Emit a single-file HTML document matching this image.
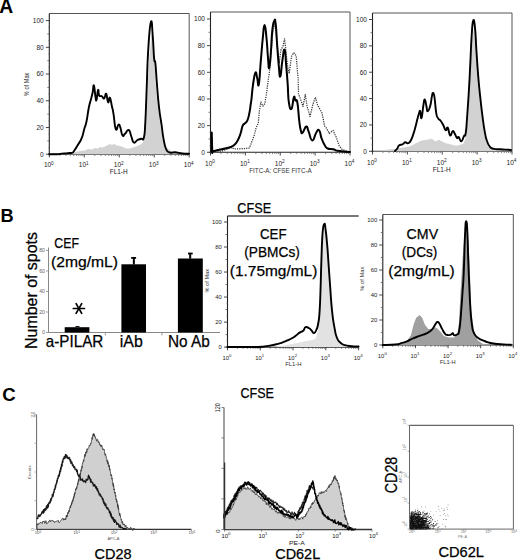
<!DOCTYPE html>
<html><head><meta charset="utf-8"><style>
html,body{margin:0;padding:0;background:#fff;overflow:hidden;width:520px;height:560px;}
svg{display:block;font-family:"Liberation Sans", sans-serif;}
</style></head><body>
<svg width="520" height="560" viewBox="0 0 520 560">
<rect width="520" height="560" fill="#fff"/>
<text x="-0.70" y="12.90" font-size="19.3" text-anchor="start" font-weight="bold" fill="#000" >A</text>
<text x="0.60" y="222.10" font-size="18.2" text-anchor="start" font-weight="bold" fill="#000" >B</text>
<text x="2.20" y="401.40" font-size="18.6" text-anchor="start" font-weight="bold" fill="#000" >C</text>
<line x1="49.30" y1="13.50" x2="189.20" y2="13.50" stroke="#555" stroke-width="1" />
<line x1="189.20" y1="13.50" x2="189.20" y2="154.20" stroke="#555" stroke-width="1" />
<line x1="49.30" y1="13.50" x2="49.30" y2="155.20" stroke="#222" stroke-width="1.1" />
<line x1="48.30" y1="154.20" x2="189.20" y2="154.20" stroke="#222" stroke-width="1.1" />
<line x1="45.80" y1="154.20" x2="49.30" y2="154.20" stroke="#333" stroke-width="0.9" />
<text x="43.70" y="156.50" font-size="6.5" text-anchor="end" font-weight="normal" fill="#1a1a1a" >0</text>
<line x1="45.80" y1="127.48" x2="49.30" y2="127.48" stroke="#333" stroke-width="0.9" />
<text x="43.70" y="129.78" font-size="6.5" text-anchor="end" font-weight="normal" fill="#1a1a1a" >20</text>
<line x1="45.80" y1="100.76" x2="49.30" y2="100.76" stroke="#333" stroke-width="0.9" />
<text x="43.70" y="103.06" font-size="6.5" text-anchor="end" font-weight="normal" fill="#1a1a1a" >40</text>
<line x1="45.80" y1="74.04" x2="49.30" y2="74.04" stroke="#333" stroke-width="0.9" />
<text x="43.70" y="76.34" font-size="6.5" text-anchor="end" font-weight="normal" fill="#1a1a1a" >60</text>
<line x1="45.80" y1="47.32" x2="49.30" y2="47.32" stroke="#333" stroke-width="0.9" />
<text x="43.70" y="49.62" font-size="6.5" text-anchor="end" font-weight="normal" fill="#1a1a1a" >80</text>
<line x1="45.80" y1="20.60" x2="49.30" y2="20.60" stroke="#333" stroke-width="0.9" />
<text x="43.70" y="22.90" font-size="6.5" text-anchor="end" font-weight="normal" fill="#1a1a1a" >100</text>
<line x1="47.30" y1="140.84" x2="49.30" y2="140.84" stroke="#555" stroke-width="0.8" />
<line x1="47.30" y1="114.12" x2="49.30" y2="114.12" stroke="#555" stroke-width="0.8" />
<line x1="47.30" y1="87.40" x2="49.30" y2="87.40" stroke="#555" stroke-width="0.8" />
<line x1="47.30" y1="60.68" x2="49.30" y2="60.68" stroke="#555" stroke-width="0.8" />
<line x1="47.30" y1="33.96" x2="49.30" y2="33.96" stroke="#555" stroke-width="0.8" />
<line x1="48.10" y1="147.52" x2="49.30" y2="147.52" stroke="#777" stroke-width="0.6" />
<line x1="48.10" y1="134.16" x2="49.30" y2="134.16" stroke="#777" stroke-width="0.6" />
<line x1="48.10" y1="120.80" x2="49.30" y2="120.80" stroke="#777" stroke-width="0.6" />
<line x1="48.10" y1="107.44" x2="49.30" y2="107.44" stroke="#777" stroke-width="0.6" />
<line x1="48.10" y1="94.08" x2="49.30" y2="94.08" stroke="#777" stroke-width="0.6" />
<line x1="48.10" y1="80.72" x2="49.30" y2="80.72" stroke="#777" stroke-width="0.6" />
<line x1="48.10" y1="67.36" x2="49.30" y2="67.36" stroke="#777" stroke-width="0.6" />
<line x1="48.10" y1="54.00" x2="49.30" y2="54.00" stroke="#777" stroke-width="0.6" />
<line x1="48.10" y1="40.64" x2="49.30" y2="40.64" stroke="#777" stroke-width="0.6" />
<line x1="48.10" y1="27.28" x2="49.30" y2="27.28" stroke="#777" stroke-width="0.6" />
<line x1="49.30" y1="154.20" x2="49.30" y2="157.40" stroke="#333" stroke-width="0.9" />
<text x="48.80" y="167.30" font-size="6.5" text-anchor="middle" fill="#1a1a1a">10<tspan dy="-2.73" font-size="4.68">0</tspan></text>
<line x1="59.83" y1="154.20" x2="59.83" y2="156.00" stroke="#555" stroke-width="0.7" />
<line x1="65.99" y1="154.20" x2="65.99" y2="156.00" stroke="#555" stroke-width="0.7" />
<line x1="70.36" y1="154.20" x2="70.36" y2="156.00" stroke="#555" stroke-width="0.7" />
<line x1="73.75" y1="154.20" x2="73.75" y2="156.00" stroke="#555" stroke-width="0.7" />
<line x1="76.52" y1="154.20" x2="76.52" y2="156.00" stroke="#555" stroke-width="0.7" />
<line x1="78.86" y1="154.20" x2="78.86" y2="156.00" stroke="#555" stroke-width="0.7" />
<line x1="80.89" y1="154.20" x2="80.89" y2="156.00" stroke="#555" stroke-width="0.7" />
<line x1="82.67" y1="154.20" x2="82.67" y2="156.00" stroke="#555" stroke-width="0.7" />
<line x1="84.27" y1="154.20" x2="84.27" y2="157.40" stroke="#333" stroke-width="0.9" />
<text x="83.77" y="167.30" font-size="6.5" text-anchor="middle" fill="#1a1a1a">10<tspan dy="-2.73" font-size="4.68">1</tspan></text>
<line x1="94.80" y1="154.20" x2="94.80" y2="156.00" stroke="#555" stroke-width="0.7" />
<line x1="100.96" y1="154.20" x2="100.96" y2="156.00" stroke="#555" stroke-width="0.7" />
<line x1="105.33" y1="154.20" x2="105.33" y2="156.00" stroke="#555" stroke-width="0.7" />
<line x1="108.72" y1="154.20" x2="108.72" y2="156.00" stroke="#555" stroke-width="0.7" />
<line x1="111.49" y1="154.20" x2="111.49" y2="156.00" stroke="#555" stroke-width="0.7" />
<line x1="113.83" y1="154.20" x2="113.83" y2="156.00" stroke="#555" stroke-width="0.7" />
<line x1="115.86" y1="154.20" x2="115.86" y2="156.00" stroke="#555" stroke-width="0.7" />
<line x1="117.65" y1="154.20" x2="117.65" y2="156.00" stroke="#555" stroke-width="0.7" />
<line x1="119.25" y1="154.20" x2="119.25" y2="157.40" stroke="#333" stroke-width="0.9" />
<text x="118.75" y="167.30" font-size="6.5" text-anchor="middle" fill="#1a1a1a">10<tspan dy="-2.73" font-size="4.68">2</tspan></text>
<line x1="129.78" y1="154.20" x2="129.78" y2="156.00" stroke="#555" stroke-width="0.7" />
<line x1="135.94" y1="154.20" x2="135.94" y2="156.00" stroke="#555" stroke-width="0.7" />
<line x1="140.31" y1="154.20" x2="140.31" y2="156.00" stroke="#555" stroke-width="0.7" />
<line x1="143.70" y1="154.20" x2="143.70" y2="156.00" stroke="#555" stroke-width="0.7" />
<line x1="146.47" y1="154.20" x2="146.47" y2="156.00" stroke="#555" stroke-width="0.7" />
<line x1="148.81" y1="154.20" x2="148.81" y2="156.00" stroke="#555" stroke-width="0.7" />
<line x1="150.84" y1="154.20" x2="150.84" y2="156.00" stroke="#555" stroke-width="0.7" />
<line x1="152.62" y1="154.20" x2="152.62" y2="156.00" stroke="#555" stroke-width="0.7" />
<line x1="154.22" y1="154.20" x2="154.22" y2="157.40" stroke="#333" stroke-width="0.9" />
<text x="153.72" y="167.30" font-size="6.5" text-anchor="middle" fill="#1a1a1a">10<tspan dy="-2.73" font-size="4.68">3</tspan></text>
<line x1="164.75" y1="154.20" x2="164.75" y2="156.00" stroke="#555" stroke-width="0.7" />
<line x1="170.91" y1="154.20" x2="170.91" y2="156.00" stroke="#555" stroke-width="0.7" />
<line x1="175.28" y1="154.20" x2="175.28" y2="156.00" stroke="#555" stroke-width="0.7" />
<line x1="178.67" y1="154.20" x2="178.67" y2="156.00" stroke="#555" stroke-width="0.7" />
<line x1="181.44" y1="154.20" x2="181.44" y2="156.00" stroke="#555" stroke-width="0.7" />
<line x1="183.78" y1="154.20" x2="183.78" y2="156.00" stroke="#555" stroke-width="0.7" />
<line x1="185.81" y1="154.20" x2="185.81" y2="156.00" stroke="#555" stroke-width="0.7" />
<line x1="187.60" y1="154.20" x2="187.60" y2="156.00" stroke="#555" stroke-width="0.7" />
<line x1="189.20" y1="154.20" x2="189.20" y2="157.40" stroke="#333" stroke-width="0.9" />
<text x="188.70" y="167.30" font-size="6.5" text-anchor="middle" fill="#1a1a1a">10<tspan dy="-2.73" font-size="4.68">4</tspan></text>
<text x="118.70" y="174.20" font-size="7" text-anchor="middle" font-weight="normal" fill="#222" textLength="18" lengthAdjust="spacingAndGlyphs" >FL1-H</text>
<text x="28.70" y="84.40" font-size="6.3" text-anchor="middle" font-weight="normal" fill="#333" transform="rotate(-90 28.70 84.40)" textLength="23.5" lengthAdjust="spacingAndGlyphs" >% of Max</text>
<polygon points="49.30,154.20 49.30,154.20 60.00,153.80 66.00,153.50 73.00,153.20 75.00,152.00 80.00,151.00 85.00,150.50 88.00,149.00 92.00,149.50 95.00,148.00 98.00,148.50 100.00,147.00 103.00,147.50 106.00,146.00 108.00,145.00 110.00,144.00 112.00,145.00 114.00,144.00 117.00,145.50 120.00,146.00 123.00,147.00 126.00,148.50 130.00,148.50 133.00,147.50 136.00,146.50 140.00,145.00 142.00,143.50 143.50,141.00 145.00,130.00 146.00,122.50 147.40,90.00 149.50,55.00 151.50,35.00 152.80,31.40 153.60,45.00 154.30,60.00 155.50,82.00 157.00,100.00 159.50,120.00 163.00,140.00 166.00,147.00 170.20,150.60 178.20,153.30 189.00,154.00 189.00,154.20" fill="#d2d2d2" stroke="none" stroke-width="1" stroke-linejoin="round"/>
<path d="M49.30,154.20C51.35,154.20 53.61,154.36 57.00,154.20C60.39,154.04 59.60,153.81 62.00,153.60C64.40,153.39 63.87,153.56 66.00,153.40C68.13,153.24 68.27,153.21 70.00,153.00C71.73,152.79 71.38,153.19 72.50,152.60C73.62,152.01 72.71,152.93 74.20,150.80C75.69,148.67 76.05,148.09 78.10,144.60C80.15,141.11 80.27,141.81 81.90,137.70C83.53,133.59 82.97,133.52 84.20,129.20C85.43,124.88 85.27,127.23 86.50,121.50C87.73,115.77 87.55,113.83 88.80,107.70C90.05,101.57 90.16,102.61 91.20,98.50C92.24,94.39 91.98,95.79 92.70,92.30C93.42,88.81 93.15,84.17 93.90,85.40C94.65,86.63 94.81,93.01 95.50,96.90C96.19,100.79 95.81,101.84 96.50,100.00C97.19,98.16 97.38,91.23 98.10,90.00C98.82,88.77 98.19,93.75 99.20,95.40C100.21,97.05 100.57,95.37 101.90,96.20C103.23,97.03 103.05,99.14 104.20,98.50C105.35,97.86 105.16,92.79 106.20,93.80C107.24,94.81 107.11,101.26 108.10,102.30C109.09,103.34 108.89,96.66 109.90,97.70C110.91,98.74 110.94,101.91 111.90,106.20C112.86,110.49 112.46,107.67 113.50,113.80C114.54,119.93 114.47,126.32 115.80,129.20C117.13,132.08 117.27,125.00 118.50,124.60C119.73,124.20 119.33,124.79 120.40,127.70C121.47,130.61 121.27,133.89 122.50,135.50C123.73,137.11 123.33,135.22 125.00,133.75C126.67,132.28 127.08,129.33 128.75,130.00C130.42,130.67 129.92,132.92 131.25,136.25C132.58,139.58 132.08,141.50 133.75,142.50C135.42,143.50 135.50,141.00 137.50,140.00C139.50,139.00 139.54,139.42 141.25,138.75C142.96,138.08 142.82,141.83 143.90,137.50C144.98,133.17 144.58,135.06 145.30,122.50C146.02,109.94 145.83,109.68 146.60,90.40C147.37,71.12 147.05,68.44 148.20,50.20C149.35,31.96 149.67,25.57 150.90,22.00C152.13,18.43 151.95,27.15 152.80,36.80C153.65,46.45 153.41,51.05 154.10,58.20C154.79,65.35 154.68,57.17 155.40,63.60C156.12,70.03 155.87,70.89 156.80,82.30C157.73,93.71 157.62,94.96 158.90,106.40C160.18,117.84 160.37,116.61 161.60,125.20C162.83,133.79 162.27,132.17 163.50,138.60C164.73,145.03 164.47,145.59 166.20,149.30C167.93,153.01 167.65,151.70 170.00,152.50C172.35,153.30 171.67,152.03 175.00,152.30C178.33,152.57 178.77,153.10 182.50,153.50C186.23,153.90 187.27,153.72 189.00,153.80" stroke="#000" stroke-width="1.9" fill="none" stroke-linejoin="round" stroke-linecap="round" />
<line x1="210.50" y1="12.00" x2="350.00" y2="12.00" stroke="#555" stroke-width="1" />
<line x1="350.00" y1="12.00" x2="350.00" y2="152.30" stroke="#555" stroke-width="1" />
<line x1="210.50" y1="12.00" x2="210.50" y2="153.30" stroke="#222" stroke-width="1.1" />
<line x1="209.50" y1="152.30" x2="350.00" y2="152.30" stroke="#222" stroke-width="1.1" />
<line x1="207.00" y1="152.30" x2="210.50" y2="152.30" stroke="#333" stroke-width="0.9" />
<text x="204.90" y="154.60" font-size="6.5" text-anchor="end" font-weight="normal" fill="#1a1a1a" >0</text>
<line x1="207.00" y1="125.64" x2="210.50" y2="125.64" stroke="#333" stroke-width="0.9" />
<text x="204.90" y="127.94" font-size="6.5" text-anchor="end" font-weight="normal" fill="#1a1a1a" >20</text>
<line x1="207.00" y1="98.98" x2="210.50" y2="98.98" stroke="#333" stroke-width="0.9" />
<text x="204.90" y="101.28" font-size="6.5" text-anchor="end" font-weight="normal" fill="#1a1a1a" >40</text>
<line x1="207.00" y1="72.32" x2="210.50" y2="72.32" stroke="#333" stroke-width="0.9" />
<text x="204.90" y="74.62" font-size="6.5" text-anchor="end" font-weight="normal" fill="#1a1a1a" >60</text>
<line x1="207.00" y1="45.66" x2="210.50" y2="45.66" stroke="#333" stroke-width="0.9" />
<text x="204.90" y="47.96" font-size="6.5" text-anchor="end" font-weight="normal" fill="#1a1a1a" >80</text>
<line x1="207.00" y1="19.00" x2="210.50" y2="19.00" stroke="#333" stroke-width="0.9" />
<text x="204.90" y="21.30" font-size="6.5" text-anchor="end" font-weight="normal" fill="#1a1a1a" >100</text>
<line x1="208.50" y1="138.97" x2="210.50" y2="138.97" stroke="#555" stroke-width="0.8" />
<line x1="208.50" y1="112.31" x2="210.50" y2="112.31" stroke="#555" stroke-width="0.8" />
<line x1="208.50" y1="85.65" x2="210.50" y2="85.65" stroke="#555" stroke-width="0.8" />
<line x1="208.50" y1="58.99" x2="210.50" y2="58.99" stroke="#555" stroke-width="0.8" />
<line x1="208.50" y1="32.33" x2="210.50" y2="32.33" stroke="#555" stroke-width="0.8" />
<line x1="209.30" y1="145.64" x2="210.50" y2="145.64" stroke="#777" stroke-width="0.6" />
<line x1="209.30" y1="132.31" x2="210.50" y2="132.31" stroke="#777" stroke-width="0.6" />
<line x1="209.30" y1="118.98" x2="210.50" y2="118.98" stroke="#777" stroke-width="0.6" />
<line x1="209.30" y1="105.65" x2="210.50" y2="105.65" stroke="#777" stroke-width="0.6" />
<line x1="209.30" y1="92.31" x2="210.50" y2="92.31" stroke="#777" stroke-width="0.6" />
<line x1="209.30" y1="78.98" x2="210.50" y2="78.98" stroke="#777" stroke-width="0.6" />
<line x1="209.30" y1="65.66" x2="210.50" y2="65.66" stroke="#777" stroke-width="0.6" />
<line x1="209.30" y1="52.33" x2="210.50" y2="52.33" stroke="#777" stroke-width="0.6" />
<line x1="209.30" y1="38.99" x2="210.50" y2="38.99" stroke="#777" stroke-width="0.6" />
<line x1="209.30" y1="25.66" x2="210.50" y2="25.66" stroke="#777" stroke-width="0.6" />
<line x1="210.50" y1="152.30" x2="210.50" y2="155.50" stroke="#333" stroke-width="0.9" />
<text x="210.00" y="165.50" font-size="6.5" text-anchor="middle" fill="#1a1a1a">10<tspan dy="-2.73" font-size="4.68">0</tspan></text>
<line x1="221.00" y1="152.30" x2="221.00" y2="154.10" stroke="#555" stroke-width="0.7" />
<line x1="227.14" y1="152.30" x2="227.14" y2="154.10" stroke="#555" stroke-width="0.7" />
<line x1="231.50" y1="152.30" x2="231.50" y2="154.10" stroke="#555" stroke-width="0.7" />
<line x1="234.88" y1="152.30" x2="234.88" y2="154.10" stroke="#555" stroke-width="0.7" />
<line x1="237.64" y1="152.30" x2="237.64" y2="154.10" stroke="#555" stroke-width="0.7" />
<line x1="239.97" y1="152.30" x2="239.97" y2="154.10" stroke="#555" stroke-width="0.7" />
<line x1="242.00" y1="152.30" x2="242.00" y2="154.10" stroke="#555" stroke-width="0.7" />
<line x1="243.78" y1="152.30" x2="243.78" y2="154.10" stroke="#555" stroke-width="0.7" />
<line x1="245.38" y1="152.30" x2="245.38" y2="155.50" stroke="#333" stroke-width="0.9" />
<text x="244.88" y="165.50" font-size="6.5" text-anchor="middle" fill="#1a1a1a">10<tspan dy="-2.73" font-size="4.68">1</tspan></text>
<line x1="255.87" y1="152.30" x2="255.87" y2="154.10" stroke="#555" stroke-width="0.7" />
<line x1="262.01" y1="152.30" x2="262.01" y2="154.10" stroke="#555" stroke-width="0.7" />
<line x1="266.37" y1="152.30" x2="266.37" y2="154.10" stroke="#555" stroke-width="0.7" />
<line x1="269.75" y1="152.30" x2="269.75" y2="154.10" stroke="#555" stroke-width="0.7" />
<line x1="272.51" y1="152.30" x2="272.51" y2="154.10" stroke="#555" stroke-width="0.7" />
<line x1="274.85" y1="152.30" x2="274.85" y2="154.10" stroke="#555" stroke-width="0.7" />
<line x1="276.87" y1="152.30" x2="276.87" y2="154.10" stroke="#555" stroke-width="0.7" />
<line x1="278.65" y1="152.30" x2="278.65" y2="154.10" stroke="#555" stroke-width="0.7" />
<line x1="280.25" y1="152.30" x2="280.25" y2="155.50" stroke="#333" stroke-width="0.9" />
<text x="279.75" y="165.50" font-size="6.5" text-anchor="middle" fill="#1a1a1a">10<tspan dy="-2.73" font-size="4.68">2</tspan></text>
<line x1="290.75" y1="152.30" x2="290.75" y2="154.10" stroke="#555" stroke-width="0.7" />
<line x1="296.89" y1="152.30" x2="296.89" y2="154.10" stroke="#555" stroke-width="0.7" />
<line x1="301.25" y1="152.30" x2="301.25" y2="154.10" stroke="#555" stroke-width="0.7" />
<line x1="304.63" y1="152.30" x2="304.63" y2="154.10" stroke="#555" stroke-width="0.7" />
<line x1="307.39" y1="152.30" x2="307.39" y2="154.10" stroke="#555" stroke-width="0.7" />
<line x1="309.72" y1="152.30" x2="309.72" y2="154.10" stroke="#555" stroke-width="0.7" />
<line x1="311.75" y1="152.30" x2="311.75" y2="154.10" stroke="#555" stroke-width="0.7" />
<line x1="313.53" y1="152.30" x2="313.53" y2="154.10" stroke="#555" stroke-width="0.7" />
<line x1="315.12" y1="152.30" x2="315.12" y2="155.50" stroke="#333" stroke-width="0.9" />
<text x="314.62" y="165.50" font-size="6.5" text-anchor="middle" fill="#1a1a1a">10<tspan dy="-2.73" font-size="4.68">3</tspan></text>
<line x1="325.62" y1="152.30" x2="325.62" y2="154.10" stroke="#555" stroke-width="0.7" />
<line x1="331.76" y1="152.30" x2="331.76" y2="154.10" stroke="#555" stroke-width="0.7" />
<line x1="336.12" y1="152.30" x2="336.12" y2="154.10" stroke="#555" stroke-width="0.7" />
<line x1="339.50" y1="152.30" x2="339.50" y2="154.10" stroke="#555" stroke-width="0.7" />
<line x1="342.26" y1="152.30" x2="342.26" y2="154.10" stroke="#555" stroke-width="0.7" />
<line x1="344.60" y1="152.30" x2="344.60" y2="154.10" stroke="#555" stroke-width="0.7" />
<line x1="346.62" y1="152.30" x2="346.62" y2="154.10" stroke="#555" stroke-width="0.7" />
<line x1="348.40" y1="152.30" x2="348.40" y2="154.10" stroke="#555" stroke-width="0.7" />
<line x1="350.00" y1="152.30" x2="350.00" y2="155.50" stroke="#333" stroke-width="0.9" />
<text x="349.50" y="165.50" font-size="6.5" text-anchor="middle" fill="#1a1a1a">10<tspan dy="-2.73" font-size="4.68">4</tspan></text>
<text x="280.50" y="172.80" font-size="6.4" text-anchor="middle" font-weight="normal" fill="#333" textLength="62.5" lengthAdjust="spacingAndGlyphs" >FITC-A: CFSE FITC-A</text>
<polyline points="210.50,151.00 221.20,151.20 231.90,147.50 233.90,149.00 245.40,148.50 249.40,147.90 252.10,141.10 254.10,135.80 256.10,127.70 258.20,123.60 259.50,110.20 260.90,102.10 262.90,106.20 264.90,103.50 266.20,95.40 267.70,84.20 269.80,69.00 271.50,48.00 273.00,30.00 274.50,24.00 276.00,32.00 277.50,48.00 279.20,63.00 280.80,50.40 283.10,45.80 284.60,38.80 286.20,53.50 287.70,67.30 289.20,73.50 291.50,56.50 293.80,52.70 296.20,55.80 297.20,68.80 298.20,79.60 298.50,94.00 300.50,99.00 303.00,106.50 305.30,94.50 307.00,106.00 310.00,116.50 313.00,104.00 315.40,97.30 317.50,105.00 319.50,108.50 322.00,113.00 324.60,126.00 326.90,128.80 329.20,133.50 333.10,130.40 336.20,137.30 339.20,145.80 342.30,149.60 346.90,151.20 350.00,151.80" stroke="#333" stroke-width="1.25" fill="none" stroke-linejoin="round" stroke-linecap="butt" stroke-dasharray="1.2 1.1"/>
<path d="M211.70,151.50C211.70,146.41 211.54,132.64 211.70,132.40C211.86,132.16 211.93,145.59 212.30,150.60C212.67,155.61 211.45,151.39 213.10,151.20C214.75,151.01 215.27,150.62 218.50,149.90C221.73,149.18 222.16,149.22 225.20,148.50C228.24,147.78 227.58,148.08 229.90,147.20C232.22,146.32 231.93,146.83 233.90,145.20C235.87,143.57 235.59,143.98 237.30,141.10C239.01,138.22 238.86,138.51 240.30,134.40C241.74,130.29 241.53,128.58 242.70,125.70C243.87,122.82 243.45,125.04 244.70,123.60C245.95,122.16 246.15,123.15 247.40,120.30C248.65,117.45 248.49,117.38 249.40,112.90C250.31,108.42 250.24,107.26 250.80,103.50C251.36,99.74 250.89,103.95 251.50,98.80C252.11,93.65 252.06,91.16 253.10,84.20C254.14,77.24 254.31,74.35 255.40,72.70C256.49,71.05 256.29,74.93 257.20,78.00C258.11,81.07 257.84,88.68 258.80,84.20C259.76,79.72 259.73,73.52 260.80,61.20C261.87,48.88 261.79,47.65 262.80,38.00C263.81,28.35 263.61,25.00 264.60,25.00C265.59,25.00 265.59,29.20 266.50,38.00C267.41,46.80 267.28,50.00 268.00,58.00C268.72,66.00 268.45,69.20 269.20,68.00C269.95,66.80 269.97,63.53 270.80,53.50C271.63,43.47 271.39,39.01 272.30,30.40C273.21,21.79 273.29,22.85 274.20,21.20C275.11,19.55 274.90,17.64 275.70,24.20C276.50,30.76 276.37,34.71 277.20,45.80C278.03,56.89 277.97,57.61 278.80,65.80C279.63,73.99 279.37,77.73 280.30,76.50C281.23,75.27 281.15,68.37 282.30,61.20C283.45,54.03 283.56,48.37 284.60,49.60C285.64,50.83 285.37,56.57 286.20,65.80C287.03,75.03 287.01,74.57 287.70,84.20C288.39,93.83 287.79,95.34 288.80,101.90C289.81,108.46 290.17,110.03 291.50,108.80C292.83,107.57 292.76,99.54 293.80,97.30C294.84,95.06 294.44,98.96 295.40,100.40C296.36,101.84 296.39,97.37 297.40,102.70C298.41,108.03 298.29,113.01 299.20,120.40C300.11,127.79 299.89,127.12 300.80,130.40C301.71,133.68 301.16,133.74 302.60,132.70C304.04,131.66 304.63,126.90 306.20,126.50C307.77,126.10 306.87,127.49 308.50,131.20C310.13,134.91 310.25,140.00 312.30,140.40C314.35,140.80 314.36,135.37 316.20,132.70C318.04,130.03 317.79,128.96 319.20,130.40C320.61,131.84 320.06,134.21 321.50,138.10C322.94,141.99 322.95,142.23 324.60,145.00C326.25,147.77 325.43,147.35 327.70,148.50C329.97,149.65 330.43,148.69 333.10,149.30C335.77,149.91 334.85,150.21 337.70,150.80C340.55,151.39 340.52,151.18 343.80,151.50C347.08,151.82 348.35,151.87 350.00,152.00" stroke="#000" stroke-width="2.0" fill="none" stroke-linejoin="round" stroke-linecap="round" />
<line x1="372.50" y1="13.00" x2="512.00" y2="13.00" stroke="#555" stroke-width="1" />
<line x1="512.00" y1="13.00" x2="512.00" y2="151.30" stroke="#555" stroke-width="1" />
<line x1="372.50" y1="13.00" x2="372.50" y2="152.30" stroke="#222" stroke-width="1.1" />
<line x1="371.50" y1="151.30" x2="512.00" y2="151.30" stroke="#222" stroke-width="1.1" />
<line x1="369.00" y1="151.30" x2="372.50" y2="151.30" stroke="#333" stroke-width="0.9" />
<text x="366.90" y="153.60" font-size="6.5" text-anchor="end" font-weight="normal" fill="#1a1a1a" >0</text>
<line x1="369.00" y1="124.94" x2="372.50" y2="124.94" stroke="#333" stroke-width="0.9" />
<text x="366.90" y="127.24" font-size="6.5" text-anchor="end" font-weight="normal" fill="#1a1a1a" >20</text>
<line x1="369.00" y1="98.58" x2="372.50" y2="98.58" stroke="#333" stroke-width="0.9" />
<text x="366.90" y="100.88" font-size="6.5" text-anchor="end" font-weight="normal" fill="#1a1a1a" >40</text>
<line x1="369.00" y1="72.22" x2="372.50" y2="72.22" stroke="#333" stroke-width="0.9" />
<text x="366.90" y="74.52" font-size="6.5" text-anchor="end" font-weight="normal" fill="#1a1a1a" >60</text>
<line x1="369.00" y1="45.86" x2="372.50" y2="45.86" stroke="#333" stroke-width="0.9" />
<text x="366.90" y="48.16" font-size="6.5" text-anchor="end" font-weight="normal" fill="#1a1a1a" >80</text>
<line x1="369.00" y1="19.50" x2="372.50" y2="19.50" stroke="#333" stroke-width="0.9" />
<text x="366.90" y="21.80" font-size="6.5" text-anchor="end" font-weight="normal" fill="#1a1a1a" >100</text>
<line x1="370.50" y1="138.12" x2="372.50" y2="138.12" stroke="#555" stroke-width="0.8" />
<line x1="370.50" y1="111.76" x2="372.50" y2="111.76" stroke="#555" stroke-width="0.8" />
<line x1="370.50" y1="85.40" x2="372.50" y2="85.40" stroke="#555" stroke-width="0.8" />
<line x1="370.50" y1="59.04" x2="372.50" y2="59.04" stroke="#555" stroke-width="0.8" />
<line x1="370.50" y1="32.68" x2="372.50" y2="32.68" stroke="#555" stroke-width="0.8" />
<line x1="371.30" y1="144.71" x2="372.50" y2="144.71" stroke="#777" stroke-width="0.6" />
<line x1="371.30" y1="131.53" x2="372.50" y2="131.53" stroke="#777" stroke-width="0.6" />
<line x1="371.30" y1="118.35" x2="372.50" y2="118.35" stroke="#777" stroke-width="0.6" />
<line x1="371.30" y1="105.17" x2="372.50" y2="105.17" stroke="#777" stroke-width="0.6" />
<line x1="371.30" y1="91.99" x2="372.50" y2="91.99" stroke="#777" stroke-width="0.6" />
<line x1="371.30" y1="78.81" x2="372.50" y2="78.81" stroke="#777" stroke-width="0.6" />
<line x1="371.30" y1="65.63" x2="372.50" y2="65.63" stroke="#777" stroke-width="0.6" />
<line x1="371.30" y1="52.45" x2="372.50" y2="52.45" stroke="#777" stroke-width="0.6" />
<line x1="371.30" y1="39.27" x2="372.50" y2="39.27" stroke="#777" stroke-width="0.6" />
<line x1="371.30" y1="26.09" x2="372.50" y2="26.09" stroke="#777" stroke-width="0.6" />
<line x1="372.50" y1="151.30" x2="372.50" y2="154.50" stroke="#333" stroke-width="0.9" />
<text x="372.00" y="164.50" font-size="6.5" text-anchor="middle" fill="#1a1a1a">10<tspan dy="-2.73" font-size="4.68">0</tspan></text>
<line x1="383.00" y1="151.30" x2="383.00" y2="153.10" stroke="#555" stroke-width="0.7" />
<line x1="389.14" y1="151.30" x2="389.14" y2="153.10" stroke="#555" stroke-width="0.7" />
<line x1="393.50" y1="151.30" x2="393.50" y2="153.10" stroke="#555" stroke-width="0.7" />
<line x1="396.88" y1="151.30" x2="396.88" y2="153.10" stroke="#555" stroke-width="0.7" />
<line x1="399.64" y1="151.30" x2="399.64" y2="153.10" stroke="#555" stroke-width="0.7" />
<line x1="401.97" y1="151.30" x2="401.97" y2="153.10" stroke="#555" stroke-width="0.7" />
<line x1="404.00" y1="151.30" x2="404.00" y2="153.10" stroke="#555" stroke-width="0.7" />
<line x1="405.78" y1="151.30" x2="405.78" y2="153.10" stroke="#555" stroke-width="0.7" />
<line x1="407.38" y1="151.30" x2="407.38" y2="154.50" stroke="#333" stroke-width="0.9" />
<text x="406.88" y="164.50" font-size="6.5" text-anchor="middle" fill="#1a1a1a">10<tspan dy="-2.73" font-size="4.68">1</tspan></text>
<line x1="417.87" y1="151.30" x2="417.87" y2="153.10" stroke="#555" stroke-width="0.7" />
<line x1="424.01" y1="151.30" x2="424.01" y2="153.10" stroke="#555" stroke-width="0.7" />
<line x1="428.37" y1="151.30" x2="428.37" y2="153.10" stroke="#555" stroke-width="0.7" />
<line x1="431.75" y1="151.30" x2="431.75" y2="153.10" stroke="#555" stroke-width="0.7" />
<line x1="434.51" y1="151.30" x2="434.51" y2="153.10" stroke="#555" stroke-width="0.7" />
<line x1="436.85" y1="151.30" x2="436.85" y2="153.10" stroke="#555" stroke-width="0.7" />
<line x1="438.87" y1="151.30" x2="438.87" y2="153.10" stroke="#555" stroke-width="0.7" />
<line x1="440.65" y1="151.30" x2="440.65" y2="153.10" stroke="#555" stroke-width="0.7" />
<line x1="442.25" y1="151.30" x2="442.25" y2="154.50" stroke="#333" stroke-width="0.9" />
<text x="441.75" y="164.50" font-size="6.5" text-anchor="middle" fill="#1a1a1a">10<tspan dy="-2.73" font-size="4.68">2</tspan></text>
<line x1="452.75" y1="151.30" x2="452.75" y2="153.10" stroke="#555" stroke-width="0.7" />
<line x1="458.89" y1="151.30" x2="458.89" y2="153.10" stroke="#555" stroke-width="0.7" />
<line x1="463.25" y1="151.30" x2="463.25" y2="153.10" stroke="#555" stroke-width="0.7" />
<line x1="466.63" y1="151.30" x2="466.63" y2="153.10" stroke="#555" stroke-width="0.7" />
<line x1="469.39" y1="151.30" x2="469.39" y2="153.10" stroke="#555" stroke-width="0.7" />
<line x1="471.72" y1="151.30" x2="471.72" y2="153.10" stroke="#555" stroke-width="0.7" />
<line x1="473.75" y1="151.30" x2="473.75" y2="153.10" stroke="#555" stroke-width="0.7" />
<line x1="475.53" y1="151.30" x2="475.53" y2="153.10" stroke="#555" stroke-width="0.7" />
<line x1="477.12" y1="151.30" x2="477.12" y2="154.50" stroke="#333" stroke-width="0.9" />
<text x="476.62" y="164.50" font-size="6.5" text-anchor="middle" fill="#1a1a1a">10<tspan dy="-2.73" font-size="4.68">3</tspan></text>
<line x1="487.62" y1="151.30" x2="487.62" y2="153.10" stroke="#555" stroke-width="0.7" />
<line x1="493.76" y1="151.30" x2="493.76" y2="153.10" stroke="#555" stroke-width="0.7" />
<line x1="498.12" y1="151.30" x2="498.12" y2="153.10" stroke="#555" stroke-width="0.7" />
<line x1="501.50" y1="151.30" x2="501.50" y2="153.10" stroke="#555" stroke-width="0.7" />
<line x1="504.26" y1="151.30" x2="504.26" y2="153.10" stroke="#555" stroke-width="0.7" />
<line x1="506.60" y1="151.30" x2="506.60" y2="153.10" stroke="#555" stroke-width="0.7" />
<line x1="508.62" y1="151.30" x2="508.62" y2="153.10" stroke="#555" stroke-width="0.7" />
<line x1="510.40" y1="151.30" x2="510.40" y2="153.10" stroke="#555" stroke-width="0.7" />
<line x1="512.00" y1="151.30" x2="512.00" y2="154.50" stroke="#333" stroke-width="0.9" />
<text x="511.50" y="164.50" font-size="6.5" text-anchor="middle" fill="#1a1a1a">10<tspan dy="-2.73" font-size="4.68">4</tspan></text>
<text x="441.75" y="172.00" font-size="7" text-anchor="middle" font-weight="normal" fill="#222" textLength="18" lengthAdjust="spacingAndGlyphs" >FL1-H</text>
<polygon points="372.50,151.30 372.50,151.30 390.40,149.20 397.30,148.40 409.40,146.60 414.60,144.00 421.50,140.60 426.70,139.70 431.90,138.80 435.40,141.40 438.80,139.70 442.30,141.40 445.80,143.20 449.20,144.00 456.20,145.80 463.10,144.00 465.70,138.00 467.50,120.00 469.00,95.00 470.50,65.00 472.00,40.00 474.30,26.00 476.00,35.00 477.80,63.60 480.40,98.40 483.10,127.90 485.80,141.30 488.50,147.20 492.50,149.30 500.00,150.50 511.00,151.00 511.00,151.30" fill="#d2d2d2" stroke="none" stroke-width="1" stroke-linejoin="round"/>
<path d="M395.00,151.00C395.61,150.33 396.23,149.99 397.30,148.50C398.37,147.01 397.61,146.49 399.00,145.40C400.39,144.31 400.87,145.23 402.50,144.40C404.13,143.57 403.71,142.62 405.10,142.30C406.49,141.98 406.31,143.44 407.70,143.20C409.09,142.96 408.91,143.48 410.30,141.40C411.69,139.32 411.51,139.32 412.90,135.40C414.29,131.48 414.35,130.86 415.50,126.70C416.65,122.54 416.29,123.27 417.20,119.80C418.11,116.33 418.10,115.99 418.90,113.70C419.70,111.41 419.51,110.03 420.20,111.20C420.89,112.37 420.67,119.49 421.50,118.10C422.33,116.71 422.45,110.99 423.30,106.00C424.15,101.01 423.87,99.40 424.70,99.40C425.53,99.40 425.63,102.85 426.40,106.00C427.17,109.15 426.59,111.20 427.60,111.20C428.61,111.20 429.05,109.95 430.20,106.00C431.35,102.05 431.13,99.87 431.90,96.40C432.67,92.93 432.41,92.76 433.10,93.00C433.79,93.24 433.67,91.99 434.50,97.30C435.33,102.61 435.27,107.35 436.20,112.90C437.13,118.45 436.83,116.02 438.00,118.10C439.17,120.18 439.21,118.86 440.60,120.70C441.99,122.54 441.81,122.47 443.20,125.00C444.59,127.53 444.57,129.51 445.80,130.20C447.03,130.89 446.65,126.21 447.80,127.60C448.95,128.99 448.79,134.47 450.10,135.40C451.41,136.33 451.45,131.55 452.70,131.10C453.95,130.65 453.65,131.86 454.80,133.70C455.95,135.54 455.96,137.09 457.00,138.00C458.04,138.91 457.55,136.19 458.70,137.10C459.85,138.01 459.91,141.64 461.30,141.40C462.69,141.16 462.73,138.39 463.90,136.20C465.07,134.01 464.85,138.27 465.70,133.20C466.55,128.13 466.25,128.61 467.10,117.20C467.95,105.79 468.05,104.69 468.90,90.40C469.75,76.11 469.58,77.89 470.30,63.60C471.02,49.31 470.83,48.24 471.60,36.80C472.37,25.36 472.27,22.83 473.20,20.70C474.13,18.57 474.25,20.93 475.10,28.80C475.95,36.67 475.55,37.35 476.40,50.20C477.25,63.05 477.23,64.15 478.30,77.00C479.37,89.85 479.25,87.68 480.40,98.40C481.55,109.12 481.37,107.92 482.60,117.20C483.83,126.48 483.80,126.77 485.00,133.20C486.20,139.63 485.82,137.73 487.10,141.30C488.38,144.87 488.01,144.60 489.80,146.60C491.59,148.60 490.95,148.08 493.80,148.80C496.65,149.52 496.55,149.03 500.50,149.30C504.45,149.57 505.80,149.61 508.60,149.80C511.40,149.99 510.36,149.95 511.00,150.00" stroke="#000" stroke-width="1.9" fill="none" stroke-linejoin="round" stroke-linecap="round" />
<line x1="48.50" y1="247.50" x2="48.50" y2="332.50" stroke="#888" stroke-width="1" />
<line x1="48.50" y1="332.50" x2="220.00" y2="332.50" stroke="#888" stroke-width="1" />
<line x1="46.00" y1="332.50" x2="48.50" y2="332.50" stroke="#888" stroke-width="0.8" />
<text x="45.00" y="334.30" font-size="5.2" text-anchor="end" font-weight="normal" fill="#666" >0</text>
<line x1="46.00" y1="312.00" x2="48.50" y2="312.00" stroke="#888" stroke-width="0.8" />
<text x="45.00" y="313.80" font-size="5.2" text-anchor="end" font-weight="normal" fill="#666" >20</text>
<line x1="46.00" y1="291.50" x2="48.50" y2="291.50" stroke="#888" stroke-width="0.8" />
<text x="45.00" y="293.30" font-size="5.2" text-anchor="end" font-weight="normal" fill="#666" >40</text>
<line x1="46.00" y1="271.00" x2="48.50" y2="271.00" stroke="#888" stroke-width="0.8" />
<text x="45.00" y="272.80" font-size="5.2" text-anchor="end" font-weight="normal" fill="#666" >60</text>
<line x1="46.00" y1="250.50" x2="48.50" y2="250.50" stroke="#888" stroke-width="0.8" />
<text x="45.00" y="252.30" font-size="5.2" text-anchor="end" font-weight="normal" fill="#666" >80</text>
<line x1="105.40" y1="332.50" x2="105.40" y2="335.50" stroke="#888" stroke-width="0.8" />
<line x1="161.90" y1="332.50" x2="161.90" y2="335.50" stroke="#888" stroke-width="0.8" />
<rect x="64.7" y="327.2" width="24.7" height="5.3" fill="#000"/>
<line x1="75.50" y1="326.60" x2="79.50" y2="326.60" stroke="#000" stroke-width="1" />
<rect x="121.4" y="264.3" width="24.6" height="68.2" fill="#000"/>
<line x1="133.85" y1="264.50" x2="133.85" y2="258.00" stroke="#000" stroke-width="2" />
<line x1="131.20" y1="257.90" x2="136.10" y2="257.90" stroke="#000" stroke-width="1.8" />
<rect x="177.9" y="258.5" width="24.9" height="74" fill="#000"/>
<line x1="190.20" y1="258.70" x2="190.20" y2="253.60" stroke="#000" stroke-width="2" />
<line x1="188.00" y1="253.50" x2="192.70" y2="253.50" stroke="#000" stroke-width="1.8" />
<text x="37.30" y="349.00" font-size="16.3" text-anchor="start" font-weight="normal" fill="#000" transform="rotate(-90 37.30 349.00)" textLength="117" lengthAdjust="spacingAndGlyphs" stroke="#000" stroke-width="0.25" >Number of spots</text>
<text x="54.30" y="247.50" font-size="14.8" text-anchor="start" font-weight="normal" fill="#000" textLength="24.6" lengthAdjust="spacingAndGlyphs" stroke="#000" stroke-width="0.25" >CEF</text>
<text x="51.00" y="266.90" font-size="14.8" text-anchor="start" font-weight="normal" fill="#000" textLength="67" lengthAdjust="spacingAndGlyphs" stroke="#000" stroke-width="0.25" >(2mg/mL)</text>
<text x="45.80" y="347.10" font-size="16.5" text-anchor="start" font-weight="normal" fill="#000" textLength="57.5" lengthAdjust="spacingAndGlyphs" stroke="#000" stroke-width="0.25" >a-PILAR</text>
<text x="119.80" y="347.10" font-size="16.5" text-anchor="start" font-weight="normal" fill="#000" textLength="23" lengthAdjust="spacingAndGlyphs" stroke="#000" stroke-width="0.25" >iAb</text>
<text x="168.00" y="347.10" font-size="16.5" text-anchor="start" font-weight="normal" fill="#000" textLength="41.8" lengthAdjust="spacingAndGlyphs" stroke="#000" stroke-width="0.25" >No Ab</text>
<line x1="73.30" y1="308.50" x2="84.50" y2="308.50" stroke="#000" stroke-width="1.7" stroke-linecap="round"/>
<line x1="76.10" y1="303.65" x2="81.70" y2="313.35" stroke="#000" stroke-width="1.7" stroke-linecap="round"/>
<line x1="81.70" y1="303.65" x2="76.10" y2="313.35" stroke="#000" stroke-width="1.7" stroke-linecap="round"/>
<line x1="227.50" y1="216.00" x2="358.60" y2="216.00" stroke="#555" stroke-width="1" />
<line x1="227.50" y1="216.00" x2="227.50" y2="348.10" stroke="#222" stroke-width="1.1" />
<line x1="226.50" y1="347.10" x2="358.60" y2="347.10" stroke="#222" stroke-width="1.1" />
<line x1="224.00" y1="347.10" x2="227.50" y2="347.10" stroke="#333" stroke-width="0.9" />
<text x="221.90" y="349.40" font-size="5.9" text-anchor="end" font-weight="normal" fill="#1a1a1a" >0</text>
<line x1="224.00" y1="322.08" x2="227.50" y2="322.08" stroke="#333" stroke-width="0.9" />
<text x="221.90" y="324.38" font-size="5.9" text-anchor="end" font-weight="normal" fill="#1a1a1a" >20</text>
<line x1="224.00" y1="297.06" x2="227.50" y2="297.06" stroke="#333" stroke-width="0.9" />
<text x="221.90" y="299.36" font-size="5.9" text-anchor="end" font-weight="normal" fill="#1a1a1a" >40</text>
<line x1="224.00" y1="272.04" x2="227.50" y2="272.04" stroke="#333" stroke-width="0.9" />
<text x="221.90" y="274.34" font-size="5.9" text-anchor="end" font-weight="normal" fill="#1a1a1a" >60</text>
<line x1="224.00" y1="247.02" x2="227.50" y2="247.02" stroke="#333" stroke-width="0.9" />
<text x="221.90" y="249.32" font-size="5.9" text-anchor="end" font-weight="normal" fill="#1a1a1a" >80</text>
<line x1="224.00" y1="222.00" x2="227.50" y2="222.00" stroke="#333" stroke-width="0.9" />
<text x="221.90" y="224.30" font-size="5.9" text-anchor="end" font-weight="normal" fill="#1a1a1a" >100</text>
<line x1="225.50" y1="334.59" x2="227.50" y2="334.59" stroke="#555" stroke-width="0.8" />
<line x1="225.50" y1="309.57" x2="227.50" y2="309.57" stroke="#555" stroke-width="0.8" />
<line x1="225.50" y1="284.55" x2="227.50" y2="284.55" stroke="#555" stroke-width="0.8" />
<line x1="225.50" y1="259.53" x2="227.50" y2="259.53" stroke="#555" stroke-width="0.8" />
<line x1="225.50" y1="234.51" x2="227.50" y2="234.51" stroke="#555" stroke-width="0.8" />
<line x1="226.30" y1="340.85" x2="227.50" y2="340.85" stroke="#777" stroke-width="0.6" />
<line x1="226.30" y1="328.34" x2="227.50" y2="328.34" stroke="#777" stroke-width="0.6" />
<line x1="226.30" y1="315.83" x2="227.50" y2="315.83" stroke="#777" stroke-width="0.6" />
<line x1="226.30" y1="303.31" x2="227.50" y2="303.31" stroke="#777" stroke-width="0.6" />
<line x1="226.30" y1="290.81" x2="227.50" y2="290.81" stroke="#777" stroke-width="0.6" />
<line x1="226.30" y1="278.30" x2="227.50" y2="278.30" stroke="#777" stroke-width="0.6" />
<line x1="226.30" y1="265.79" x2="227.50" y2="265.79" stroke="#777" stroke-width="0.6" />
<line x1="226.30" y1="253.28" x2="227.50" y2="253.28" stroke="#777" stroke-width="0.6" />
<line x1="226.30" y1="240.76" x2="227.50" y2="240.76" stroke="#777" stroke-width="0.6" />
<line x1="226.30" y1="228.25" x2="227.50" y2="228.25" stroke="#777" stroke-width="0.6" />
<line x1="227.50" y1="347.10" x2="227.50" y2="350.30" stroke="#333" stroke-width="0.9" />
<text x="227.00" y="359.60" font-size="5.9" text-anchor="middle" fill="#1a1a1a">10<tspan dy="-2.48" font-size="4.25">0</tspan></text>
<line x1="237.37" y1="347.10" x2="237.37" y2="348.90" stroke="#555" stroke-width="0.7" />
<line x1="243.14" y1="347.10" x2="243.14" y2="348.90" stroke="#555" stroke-width="0.7" />
<line x1="247.23" y1="347.10" x2="247.23" y2="348.90" stroke="#555" stroke-width="0.7" />
<line x1="250.41" y1="347.10" x2="250.41" y2="348.90" stroke="#555" stroke-width="0.7" />
<line x1="253.00" y1="347.10" x2="253.00" y2="348.90" stroke="#555" stroke-width="0.7" />
<line x1="255.20" y1="347.10" x2="255.20" y2="348.90" stroke="#555" stroke-width="0.7" />
<line x1="257.10" y1="347.10" x2="257.10" y2="348.90" stroke="#555" stroke-width="0.7" />
<line x1="258.78" y1="347.10" x2="258.78" y2="348.90" stroke="#555" stroke-width="0.7" />
<line x1="260.27" y1="347.10" x2="260.27" y2="350.30" stroke="#333" stroke-width="0.9" />
<text x="259.77" y="359.60" font-size="5.9" text-anchor="middle" fill="#1a1a1a">10<tspan dy="-2.48" font-size="4.25">1</tspan></text>
<line x1="270.14" y1="347.10" x2="270.14" y2="348.90" stroke="#555" stroke-width="0.7" />
<line x1="275.91" y1="347.10" x2="275.91" y2="348.90" stroke="#555" stroke-width="0.7" />
<line x1="280.01" y1="347.10" x2="280.01" y2="348.90" stroke="#555" stroke-width="0.7" />
<line x1="283.18" y1="347.10" x2="283.18" y2="348.90" stroke="#555" stroke-width="0.7" />
<line x1="285.78" y1="347.10" x2="285.78" y2="348.90" stroke="#555" stroke-width="0.7" />
<line x1="287.97" y1="347.10" x2="287.97" y2="348.90" stroke="#555" stroke-width="0.7" />
<line x1="289.87" y1="347.10" x2="289.87" y2="348.90" stroke="#555" stroke-width="0.7" />
<line x1="291.55" y1="347.10" x2="291.55" y2="348.90" stroke="#555" stroke-width="0.7" />
<line x1="293.05" y1="347.10" x2="293.05" y2="350.30" stroke="#333" stroke-width="0.9" />
<text x="292.55" y="359.60" font-size="5.9" text-anchor="middle" fill="#1a1a1a">10<tspan dy="-2.48" font-size="4.25">2</tspan></text>
<line x1="302.92" y1="347.10" x2="302.92" y2="348.90" stroke="#555" stroke-width="0.7" />
<line x1="308.69" y1="347.10" x2="308.69" y2="348.90" stroke="#555" stroke-width="0.7" />
<line x1="312.78" y1="347.10" x2="312.78" y2="348.90" stroke="#555" stroke-width="0.7" />
<line x1="315.96" y1="347.10" x2="315.96" y2="348.90" stroke="#555" stroke-width="0.7" />
<line x1="318.55" y1="347.10" x2="318.55" y2="348.90" stroke="#555" stroke-width="0.7" />
<line x1="320.75" y1="347.10" x2="320.75" y2="348.90" stroke="#555" stroke-width="0.7" />
<line x1="322.65" y1="347.10" x2="322.65" y2="348.90" stroke="#555" stroke-width="0.7" />
<line x1="324.33" y1="347.10" x2="324.33" y2="348.90" stroke="#555" stroke-width="0.7" />
<line x1="325.83" y1="347.10" x2="325.83" y2="350.30" stroke="#333" stroke-width="0.9" />
<text x="325.33" y="359.60" font-size="5.9" text-anchor="middle" fill="#1a1a1a">10<tspan dy="-2.48" font-size="4.25">3</tspan></text>
<line x1="335.69" y1="347.10" x2="335.69" y2="348.90" stroke="#555" stroke-width="0.7" />
<line x1="341.46" y1="347.10" x2="341.46" y2="348.90" stroke="#555" stroke-width="0.7" />
<line x1="345.56" y1="347.10" x2="345.56" y2="348.90" stroke="#555" stroke-width="0.7" />
<line x1="348.73" y1="347.10" x2="348.73" y2="348.90" stroke="#555" stroke-width="0.7" />
<line x1="351.33" y1="347.10" x2="351.33" y2="348.90" stroke="#555" stroke-width="0.7" />
<line x1="353.52" y1="347.10" x2="353.52" y2="348.90" stroke="#555" stroke-width="0.7" />
<line x1="355.42" y1="347.10" x2="355.42" y2="348.90" stroke="#555" stroke-width="0.7" />
<line x1="357.10" y1="347.10" x2="357.10" y2="348.90" stroke="#555" stroke-width="0.7" />
<line x1="358.60" y1="347.10" x2="358.60" y2="350.30" stroke="#333" stroke-width="0.9" />
<text x="358.10" y="359.60" font-size="5.9" text-anchor="middle" fill="#1a1a1a">10<tspan dy="-2.48" font-size="4.25">4</tspan></text>
<text x="293.40" y="365.80" font-size="6" text-anchor="middle" font-weight="normal" fill="#333" textLength="16.5" lengthAdjust="spacingAndGlyphs" >FL1-H</text>
<text x="209.10" y="280.70" font-size="5.2" text-anchor="middle" font-weight="normal" fill="#333" transform="rotate(-90 209.10 280.70)" textLength="23.5" lengthAdjust="spacingAndGlyphs" >% of Max</text>
<polygon points="270.00,347.10 270.00,347.00 285.00,345.50 291.20,344.00 298.40,342.80 303.20,341.60 309.20,340.40 315.30,339.20 318.20,330.70 319.80,311.00 320.80,287.00 321.50,263.00 322.70,240.00 324.40,228.00 326.00,236.00 327.60,252.00 329.80,287.00 331.60,311.00 333.80,327.00 336.50,337.00 340.00,342.00 345.00,345.00 358.00,346.50 358.00,347.10" fill="#e2e2e2" stroke="none" stroke-width="1" stroke-linejoin="round"/>
<path d="M227.50,347.00C234.83,347.00 245.11,347.16 255.00,347.00C264.89,346.84 259.45,347.01 264.60,346.40C269.75,345.79 269.79,345.66 274.30,344.70C278.81,343.74 277.98,343.95 281.50,342.80C285.02,341.65 284.59,341.68 287.50,340.40C290.41,339.12 290.13,339.31 292.40,338.00C294.67,336.69 294.08,336.94 296.00,335.50C297.92,334.06 297.68,333.88 299.60,332.60C301.52,331.32 301.60,332.17 303.20,330.70C304.80,329.23 304.00,327.74 305.60,327.10C307.20,326.46 307.57,327.34 309.20,328.30C310.83,329.26 310.39,329.42 311.70,330.70C313.01,331.98 312.82,333.42 314.10,333.10C315.38,332.78 315.41,332.06 316.50,329.50C317.59,326.94 317.37,328.33 318.20,323.50C319.03,318.67 318.96,321.05 319.60,311.40C320.24,301.75 320.15,300.15 320.60,287.30C321.05,274.45 320.79,277.33 321.30,263.20C321.81,249.07 321.73,244.70 322.50,234.30C323.27,223.90 323.37,225.48 324.20,224.20C325.03,222.92 324.77,223.61 325.60,229.50C326.43,235.39 326.53,237.31 327.30,246.30C328.07,255.29 327.73,252.27 328.50,263.20C329.27,274.13 329.24,274.45 330.20,287.30C331.16,300.15 330.93,300.47 332.10,311.40C333.27,322.33 333.29,321.21 334.60,328.30C335.91,335.39 335.40,334.13 337.00,338.00C338.60,341.87 338.49,340.88 340.60,342.80C342.71,344.72 342.02,344.29 344.90,345.20C347.78,346.11 347.75,345.85 351.40,346.20C355.05,346.55 356.68,346.42 358.60,346.50" stroke="#000" stroke-width="1.9" fill="none" stroke-linejoin="round" stroke-linecap="round" />
<text x="237.30" y="212.70" font-size="14.8" text-anchor="start" font-weight="normal" fill="#000" textLength="33.8" lengthAdjust="spacingAndGlyphs" stroke="#000" stroke-width="0.25" >CFSE</text>
<line x1="227.50" y1="216.00" x2="358.60" y2="216.00" stroke="#444" stroke-width="1.1" />
<text x="260.00" y="238.70" font-size="14.8" text-anchor="start" font-weight="normal" fill="#000" textLength="26.5" lengthAdjust="spacingAndGlyphs" stroke="#000" stroke-width="0.25" >CEF</text>
<text x="244.30" y="257.20" font-size="15.2" text-anchor="start" font-weight="normal" fill="#000" textLength="55.5" lengthAdjust="spacingAndGlyphs" stroke="#000" stroke-width="0.25" >(PBMCs)</text>
<text x="229.80" y="276.10" font-size="14.6" text-anchor="start" font-weight="normal" fill="#000" textLength="87.5" lengthAdjust="spacingAndGlyphs" stroke="#000" stroke-width="0.25" >(1.75mg/mL)</text>
<line x1="382.80" y1="214.50" x2="513.30" y2="214.50" stroke="#555" stroke-width="1" />
<line x1="513.30" y1="214.50" x2="513.30" y2="345.00" stroke="#555" stroke-width="1" />
<line x1="382.80" y1="214.50" x2="382.80" y2="346.00" stroke="#222" stroke-width="1.1" />
<line x1="381.80" y1="345.00" x2="513.30" y2="345.00" stroke="#222" stroke-width="1.1" />
<line x1="379.30" y1="345.00" x2="382.80" y2="345.00" stroke="#333" stroke-width="0.9" />
<text x="377.20" y="347.30" font-size="5.9" text-anchor="end" font-weight="normal" fill="#1a1a1a" >0</text>
<line x1="379.30" y1="320.00" x2="382.80" y2="320.00" stroke="#333" stroke-width="0.9" />
<text x="377.20" y="322.30" font-size="5.9" text-anchor="end" font-weight="normal" fill="#1a1a1a" >20</text>
<line x1="379.30" y1="295.00" x2="382.80" y2="295.00" stroke="#333" stroke-width="0.9" />
<text x="377.20" y="297.30" font-size="5.9" text-anchor="end" font-weight="normal" fill="#1a1a1a" >40</text>
<line x1="379.30" y1="270.00" x2="382.80" y2="270.00" stroke="#333" stroke-width="0.9" />
<text x="377.20" y="272.30" font-size="5.9" text-anchor="end" font-weight="normal" fill="#1a1a1a" >60</text>
<line x1="379.30" y1="245.00" x2="382.80" y2="245.00" stroke="#333" stroke-width="0.9" />
<text x="377.20" y="247.30" font-size="5.9" text-anchor="end" font-weight="normal" fill="#1a1a1a" >80</text>
<line x1="379.30" y1="220.00" x2="382.80" y2="220.00" stroke="#333" stroke-width="0.9" />
<text x="377.20" y="222.30" font-size="5.9" text-anchor="end" font-weight="normal" fill="#1a1a1a" >100</text>
<line x1="380.80" y1="332.50" x2="382.80" y2="332.50" stroke="#555" stroke-width="0.8" />
<line x1="380.80" y1="307.50" x2="382.80" y2="307.50" stroke="#555" stroke-width="0.8" />
<line x1="380.80" y1="282.50" x2="382.80" y2="282.50" stroke="#555" stroke-width="0.8" />
<line x1="380.80" y1="257.50" x2="382.80" y2="257.50" stroke="#555" stroke-width="0.8" />
<line x1="380.80" y1="232.50" x2="382.80" y2="232.50" stroke="#555" stroke-width="0.8" />
<line x1="381.60" y1="338.75" x2="382.80" y2="338.75" stroke="#777" stroke-width="0.6" />
<line x1="381.60" y1="326.25" x2="382.80" y2="326.25" stroke="#777" stroke-width="0.6" />
<line x1="381.60" y1="313.75" x2="382.80" y2="313.75" stroke="#777" stroke-width="0.6" />
<line x1="381.60" y1="301.25" x2="382.80" y2="301.25" stroke="#777" stroke-width="0.6" />
<line x1="381.60" y1="288.75" x2="382.80" y2="288.75" stroke="#777" stroke-width="0.6" />
<line x1="381.60" y1="276.25" x2="382.80" y2="276.25" stroke="#777" stroke-width="0.6" />
<line x1="381.60" y1="263.75" x2="382.80" y2="263.75" stroke="#777" stroke-width="0.6" />
<line x1="381.60" y1="251.25" x2="382.80" y2="251.25" stroke="#777" stroke-width="0.6" />
<line x1="381.60" y1="238.75" x2="382.80" y2="238.75" stroke="#777" stroke-width="0.6" />
<line x1="381.60" y1="226.25" x2="382.80" y2="226.25" stroke="#777" stroke-width="0.6" />
<line x1="382.80" y1="345.00" x2="382.80" y2="348.20" stroke="#333" stroke-width="0.9" />
<text x="382.30" y="357.70" font-size="5.9" text-anchor="middle" fill="#1a1a1a">10<tspan dy="-2.48" font-size="4.25">0</tspan></text>
<line x1="392.62" y1="345.00" x2="392.62" y2="346.80" stroke="#555" stroke-width="0.7" />
<line x1="398.37" y1="345.00" x2="398.37" y2="346.80" stroke="#555" stroke-width="0.7" />
<line x1="402.44" y1="345.00" x2="402.44" y2="346.80" stroke="#555" stroke-width="0.7" />
<line x1="405.60" y1="345.00" x2="405.60" y2="346.80" stroke="#555" stroke-width="0.7" />
<line x1="408.19" y1="345.00" x2="408.19" y2="346.80" stroke="#555" stroke-width="0.7" />
<line x1="410.37" y1="345.00" x2="410.37" y2="346.80" stroke="#555" stroke-width="0.7" />
<line x1="412.26" y1="345.00" x2="412.26" y2="346.80" stroke="#555" stroke-width="0.7" />
<line x1="413.93" y1="345.00" x2="413.93" y2="346.80" stroke="#555" stroke-width="0.7" />
<line x1="415.43" y1="345.00" x2="415.43" y2="348.20" stroke="#333" stroke-width="0.9" />
<text x="414.93" y="357.70" font-size="5.9" text-anchor="middle" fill="#1a1a1a">10<tspan dy="-2.48" font-size="4.25">1</tspan></text>
<line x1="425.25" y1="345.00" x2="425.25" y2="346.80" stroke="#555" stroke-width="0.7" />
<line x1="430.99" y1="345.00" x2="430.99" y2="346.80" stroke="#555" stroke-width="0.7" />
<line x1="435.07" y1="345.00" x2="435.07" y2="346.80" stroke="#555" stroke-width="0.7" />
<line x1="438.23" y1="345.00" x2="438.23" y2="346.80" stroke="#555" stroke-width="0.7" />
<line x1="440.81" y1="345.00" x2="440.81" y2="346.80" stroke="#555" stroke-width="0.7" />
<line x1="443.00" y1="345.00" x2="443.00" y2="346.80" stroke="#555" stroke-width="0.7" />
<line x1="444.89" y1="345.00" x2="444.89" y2="346.80" stroke="#555" stroke-width="0.7" />
<line x1="446.56" y1="345.00" x2="446.56" y2="346.80" stroke="#555" stroke-width="0.7" />
<line x1="448.05" y1="345.00" x2="448.05" y2="348.20" stroke="#333" stroke-width="0.9" />
<text x="447.55" y="357.70" font-size="5.9" text-anchor="middle" fill="#1a1a1a">10<tspan dy="-2.48" font-size="4.25">2</tspan></text>
<line x1="457.87" y1="345.00" x2="457.87" y2="346.80" stroke="#555" stroke-width="0.7" />
<line x1="463.62" y1="345.00" x2="463.62" y2="346.80" stroke="#555" stroke-width="0.7" />
<line x1="467.69" y1="345.00" x2="467.69" y2="346.80" stroke="#555" stroke-width="0.7" />
<line x1="470.85" y1="345.00" x2="470.85" y2="346.80" stroke="#555" stroke-width="0.7" />
<line x1="473.44" y1="345.00" x2="473.44" y2="346.80" stroke="#555" stroke-width="0.7" />
<line x1="475.62" y1="345.00" x2="475.62" y2="346.80" stroke="#555" stroke-width="0.7" />
<line x1="477.51" y1="345.00" x2="477.51" y2="346.80" stroke="#555" stroke-width="0.7" />
<line x1="479.18" y1="345.00" x2="479.18" y2="346.80" stroke="#555" stroke-width="0.7" />
<line x1="480.67" y1="345.00" x2="480.67" y2="348.20" stroke="#333" stroke-width="0.9" />
<text x="480.17" y="357.70" font-size="5.9" text-anchor="middle" fill="#1a1a1a">10<tspan dy="-2.48" font-size="4.25">3</tspan></text>
<line x1="490.50" y1="345.00" x2="490.50" y2="346.80" stroke="#555" stroke-width="0.7" />
<line x1="496.24" y1="345.00" x2="496.24" y2="346.80" stroke="#555" stroke-width="0.7" />
<line x1="500.32" y1="345.00" x2="500.32" y2="346.80" stroke="#555" stroke-width="0.7" />
<line x1="503.48" y1="345.00" x2="503.48" y2="346.80" stroke="#555" stroke-width="0.7" />
<line x1="506.06" y1="345.00" x2="506.06" y2="346.80" stroke="#555" stroke-width="0.7" />
<line x1="508.25" y1="345.00" x2="508.25" y2="346.80" stroke="#555" stroke-width="0.7" />
<line x1="510.14" y1="345.00" x2="510.14" y2="346.80" stroke="#555" stroke-width="0.7" />
<line x1="511.81" y1="345.00" x2="511.81" y2="346.80" stroke="#555" stroke-width="0.7" />
<line x1="513.30" y1="345.00" x2="513.30" y2="348.20" stroke="#333" stroke-width="0.9" />
<text x="512.80" y="357.70" font-size="5.9" text-anchor="middle" fill="#1a1a1a">10<tspan dy="-2.48" font-size="4.25">4</tspan></text>
<text x="447.70" y="363.80" font-size="6" text-anchor="middle" font-weight="normal" fill="#333" textLength="16" lengthAdjust="spacingAndGlyphs" >FL1-H</text>
<text x="364.30" y="278.70" font-size="5.2" text-anchor="middle" font-weight="normal" fill="#333" transform="rotate(-90 364.30 278.70)" textLength="24" lengthAdjust="spacingAndGlyphs" >% of Max</text>
<polygon points="382.80,345.00 382.80,345.00 402.30,343.70 407.50,340.20 411.00,335.00 413.60,324.60 416.20,317.70 419.60,315.10 422.20,317.70 424.80,324.60 428.30,328.90 431.70,328.90 435.20,327.20 437.80,328.90 440.40,331.50 443.80,335.90 449.00,337.60 454.20,337.60 457.50,333.00 459.00,322.00 460.50,292.50 462.50,260.00 464.50,235.00 466.00,225.00 467.80,235.00 469.50,260.00 471.25,310.00 473.75,330.00 477.50,340.00 482.50,343.70 490.00,344.50 511.00,345.00 511.00,345.00" fill="#a0a0a0" stroke="none" stroke-width="1" stroke-linejoin="round"/>
<path d="M382.80,345.00C386.16,344.87 390.20,345.09 395.40,344.50C400.60,343.91 399.07,343.71 402.30,342.80C405.53,341.89 404.73,342.25 407.50,341.10C410.27,339.95 409.47,339.89 412.70,338.50C415.93,337.11 415.92,337.29 419.60,335.90C423.28,334.51 423.27,334.93 426.50,333.30C429.73,331.67 429.38,332.12 431.70,329.80C434.02,327.48 433.71,326.68 435.20,324.60C436.69,322.52 436.15,322.24 437.30,322.00C438.45,321.76 438.22,321.86 439.50,323.70C440.78,325.54 440.71,326.34 442.10,328.90C443.49,331.46 443.31,331.67 444.70,333.30C446.09,334.93 445.67,334.63 447.30,335.00C448.93,335.37 449.33,335.15 450.80,334.70C452.27,334.25 451.89,333.14 452.80,333.30C453.71,333.46 452.89,335.09 454.20,335.30C455.51,335.51 456.49,334.85 457.70,334.10C458.91,333.35 458.14,334.93 458.75,332.50C459.36,330.07 459.33,331.00 460.00,325.00C460.67,319.00 460.58,318.67 461.25,310.00C461.92,301.33 461.83,302.50 462.50,292.50C463.17,282.50 463.08,287.83 463.75,272.50C464.42,257.17 464.33,248.67 465.00,235.00C465.67,221.33 465.58,221.25 466.25,221.25C466.92,221.25 466.97,224.67 467.50,235.00C468.03,245.33 467.78,246.67 468.25,260.00C468.72,273.33 468.65,271.67 469.25,285.00C469.85,298.33 469.77,299.33 470.50,310.00C471.23,320.67 471.13,319.00 472.00,325.00C472.87,331.00 472.28,329.17 473.75,332.50C475.22,335.83 474.50,335.17 477.50,337.50C480.50,339.83 480.33,339.58 485.00,341.25C489.67,342.92 488.07,342.80 495.00,343.75C501.93,344.70 506.73,344.52 511.00,344.80" stroke="#000" stroke-width="1.9" fill="none" stroke-linejoin="round" stroke-linecap="round" />
<text x="406.60" y="238.70" font-size="15" text-anchor="start" font-weight="normal" fill="#000" textLength="31.5" lengthAdjust="spacingAndGlyphs" stroke="#000" stroke-width="0.25" >CMV</text>
<text x="401.80" y="257.30" font-size="14.5" text-anchor="start" font-weight="normal" fill="#000" textLength="35.5" lengthAdjust="spacingAndGlyphs" stroke="#000" stroke-width="0.25" >(DCs)</text>
<text x="388.30" y="276.40" font-size="14.6" text-anchor="start" font-weight="normal" fill="#000" textLength="66.5" lengthAdjust="spacingAndGlyphs" stroke="#000" stroke-width="0.25" >(2mg/mL)</text>
<text x="240.50" y="397.70" font-size="14.6" text-anchor="start" font-weight="normal" fill="#000" textLength="33.5" lengthAdjust="spacingAndGlyphs" stroke="#000" stroke-width="0.25" >CFSE</text>
<line x1="36.60" y1="414.60" x2="36.60" y2="529.30" stroke="#666" stroke-width="1" />
<line x1="36.60" y1="529.30" x2="191.30" y2="529.30" stroke="#333" stroke-width="1.3" />
<line x1="34.50" y1="414.60" x2="36.60" y2="414.60" stroke="#888" stroke-width="0.7" />
<line x1="34.50" y1="443.30" x2="36.60" y2="443.30" stroke="#888" stroke-width="0.7" />
<line x1="34.50" y1="472.00" x2="36.60" y2="472.00" stroke="#888" stroke-width="0.7" />
<line x1="34.50" y1="500.60" x2="36.60" y2="500.60" stroke="#888" stroke-width="0.7" />
<line x1="34.50" y1="529.30" x2="36.60" y2="529.30" stroke="#888" stroke-width="0.7" />
<line x1="37.50" y1="529.30" x2="37.50" y2="531.50" stroke="#666" stroke-width="0.7" />
<text x="38.00" y="534.40" font-size="4.4" text-anchor="middle" fill="#555">10<tspan dy="-1.85" font-size="3.17">0</tspan></text>
<line x1="76.10" y1="529.30" x2="76.10" y2="531.50" stroke="#666" stroke-width="0.7" />
<text x="76.60" y="534.40" font-size="4.4" text-anchor="middle" fill="#555">10<tspan dy="-1.85" font-size="3.17">1</tspan></text>
<line x1="113.60" y1="529.30" x2="113.60" y2="531.50" stroke="#666" stroke-width="0.7" />
<text x="114.10" y="534.40" font-size="4.4" text-anchor="middle" fill="#555">10<tspan dy="-1.85" font-size="3.17">2</tspan></text>
<line x1="153.20" y1="529.30" x2="153.20" y2="531.50" stroke="#666" stroke-width="0.7" />
<text x="153.70" y="534.40" font-size="4.4" text-anchor="middle" fill="#555">10<tspan dy="-1.85" font-size="3.17">3</tspan></text>
<line x1="191.30" y1="529.30" x2="191.30" y2="531.50" stroke="#666" stroke-width="0.7" />
<text x="191.80" y="534.40" font-size="4.4" text-anchor="middle" fill="#555">10<tspan dy="-1.85" font-size="3.17">4</tspan></text>
<text x="34.60" y="414.90" font-size="4.7" text-anchor="middle" font-weight="normal" fill="#555" transform="rotate(-90 34.60 414.90)" textLength="6.4" lengthAdjust="spacingAndGlyphs" >110</text>
<text x="30.90" y="472.10" font-size="4.2" text-anchor="middle" font-weight="normal" fill="#555" transform="rotate(-90 30.90 472.10)" textLength="13.6" lengthAdjust="spacingAndGlyphs" >Events</text>
<text x="33.80" y="529.60" font-size="4.3" text-anchor="middle" font-weight="normal" fill="#555" transform="rotate(-90 33.80 529.60)" >0</text>
<text x="113.50" y="540.40" font-size="4.2" text-anchor="middle" font-weight="normal" fill="#555" textLength="12" lengthAdjust="spacingAndGlyphs" >APC-A</text>
<text x="94.60" y="558.80" font-size="14.5" text-anchor="start" font-weight="normal" fill="#000" textLength="37" lengthAdjust="spacingAndGlyphs" stroke="#000" stroke-width="0.25" >CD28</text>
<polygon points="37.00,529.30 37.00,523.74 37.59,523.95 38.18,525.04 38.77,523.33 39.36,523.33 39.95,523.45 40.54,521.93 41.13,522.89 41.72,523.14 42.31,523.55 42.90,521.02 43.51,521.69 44.11,520.92 44.72,523.32 45.33,522.89 45.94,520.63 46.54,523.78 47.15,523.68 47.76,522.58 48.36,522.41 48.97,520.81 49.58,520.28 50.19,521.98 50.79,520.35 51.40,520.75 52.01,520.84 52.63,520.05 53.24,521.44 53.86,521.28 54.47,522.57 55.09,521.39 55.70,521.73 56.31,521.17 56.93,521.65 57.54,520.87 58.16,520.18 58.77,522.55 59.39,522.46 60.00,521.86 60.60,521.17 61.20,519.61 61.80,519.08 62.40,519.05 63.00,518.07 63.60,520.21 64.20,518.73 64.80,520.01 65.40,518.21 65.67,519.62 65.93,518.70 66.20,515.28 66.47,515.45 66.73,517.29 67.00,515.25 67.27,516.44 67.53,513.92 67.80,512.27 68.07,513.62 68.33,513.59 68.60,511.32 68.81,510.13 69.03,510.40 69.24,511.98 69.45,510.71 69.67,507.97 69.88,507.84 70.09,506.78 70.31,506.07 70.52,508.01 70.73,505.34 70.95,506.07 71.16,505.12 71.37,503.68 71.59,504.96 71.80,502.35 71.98,503.49 72.16,501.11 72.33,501.55 72.51,500.25 72.69,499.85 72.87,501.63 73.04,500.47 73.22,498.18 73.40,499.56 73.58,496.67 73.76,496.70 73.93,497.67 74.11,496.35 74.29,493.92 74.47,496.35 74.64,493.11 74.82,492.67 75.00,493.83 75.18,491.72 75.36,491.01 75.53,489.65 75.71,489.11 75.89,490.18 76.07,488.43 76.24,489.04 76.42,487.66 76.60,487.34 76.78,488.46 76.96,486.24 77.13,485.95 77.31,486.35 77.49,483.42 77.67,482.72 77.84,484.69 78.02,483.78 78.20,481.25 78.35,480.44 78.50,481.69 78.66,481.77 78.81,478.63 78.96,480.58 79.11,479.74 79.27,478.19 79.42,476.96 79.57,475.27 79.72,474.44 79.88,476.97 80.03,473.90 80.18,474.87 80.33,472.74 80.49,474.06 80.64,472.68 80.79,471.04 80.94,470.03 81.10,471.27 81.25,468.44 81.40,468.38 81.55,468.92 81.69,469.33 81.84,467.93 81.98,466.21 82.13,467.79 82.27,464.78 82.42,463.55 82.56,463.82 82.71,463.84 82.85,461.94 83.00,461.75 83.15,461.82 83.29,461.92 83.44,459.84 83.58,460.04 83.73,461.25 83.87,460.97 84.02,459.28 84.16,458.81 84.31,457.86 84.45,455.76 84.60,454.82 84.82,454.19 85.04,456.66 85.26,455.38 85.48,455.71 85.70,451.94 85.92,453.46 86.14,452.37 86.36,452.65 86.58,450.68 86.80,452.43 87.02,448.72 87.24,449.76 87.46,449.84 87.68,449.83 87.90,448.71 88.22,448.05 88.54,447.82 88.86,447.69 89.18,445.24 89.50,445.83 89.82,446.02 90.14,445.38 90.46,443.30 90.78,444.03 91.10,443.74 91.25,442.13 91.40,441.70 91.55,440.26 91.70,440.32 91.85,439.80 92.00,437.39 92.15,438.67 92.30,439.26 92.45,438.26 92.60,437.13 92.75,435.36 92.90,435.93 93.05,434.79 93.20,433.70 93.52,435.59 93.84,433.56 94.16,436.37 94.48,434.46 94.80,436.94 95.12,437.08 95.44,436.76 95.76,438.89 96.08,438.75 96.40,439.69 96.80,441.27 97.20,439.54 97.60,439.25 98.00,440.77 98.40,442.59 98.80,441.51 99.20,441.94 99.60,444.98 99.98,444.62 100.36,444.36 100.74,446.37 101.12,444.93 101.50,446.56 101.83,445.50 102.15,446.82 102.47,448.62 102.80,449.51 103.12,449.92 103.45,448.76 103.77,449.96 104.10,449.58 104.28,449.56 104.46,451.39 104.64,453.15 104.81,453.79 104.99,453.92 105.17,455.33 105.35,453.64 105.53,453.88 105.71,455.43 105.89,455.44 106.06,455.83 106.24,457.11 106.42,458.43 106.60,458.58 106.79,458.58 106.97,460.97 107.16,462.06 107.34,460.87 107.53,460.19 107.71,460.65 107.90,464.12 108.09,461.90 108.27,464.77 108.46,464.91 108.64,464.63 108.83,466.88 109.01,464.86 109.20,465.86 109.35,467.55 109.49,466.68 109.64,470.02 109.79,468.61 109.94,468.88 110.08,469.16 110.23,471.74 110.38,471.72 110.52,472.94 110.67,473.63 110.82,474.75 110.96,475.86 111.11,475.53 111.26,474.48 111.41,476.02 111.55,475.61 111.70,475.64 111.83,477.80 111.95,479.22 112.08,477.99 112.20,478.91 112.33,479.75 112.45,481.54 112.58,481.53 112.70,482.45 112.83,483.53 112.95,482.89 113.08,484.84 113.20,485.82 113.33,483.63 113.45,487.10 113.58,486.98 113.70,485.56 113.83,487.26 113.95,488.44 114.08,490.00 114.20,488.78 114.33,490.02 114.46,491.67 114.59,491.98 114.72,493.07 114.85,492.03 114.98,493.25 115.11,492.33 115.24,494.67 115.37,495.59 115.50,495.58 115.63,496.43 115.76,495.31 115.89,498.23 116.02,499.09 116.15,499.67 116.28,498.77 116.41,500.22 116.54,499.21 116.67,501.80 116.80,502.21 116.92,501.08 117.05,500.77 117.17,502.58 117.30,503.55 117.42,504.89 117.55,504.53 117.67,503.56 117.80,506.81 117.92,504.87 118.05,507.97 118.17,506.43 118.30,507.58 118.42,509.71 118.55,508.11 118.67,508.73 118.80,510.58 118.92,511.88 119.05,512.87 119.17,512.95 119.30,514.42 119.49,513.48 119.67,515.64 119.86,513.31 120.04,514.38 120.23,516.03 120.41,515.83 120.60,517.93 120.79,518.23 120.97,518.44 121.16,520.14 121.34,519.78 121.53,519.55 121.71,520.39 121.90,522.57 122.24,523.26 122.58,521.41 122.92,524.09 123.26,524.99 123.60,523.98 123.94,524.65 124.28,523.88 124.62,525.52 124.96,525.91 125.30,526.76 125.90,525.11 126.50,528.62 127.10,527.40 127.70,527.32 128.30,529.00 128.90,528.50 129.50,528.57 130.11,529.29 130.72,527.21 131.33,528.86 131.94,528.48 132.56,530.38 133.17,530.31 133.78,528.13 134.39,528.86 135.00,529.00 135.00,529.30" fill="#d0d0d0" stroke="#333" stroke-width="0.8" stroke-linejoin="round"/>
<polyline points="37.00,518.41 37.40,518.62 37.80,518.20 38.20,515.86 38.60,514.94 39.00,515.80 39.40,514.99 39.80,516.47 40.20,515.59 40.60,514.82 41.00,514.21 41.44,514.14 41.89,511.83 42.33,512.45 42.78,511.01 43.22,513.24 43.67,509.75 44.11,512.04 44.56,508.91 45.00,510.67 45.33,508.91 45.67,508.66 46.00,509.73 46.33,506.27 46.67,505.92 47.00,508.49 47.33,506.53 47.67,504.53 48.00,507.25 48.33,506.61 48.67,503.11 49.00,503.72 49.33,502.19 49.67,502.33 50.00,502.94 50.22,500.70 50.44,502.03 50.66,499.12 50.88,498.96 51.10,500.70 51.32,498.61 51.54,498.09 51.76,498.14 51.99,497.12 52.21,496.20 52.43,494.34 52.65,496.26 52.87,496.54 53.09,495.98 53.31,494.27 53.53,492.57 53.75,492.01 53.93,492.59 54.11,491.94 54.29,489.32 54.46,489.16 54.64,489.03 54.82,488.97 55.00,489.45 55.18,487.74 55.36,485.44 55.54,487.71 55.71,485.70 55.89,485.43 56.07,483.76 56.25,483.90 56.43,483.17 56.61,483.96 56.79,480.95 56.96,481.97 57.14,480.03 57.32,481.30 57.50,478.33 57.68,478.60 57.86,478.25 58.04,478.71 58.21,476.01 58.39,476.88 58.57,475.38 58.75,475.05 58.93,475.15 59.11,476.29 59.29,473.98 59.46,475.09 59.64,471.66 59.82,473.79 60.00,471.18 60.18,469.95 60.36,471.37 60.54,471.36 60.71,467.51 60.89,467.86 61.07,469.07 61.25,466.93 61.39,465.98 61.54,464.54 61.68,464.06 61.82,465.56 61.97,466.28 62.11,465.73 62.25,463.36 62.40,461.04 62.54,461.52 62.68,462.60 62.83,462.17 62.97,460.88 63.11,458.81 63.26,459.29 63.40,458.52 63.82,458.51 64.23,456.65 64.65,458.56 65.07,457.82 65.48,454.63 65.90,454.55 66.39,457.11 66.87,455.44 67.36,458.31 67.84,457.24 68.33,458.36 68.81,458.87 69.30,457.57 69.58,458.39 69.87,458.85 70.15,460.96 70.43,461.57 70.72,460.11 71.00,463.39 71.37,462.20 71.74,462.04 72.11,463.22 72.49,465.67 72.86,464.64 73.23,465.36 73.60,466.91 73.91,467.60 74.22,467.41 74.54,466.72 74.85,467.87 75.16,469.53 75.47,469.67 75.79,469.45 76.10,469.15 76.38,469.78 76.66,471.66 76.93,471.59 77.21,470.18 77.49,473.23 77.77,474.49 78.04,474.66 78.32,475.58 78.60,476.18 78.88,475.39 79.17,476.87 79.45,475.97 79.73,475.52 80.02,477.00 80.30,477.42 80.73,480.10 81.17,479.65 81.60,479.55 82.03,480.27 82.47,478.92 82.90,480.82 83.40,481.76 83.90,481.00 84.40,480.80 84.90,481.72 85.40,481.76 85.71,482.52 86.02,480.02 86.33,479.29 86.64,479.54 86.95,480.38 87.25,480.06 87.56,479.16 87.87,479.60 88.18,477.01 88.49,475.25 88.80,476.36 89.06,476.80 89.32,476.45 89.58,478.80 89.84,478.23 90.10,478.46 90.36,479.38 90.62,482.20 90.88,479.43 91.14,481.30 91.40,481.61 91.90,481.82 92.40,483.16 92.90,482.89 93.40,485.91 93.90,484.90 94.32,486.05 94.73,484.55 95.15,486.07 95.57,487.02 95.98,488.30 96.40,486.60 96.69,487.91 96.98,489.89 97.27,490.36 97.56,488.74 97.84,490.41 98.13,491.77 98.42,491.01 98.71,492.57 99.00,493.09 99.28,494.77 99.57,493.83 99.85,494.85 100.13,494.23 100.42,496.17 100.70,495.26 100.98,496.47 101.27,496.53 101.55,496.91 101.83,496.86 102.12,497.75 102.40,499.46 102.71,498.95 103.02,498.76 103.33,502.03 103.64,500.71 103.95,503.60 104.25,502.93 104.56,502.72 104.87,505.01 105.18,505.64 105.49,504.11 105.80,503.95 106.11,506.34 106.42,507.61 106.73,507.30 107.04,508.47 107.35,507.67 107.65,508.94 107.96,508.20 108.27,509.26 108.58,509.69 108.89,510.25 109.20,510.84 109.48,512.87 109.75,511.14 110.03,511.84 110.30,512.58 110.58,515.73 110.85,514.68 111.12,513.56 111.40,516.94 111.67,517.64 111.95,518.02 112.22,516.92 112.50,518.84 112.84,517.80 113.18,517.69 113.52,520.82 113.86,521.20 114.20,519.46 114.54,522.37 114.88,519.79 115.22,521.31 115.56,520.75 115.90,521.82 116.36,522.18 116.83,524.56 117.29,523.44 117.75,523.45 118.22,523.82 118.68,524.67 119.15,527.04 119.61,526.51 120.07,525.09 120.54,527.58 121.00,527.43 121.64,527.33 122.28,527.82 122.91,528.48 123.55,529.23 124.19,528.38 124.82,529.06 125.46,528.67 126.10,529.00" stroke="#1a1a1a" stroke-width="1.35" fill="none" stroke-linejoin="round" stroke-linecap="round" />
<line x1="224.00" y1="407.50" x2="224.00" y2="529.50" stroke="#555" stroke-width="1.1" />
<line x1="224.00" y1="529.50" x2="372.00" y2="529.50" stroke="#333" stroke-width="1.3" />
<line x1="221.50" y1="407.50" x2="224.00" y2="407.50" stroke="#666" stroke-width="0.8" />
<line x1="221.50" y1="437.90" x2="224.00" y2="437.90" stroke="#666" stroke-width="0.8" />
<line x1="221.50" y1="468.40" x2="224.00" y2="468.40" stroke="#666" stroke-width="0.8" />
<line x1="221.50" y1="498.90" x2="224.00" y2="498.90" stroke="#666" stroke-width="0.8" />
<line x1="221.50" y1="529.50" x2="224.00" y2="529.50" stroke="#666" stroke-width="0.8" />
<line x1="224.50" y1="529.50" x2="224.50" y2="531.70" stroke="#666" stroke-width="0.7" />
<text x="226.00" y="537.60" font-size="5.9" text-anchor="middle" fill="#111">10<tspan dy="-2.48" font-size="4.25">0</tspan></text>
<line x1="261.50" y1="529.50" x2="261.50" y2="531.70" stroke="#666" stroke-width="0.7" />
<text x="263.00" y="537.60" font-size="5.9" text-anchor="middle" fill="#111">10<tspan dy="-2.48" font-size="4.25">1</tspan></text>
<line x1="298.30" y1="529.50" x2="298.30" y2="531.70" stroke="#666" stroke-width="0.7" />
<text x="299.80" y="537.60" font-size="5.9" text-anchor="middle" fill="#111">10<tspan dy="-2.48" font-size="4.25">2</tspan></text>
<line x1="335.20" y1="529.50" x2="335.20" y2="531.70" stroke="#666" stroke-width="0.7" />
<text x="336.70" y="537.60" font-size="5.9" text-anchor="middle" fill="#111">10<tspan dy="-2.48" font-size="4.25">3</tspan></text>
<line x1="372.00" y1="529.50" x2="372.00" y2="531.70" stroke="#666" stroke-width="0.7" />
<text x="373.50" y="537.60" font-size="5.9" text-anchor="middle" fill="#111">10<tspan dy="-2.48" font-size="4.25">4</tspan></text>
<text x="220.00" y="407.70" font-size="7" text-anchor="middle" font-weight="normal" fill="#222" transform="rotate(-90 220.00 407.70)" textLength="9" lengthAdjust="spacingAndGlyphs" >120</text>
<text x="220.00" y="531.00" font-size="5.8" text-anchor="middle" font-weight="normal" fill="#222" transform="rotate(-90 220.00 531.00)" >0</text>
<text x="296.90" y="545.30" font-size="5.5" text-anchor="middle" font-weight="normal" fill="#222" textLength="16" lengthAdjust="spacingAndGlyphs" >PE-A</text>
<text x="275.20" y="558.80" font-size="14.5" text-anchor="start" font-weight="normal" fill="#000" textLength="45" lengthAdjust="spacingAndGlyphs" stroke="#000" stroke-width="0.25" >CD62L</text>
<polygon points="224.00,529.50 224.00,517.28 224.41,518.09 224.82,517.63 225.22,517.66 225.63,515.21 226.04,514.88 226.45,514.17 226.85,513.94 227.26,515.01 227.67,512.74 228.08,513.48 228.48,512.06 228.89,511.85 229.30,511.79 229.59,512.45 229.89,511.20 230.18,508.86 230.48,509.08 230.77,508.13 231.06,509.74 231.36,508.99 231.65,508.42 231.94,507.92 232.24,507.11 232.53,507.16 232.82,506.13 233.12,503.96 233.41,505.17 233.71,503.52 234.00,503.77 234.27,502.64 234.53,501.68 234.80,500.93 235.07,500.57 235.33,499.66 235.60,498.52 235.87,500.07 236.13,499.45 236.40,499.46 236.67,498.02 236.93,497.05 237.20,497.08 237.47,494.68 237.73,495.75 238.00,494.50 238.27,493.14 238.53,492.66 238.80,493.07 239.28,491.88 239.77,492.11 240.25,492.16 240.74,491.15 241.22,489.97 241.71,490.66 242.19,489.51 242.68,489.13 243.16,488.62 243.65,488.75 244.13,487.49 244.62,488.84 245.10,489.36 245.70,487.73 246.30,488.78 246.90,489.49 247.50,486.88 248.10,487.24 248.70,489.29 249.30,489.45 249.90,488.92 250.38,487.90 250.87,489.09 251.35,490.87 251.84,491.35 252.32,491.52 252.81,490.15 253.29,492.52 253.78,491.51 254.26,492.96 254.75,491.64 255.23,494.57 255.72,493.89 256.20,494.67 256.66,493.56 257.11,495.21 257.57,495.53 258.03,495.99 258.49,495.72 258.94,497.25 259.40,496.52 259.86,496.81 260.31,496.85 260.77,498.84 261.23,497.55 261.69,498.32 262.14,498.28 262.60,500.43 263.06,500.58 263.53,500.95 263.99,499.85 264.46,501.47 264.92,501.59 265.39,501.25 265.85,501.39 266.32,504.79 266.78,502.57 267.25,503.52 267.71,503.84 268.18,505.23 268.64,504.09 269.11,505.67 269.57,505.78 270.04,507.59 270.50,505.52 271.00,506.88 271.50,507.74 272.00,509.53 272.50,508.55 273.00,508.80 273.50,509.76 274.00,509.01 274.50,508.60 275.00,510.38 275.50,511.98 276.00,511.84 276.50,510.77 277.00,512.43 277.50,513.30 278.00,511.90 278.50,513.26 279.03,512.87 279.55,512.83 280.08,513.26 280.61,513.31 281.13,514.05 281.66,513.41 282.19,514.79 282.71,514.16 283.24,516.47 283.77,516.30 284.29,514.81 284.82,517.42 285.35,515.97 285.87,517.14 286.40,517.66 286.99,517.09 287.59,517.06 288.18,517.59 288.77,516.79 289.37,519.06 289.96,516.90 290.56,519.13 291.15,517.40 291.74,517.75 292.34,518.10 292.93,517.13 293.52,517.51 294.12,518.30 294.71,518.64 295.31,520.04 295.90,520.47 296.53,517.58 297.16,519.01 297.79,517.74 298.42,519.71 299.05,518.22 299.68,519.88 300.31,518.79 300.94,517.48 301.57,517.06 302.20,517.74 302.76,519.20 303.32,516.65 303.88,517.24 304.44,516.51 305.00,516.03 305.25,516.84 305.50,514.52 305.75,515.47 306.00,514.75 306.25,514.99 306.50,513.18 306.75,513.82 307.00,511.82 307.34,511.72 307.69,511.36 308.03,511.52 308.37,511.19 308.71,508.35 309.06,507.91 309.40,508.60 309.74,508.94 310.09,507.60 310.43,506.40 310.77,507.89 311.11,505.39 311.46,504.26 311.80,503.66 312.11,503.06 312.43,504.63 312.74,502.24 313.05,503.54 313.37,503.47 313.68,503.34 313.99,502.24 314.31,500.56 314.62,500.63 314.93,500.73 315.25,499.85 315.56,498.05 315.87,498.94 316.19,496.45 316.50,496.53 316.94,498.15 317.37,496.14 317.81,495.09 318.25,496.21 318.68,494.77 319.12,492.99 319.55,492.63 319.99,492.89 320.43,492.67 320.86,494.05 321.30,491.54 321.89,493.16 322.48,492.99 323.06,491.49 323.65,493.03 324.24,492.15 324.82,491.13 325.41,490.27 326.00,490.68 326.37,491.51 326.74,489.93 327.11,488.40 327.48,488.46 327.85,488.27 328.22,486.92 328.58,487.57 328.95,485.46 329.32,487.33 329.69,484.91 330.06,484.19 330.43,485.16 330.80,483.82 331.09,484.99 331.39,483.26 331.68,482.77 331.97,483.15 332.26,480.72 332.56,481.75 332.85,480.90 333.14,479.67 333.44,480.70 333.73,477.32 334.02,479.28 334.31,476.56 334.61,478.08 334.90,475.46 335.17,475.73 335.44,477.63 335.71,479.47 335.99,478.03 336.26,479.28 336.53,480.21 336.80,479.68 337.07,481.11 337.34,480.11 337.61,481.99 337.89,483.49 338.16,482.79 338.43,483.00 338.70,483.05 338.83,485.60 338.97,485.37 339.10,487.43 339.23,487.50 339.37,486.18 339.50,489.22 339.63,489.87 339.77,490.12 339.90,490.76 340.03,490.90 340.17,491.62 340.30,492.05 340.43,492.42 340.57,492.01 340.70,492.24 340.83,494.61 340.97,494.82 341.10,493.79 341.23,496.15 341.37,496.65 341.50,496.95 341.63,498.33 341.77,499.23 341.90,498.34 342.01,500.24 342.12,499.90 342.23,500.72 342.34,500.84 342.45,503.00 342.56,502.13 342.67,504.26 342.78,503.01 342.89,504.62 343.00,505.94 343.11,505.85 343.22,505.53 343.33,505.23 343.44,507.04 343.56,507.44 343.67,509.24 343.78,509.75 343.89,510.96 344.00,509.94 344.11,510.43 344.22,511.49 344.33,512.65 344.44,511.24 344.55,512.25 344.66,512.64 344.77,513.77 344.88,514.30 344.99,516.90 345.10,515.22 345.29,518.00 345.49,516.68 345.68,517.01 345.88,519.92 346.07,517.87 346.26,518.54 346.46,519.19 346.65,519.60 346.84,521.16 347.04,521.24 347.23,521.68 347.43,521.85 347.62,524.49 347.81,523.15 348.01,524.29 348.20,525.90 348.66,527.29 349.11,527.06 349.57,527.66 350.03,528.07 350.49,528.81 350.94,529.42 351.40,527.77 352.06,527.55 352.71,529.33 353.37,529.11 354.03,529.21 354.69,530.07 355.34,528.34 356.00,529.40 356.00,529.50" fill="#d0d0d0" stroke="#333" stroke-width="0.8" stroke-linejoin="round"/>
<polyline points="224.00,514.66 224.28,516.13 224.56,515.41 224.83,515.83 225.11,513.00 225.39,512.39 225.67,513.46 225.94,512.65 226.22,510.89 226.50,511.63 226.78,510.09 227.06,510.83 227.33,508.04 227.61,507.84 227.89,509.59 228.17,507.18 228.44,506.30 228.72,507.59 229.00,506.45 229.29,504.28 229.59,505.12 229.88,504.97 230.18,502.74 230.47,503.87 230.76,501.54 231.06,501.74 231.35,500.35 231.65,500.23 231.94,502.33 232.24,499.85 232.53,501.31 232.82,498.91 233.12,498.95 233.41,499.33 233.71,498.16 234.00,495.68 234.32,496.77 234.64,496.39 234.96,494.32 235.28,493.49 235.60,495.61 235.92,493.85 236.24,492.23 236.56,492.57 236.88,491.24 237.20,492.68 237.52,491.13 237.84,489.25 238.16,491.15 238.48,488.14 238.80,488.25 239.24,486.97 239.69,488.96 240.13,486.40 240.57,487.37 241.01,485.47 241.46,486.36 241.90,486.63 242.34,485.69 242.79,484.99 243.23,484.66 243.67,484.07 244.11,484.18 244.56,482.05 245.00,482.91 245.58,482.27 246.17,484.58 246.75,484.99 247.33,482.19 247.92,482.62 248.50,484.69 249.08,484.41 249.67,482.70 250.25,485.20 250.83,486.18 251.42,484.57 252.00,484.48 252.46,485.62 252.92,487.26 253.38,485.35 253.85,485.87 254.31,485.86 254.77,487.74 255.23,487.59 255.69,487.25 256.15,488.08 256.62,487.26 257.08,488.59 257.54,491.26 258.00,490.29 258.49,489.64 258.98,492.23 259.46,490.64 259.95,490.66 260.44,490.29 260.93,491.05 261.41,491.60 261.90,492.08 262.39,494.64 262.88,492.95 263.36,493.27 263.85,494.85 264.34,496.29 264.82,494.54 265.31,496.51 265.80,495.55 266.29,496.58 266.79,497.08 267.28,498.63 267.77,498.37 268.27,497.90 268.76,499.41 269.26,498.17 269.75,498.61 270.24,500.94 270.74,499.91 271.23,501.05 271.73,499.87 272.22,502.29 272.71,501.63 273.21,500.77 273.70,503.47 274.19,502.27 274.69,502.20 275.18,502.32 275.68,502.15 276.17,502.86 276.66,504.90 277.16,503.40 277.65,504.18 278.14,505.20 278.64,505.90 279.13,505.72 279.62,507.47 280.12,506.05 280.61,506.80 281.11,507.37 281.60,506.74 282.13,507.39 282.67,507.46 283.20,509.77 283.73,508.13 284.27,510.24 284.80,509.05 285.33,510.83 285.87,511.20 286.40,510.50 286.93,512.81 287.47,512.20 288.00,512.19 288.53,510.79 289.07,512.35 289.60,512.20 290.21,512.97 290.82,514.63 291.42,514.47 292.03,511.82 292.64,514.00 293.25,514.94 293.85,513.68 294.46,512.24 295.07,514.94 295.68,513.52 296.28,515.48 296.89,515.20 297.50,515.12 297.77,514.92 298.05,511.43 298.32,513.35 298.60,511.14 298.88,510.01 299.15,510.29 299.43,510.45 299.70,507.92 299.98,508.88 300.25,509.47 300.52,507.93 300.80,507.50 301.07,506.16 301.35,507.90 301.62,504.89 301.90,505.82 302.18,505.15 302.45,502.40 302.73,505.24 303.00,502.10 303.21,504.08 303.42,503.30 303.63,502.63 303.84,501.89 304.05,499.76 304.26,499.34 304.47,498.42 304.68,499.85 304.89,496.19 305.11,495.98 305.32,498.18 305.53,497.09 305.74,496.17 305.95,496.49 306.16,494.40 306.37,494.88 306.58,492.96 306.79,493.94 307.00,490.54 307.27,491.24 307.55,491.17 307.82,491.36 308.09,489.55 308.36,489.89 308.64,490.32 308.91,487.91 309.18,486.61 309.45,485.49 309.73,487.78 310.00,485.92 310.43,486.05 310.86,486.92 311.29,486.00 311.71,486.77 312.14,487.24 312.57,487.74 313.00,489.00" stroke="#222" stroke-width="1.15" fill="none" stroke-linejoin="round" stroke-linecap="round" />
<polyline points="224.00,517.58 224.35,513.81 224.71,515.74 225.06,513.24 225.41,515.52 225.77,511.69 226.12,514.09 226.47,512.88 226.83,512.95 227.18,512.90 227.53,509.78 227.89,509.58 228.24,510.31 228.59,508.32 228.95,507.73 229.30,507.08 229.59,508.65 229.89,508.15 230.18,507.32 230.48,504.81 230.77,506.63 231.06,504.66 231.36,503.15 231.65,503.35 231.94,502.67 232.24,500.94 232.53,502.03 232.82,500.77 233.12,500.92 233.41,501.59 233.71,500.06 234.00,498.68 234.28,499.71 234.56,499.62 234.85,497.38 235.13,498.40 235.41,494.72 235.69,494.60 235.98,494.18 236.26,496.25 236.54,494.88 236.82,494.45 237.11,492.45 237.39,492.63 237.67,493.43 237.95,490.23 238.24,489.75 238.52,488.99 238.80,489.89 239.25,490.73 239.70,489.33 240.15,488.38 240.60,488.29 241.05,486.77 241.50,488.95 241.95,486.50 242.40,485.67 242.85,485.50 243.30,486.82 243.75,484.67 244.20,486.23 244.65,483.87 245.10,483.80 245.75,482.39 246.40,485.05 247.05,484.51 247.70,483.25 248.35,481.86 249.00,482.97 249.50,482.98 250.00,484.96 250.50,485.66 251.00,485.42 251.50,484.28 251.92,483.91 252.34,487.27 252.76,487.91 253.18,485.71 253.60,487.33 254.02,487.74 254.44,489.89 254.86,487.18 255.28,487.71 255.70,490.84 256.12,490.37 256.54,490.47 256.96,492.01 257.38,491.85 257.80,492.65 258.27,491.58 258.74,491.41 259.21,491.57 259.68,493.08 260.15,494.56 260.62,494.06 261.09,494.36 261.56,495.70 262.04,496.40 262.51,496.44 262.98,495.89 263.45,498.04 263.92,498.38 264.39,499.10 264.86,499.51 265.33,496.94 265.80,499.58 266.26,498.90 266.73,499.44 267.19,500.30 267.66,499.44 268.12,500.21 268.59,503.12 269.05,501.31 269.52,503.70 269.98,503.33 270.45,502.49 270.91,502.91 271.38,504.30 271.84,505.04 272.31,504.22 272.77,503.68 273.24,504.47 273.70,507.23 274.19,507.15 274.69,505.42 275.18,508.26 275.68,507.76 276.17,507.31 276.66,509.59 277.16,507.36 277.65,507.63 278.14,508.84 278.64,510.56 279.13,510.29 279.62,510.45 280.12,512.26 280.61,510.89 281.11,512.60 281.60,510.32 282.13,513.26 282.67,511.43 283.20,513.43 283.73,514.35 284.27,514.03 284.80,514.07 285.33,514.27 285.87,515.25 286.40,514.25 286.93,514.09 287.47,515.49 288.00,515.67 288.53,514.60 289.07,516.30 289.60,516.39 290.21,515.29 290.82,517.13 291.42,517.33 292.03,515.80 292.64,517.55 293.25,517.93 293.85,516.78 294.46,515.88 295.07,515.38 295.68,514.86 296.28,515.31 296.89,517.73 297.50,514.51 297.89,516.92 298.28,515.67 298.68,515.47 299.07,512.64 299.46,514.00 299.85,512.00 300.24,513.10 300.63,513.00 301.02,512.25 301.42,511.12 301.81,511.81 302.20,509.08 302.40,508.25 302.60,510.08 302.80,506.74 303.00,507.39 303.20,506.81 303.40,507.78 303.60,505.48 303.80,505.57 304.00,504.75 304.20,504.09 304.40,503.49 304.60,502.89 304.80,502.74 305.00,501.60 305.20,500.99 305.40,502.11 305.60,501.70 305.80,498.64 306.00,500.44 306.20,496.71 306.40,497.18 306.60,498.52 306.80,495.46 307.00,496.57 307.23,497.11 307.46,495.24 307.69,494.15 307.91,492.12 308.14,492.98 308.37,492.45 308.60,492.98 308.83,491.06 309.06,491.90 309.29,489.96 309.51,490.17 309.74,490.02 309.97,487.44 310.20,489.54 310.41,487.25 310.62,486.76 310.82,487.86 311.03,485.91 311.24,485.15 311.45,483.53 311.66,482.96 311.87,484.22 312.07,482.77 312.28,482.71 312.49,482.25 312.70,481.62 312.82,481.01 312.94,483.46 313.07,482.66 313.19,482.34 313.31,485.30 313.43,486.03 313.56,483.99 313.68,487.20 313.80,487.14 313.92,486.33 314.04,487.98 314.17,489.77 314.29,487.76 314.41,490.10 314.53,489.28 314.66,489.59 314.78,492.92 314.90,493.68 315.07,493.13 315.24,494.20 315.41,493.46 315.57,494.18 315.74,495.42 315.91,496.70 316.08,496.92 316.25,496.74 316.42,497.88 316.58,497.72 316.75,499.71 316.92,500.52 317.09,500.80 317.26,499.87 317.43,500.67 317.59,503.32 317.76,501.88 317.93,503.45 318.10,502.13 318.38,502.81 318.66,503.68 318.95,505.76 319.23,504.81 319.51,506.83 319.79,505.40 320.08,508.06 320.36,508.66 320.64,507.70 320.92,508.20 321.21,508.80 321.49,510.18 321.77,509.69 322.05,510.42 322.34,512.92 322.62,513.92 322.90,511.85 323.35,513.52 323.80,514.44 324.25,515.88 324.70,515.00 325.15,515.36 325.60,516.62 326.05,517.13 326.50,517.32 326.95,517.47 327.40,518.56 327.85,516.39 328.30,519.31 328.75,517.91 329.20,518.80 329.76,519.17 330.33,519.82 330.89,520.29 331.46,520.51 332.02,519.82 332.59,520.20 333.15,521.43 333.71,522.60 334.28,520.95 334.84,519.91 335.41,523.02 335.97,523.36 336.54,523.43 337.10,522.96 337.68,522.51 338.26,521.60 338.85,524.80 339.43,523.45 340.01,522.67 340.59,524.67 341.17,522.99 341.75,524.45 342.34,525.47 342.92,526.44 343.50,525.22 344.07,524.95 344.65,525.73 345.22,527.63 345.79,525.44 346.36,525.88 346.94,526.87 347.51,529.21 348.08,529.26 348.65,529.82 349.23,526.98 349.80,528.80 350.45,527.67 351.10,529.24 351.75,530.02 352.40,529.04 353.05,529.82 353.70,529.87 354.35,529.35 355.00,529.40" stroke="#000" stroke-width="1.45" fill="none" stroke-linejoin="round" stroke-linecap="round" />
<line x1="224.60" y1="462.50" x2="224.60" y2="529.50" stroke="#333" stroke-width="1.3" />
<line x1="409.50" y1="425.40" x2="513.40" y2="425.40" stroke="#666" stroke-width="1.4" />
<line x1="513.40" y1="425.40" x2="513.40" y2="529.10" stroke="#555" stroke-width="0.9" />
<line x1="409.50" y1="425.40" x2="409.50" y2="529.10" stroke="#555" stroke-width="0.9" />
<line x1="409.50" y1="529.10" x2="513.40" y2="529.10" stroke="#555" stroke-width="0.9" />
<line x1="407.50" y1="529.10" x2="409.50" y2="529.10" stroke="#777" stroke-width="0.6" />
<text x="406.5" y="524.00" font-size="4" text-anchor="middle" fill="#777" transform="rotate(-90 406.5 524.00)">10<tspan dy="-1.6" font-size="3">0</tspan></text>
<line x1="407.50" y1="503.10" x2="409.50" y2="503.10" stroke="#777" stroke-width="0.6" />
<text x="406.5" y="499.50" font-size="4" text-anchor="middle" fill="#777" transform="rotate(-90 406.5 499.50)">10<tspan dy="-1.6" font-size="3">1</tspan></text>
<line x1="407.50" y1="477.20" x2="409.50" y2="477.20" stroke="#777" stroke-width="0.6" />
<text x="406.5" y="475.00" font-size="4" text-anchor="middle" fill="#777" transform="rotate(-90 406.5 475.00)">10<tspan dy="-1.6" font-size="3">2</tspan></text>
<line x1="407.50" y1="451.30" x2="409.50" y2="451.30" stroke="#777" stroke-width="0.6" />
<text x="406.5" y="447.40" font-size="4" text-anchor="middle" fill="#777" transform="rotate(-90 406.5 447.40)">10<tspan dy="-1.6" font-size="3">3</tspan></text>
<line x1="407.50" y1="425.40" x2="409.50" y2="425.40" stroke="#777" stroke-width="0.6" />
<text x="406.5" y="421.70" font-size="4" text-anchor="middle" fill="#777" transform="rotate(-90 406.5 421.70)">10<tspan dy="-1.6" font-size="3">4</tspan></text>
<line x1="411.80" y1="529.10" x2="411.80" y2="531.00" stroke="#777" stroke-width="0.6" />
<text x="411.80" y="533.30" font-size="4" text-anchor="middle" fill="#777">10<tspan dy="-1.68" font-size="2.88">0</tspan></text>
<line x1="437.80" y1="529.10" x2="437.80" y2="531.00" stroke="#777" stroke-width="0.6" />
<text x="437.80" y="533.30" font-size="4" text-anchor="middle" fill="#777">10<tspan dy="-1.68" font-size="2.88">1</tspan></text>
<line x1="463.70" y1="529.10" x2="463.70" y2="531.00" stroke="#777" stroke-width="0.6" />
<text x="463.70" y="533.30" font-size="4" text-anchor="middle" fill="#777">10<tspan dy="-1.68" font-size="2.88">2</tspan></text>
<line x1="488.30" y1="529.10" x2="488.30" y2="531.00" stroke="#777" stroke-width="0.6" />
<text x="488.30" y="533.30" font-size="4" text-anchor="middle" fill="#777">10<tspan dy="-1.68" font-size="2.88">3</tspan></text>
<line x1="514.00" y1="529.10" x2="514.00" y2="531.00" stroke="#777" stroke-width="0.6" />
<text x="514.00" y="533.30" font-size="4" text-anchor="middle" fill="#777">10<tspan dy="-1.68" font-size="2.88">4</tspan></text>
<text x="462.50" y="538.20" font-size="3.8" text-anchor="middle" font-weight="normal" fill="#777" >PE-A</text>
<text x="402.00" y="476.80" font-size="3.6" text-anchor="middle" font-weight="normal" fill="#777" transform="rotate(-90 402.00 476.80)" textLength="12" lengthAdjust="spacingAndGlyphs" >APC-A</text>
<text x="396.70" y="493.20" font-size="15.8" text-anchor="start" font-weight="normal" fill="#000" transform="rotate(-90 396.70 493.20)" textLength="36.5" lengthAdjust="spacingAndGlyphs" stroke="#000" stroke-width="0.25" >CD28</text>
<text x="438.40" y="557.20" font-size="14.5" text-anchor="start" font-weight="normal" fill="#000" textLength="45.6" lengthAdjust="spacingAndGlyphs" stroke="#000" stroke-width="0.25" >CD62L</text>
<path d="M411.9 525.5h.9v.9h-.9zM411.7 526.7h.9v.9h-.9zM417.0 527.3h.9v.9h-.9zM418.3 526.1h.9v.9h-.9zM417.8 527.1h.9v.9h-.9zM413.0 527.5h.9v.9h-.9zM422.5 523.5h.9v.9h-.9zM413.8 525.6h.9v.9h-.9zM422.7 518.1h.9v.9h-.9zM416.7 525.8h.9v.9h-.9zM412.3 528.3h.9v.9h-.9zM413.9 524.7h.9v.9h-.9zM412.3 526.2h.9v.9h-.9zM415.0 518.3h.9v.9h-.9zM414.2 521.4h.9v.9h-.9zM414.7 524.2h.9v.9h-.9zM412.6 528.0h.9v.9h-.9zM414.7 527.1h.9v.9h-.9zM413.4 522.9h.9v.9h-.9zM413.9 521.3h.9v.9h-.9zM416.1 527.1h.9v.9h-.9zM413.2 519.7h.9v.9h-.9zM410.4 520.8h.9v.9h-.9zM425.1 526.7h.9v.9h-.9zM410.8 523.7h.9v.9h-.9zM413.7 528.2h.9v.9h-.9zM421.0 523.6h.9v.9h-.9zM415.0 522.9h.9v.9h-.9zM420.8 526.4h.9v.9h-.9zM410.9 520.8h.9v.9h-.9zM414.6 524.9h.9v.9h-.9zM413.4 521.0h.9v.9h-.9zM417.3 525.4h.9v.9h-.9zM419.7 516.4h.9v.9h-.9zM420.9 527.2h.9v.9h-.9zM420.8 525.1h.9v.9h-.9zM424.2 513.5h.9v.9h-.9zM412.7 524.2h.9v.9h-.9zM418.4 522.7h.9v.9h-.9zM418.3 527.7h.9v.9h-.9zM411.8 526.0h.9v.9h-.9zM422.0 524.9h.9v.9h-.9zM413.9 525.3h.9v.9h-.9zM421.8 520.9h.9v.9h-.9zM417.2 525.4h.9v.9h-.9zM424.8 524.8h.9v.9h-.9zM416.3 517.7h.9v.9h-.9zM411.4 522.5h.9v.9h-.9zM419.8 518.9h.9v.9h-.9zM414.1 527.7h.9v.9h-.9zM412.4 524.7h.9v.9h-.9zM410.9 521.7h.9v.9h-.9zM415.0 526.1h.9v.9h-.9zM417.8 528.4h.9v.9h-.9zM416.6 522.9h.9v.9h-.9zM421.0 525.9h.9v.9h-.9zM420.3 527.8h.9v.9h-.9zM411.1 526.8h.9v.9h-.9zM420.5 522.4h.9v.9h-.9zM419.5 521.0h.9v.9h-.9zM415.9 524.8h.9v.9h-.9zM418.5 523.4h.9v.9h-.9zM412.6 527.7h.9v.9h-.9zM411.1 525.1h.9v.9h-.9zM411.3 526.9h.9v.9h-.9zM414.3 528.6h.9v.9h-.9zM415.7 525.2h.9v.9h-.9zM425.1 526.7h.9v.9h-.9zM413.2 526.4h.9v.9h-.9zM410.1 523.1h.9v.9h-.9zM412.5 526.3h.9v.9h-.9zM423.8 513.2h.9v.9h-.9zM418.4 527.1h.9v.9h-.9zM413.0 527.2h.9v.9h-.9zM413.2 524.7h.9v.9h-.9zM412.1 525.5h.9v.9h-.9zM428.2 526.5h.9v.9h-.9zM414.2 528.0h.9v.9h-.9zM411.7 528.2h.9v.9h-.9zM430.5 525.7h.9v.9h-.9zM417.6 521.6h.9v.9h-.9zM410.5 522.9h.9v.9h-.9zM416.4 519.7h.9v.9h-.9zM422.8 526.5h.9v.9h-.9zM412.6 524.9h.9v.9h-.9zM418.2 512.5h.9v.9h-.9zM418.2 519.9h.9v.9h-.9zM415.1 519.6h.9v.9h-.9zM411.3 521.4h.9v.9h-.9zM411.1 527.5h.9v.9h-.9zM416.0 527.8h.9v.9h-.9zM410.7 519.4h.9v.9h-.9zM417.9 526.8h.9v.9h-.9zM430.6 521.7h.9v.9h-.9zM416.9 527.0h.9v.9h-.9zM411.0 524.4h.9v.9h-.9zM411.7 524.8h.9v.9h-.9zM421.5 519.5h.9v.9h-.9zM414.6 522.8h.9v.9h-.9zM417.7 519.8h.9v.9h-.9zM419.5 524.1h.9v.9h-.9zM421.0 523.0h.9v.9h-.9zM410.0 521.8h.9v.9h-.9zM415.7 519.1h.9v.9h-.9zM416.7 519.2h.9v.9h-.9zM417.4 527.5h.9v.9h-.9zM424.8 520.2h.9v.9h-.9zM410.7 525.0h.9v.9h-.9zM413.0 526.1h.9v.9h-.9zM421.2 522.5h.9v.9h-.9zM418.5 519.7h.9v.9h-.9zM420.9 527.5h.9v.9h-.9zM415.6 522.5h.9v.9h-.9zM410.9 527.9h.9v.9h-.9zM420.7 527.0h.9v.9h-.9zM427.2 526.3h.9v.9h-.9zM423.9 523.7h.9v.9h-.9zM412.4 524.9h.9v.9h-.9zM410.1 523.6h.9v.9h-.9zM410.6 520.6h.9v.9h-.9zM410.5 522.4h.9v.9h-.9zM421.2 518.9h.9v.9h-.9zM415.0 523.3h.9v.9h-.9zM424.1 522.1h.9v.9h-.9zM424.7 522.2h.9v.9h-.9zM419.2 528.5h.9v.9h-.9zM411.4 528.4h.9v.9h-.9zM414.4 527.2h.9v.9h-.9zM423.4 528.3h.9v.9h-.9zM414.0 522.6h.9v.9h-.9zM411.5 521.0h.9v.9h-.9zM414.2 522.2h.9v.9h-.9zM422.3 525.0h.9v.9h-.9zM417.6 523.8h.9v.9h-.9zM410.1 523.8h.9v.9h-.9zM411.2 521.5h.9v.9h-.9zM421.7 524.8h.9v.9h-.9zM416.9 525.2h.9v.9h-.9zM416.8 524.0h.9v.9h-.9zM421.5 527.9h.9v.9h-.9zM418.8 526.4h.9v.9h-.9zM427.7 526.6h.9v.9h-.9zM414.8 516.9h.9v.9h-.9zM415.4 526.9h.9v.9h-.9zM426.7 523.3h.9v.9h-.9zM412.2 525.8h.9v.9h-.9zM415.8 524.1h.9v.9h-.9zM415.0 526.6h.9v.9h-.9zM420.0 524.6h.9v.9h-.9zM413.4 516.1h.9v.9h-.9zM416.7 520.7h.9v.9h-.9zM412.2 525.8h.9v.9h-.9zM424.6 518.1h.9v.9h-.9zM413.5 514.1h.9v.9h-.9zM417.0 524.5h.9v.9h-.9zM424.1 527.9h.9v.9h-.9zM414.2 523.2h.9v.9h-.9zM416.8 528.1h.9v.9h-.9zM412.2 523.6h.9v.9h-.9zM410.3 527.4h.9v.9h-.9zM417.6 526.4h.9v.9h-.9zM416.7 528.0h.9v.9h-.9zM416.4 523.6h.9v.9h-.9zM430.0 521.8h.9v.9h-.9zM414.8 513.0h.9v.9h-.9zM414.7 525.7h.9v.9h-.9zM422.6 526.0h.9v.9h-.9zM410.5 525.5h.9v.9h-.9zM424.6 522.4h.9v.9h-.9zM412.4 524.4h.9v.9h-.9zM419.9 517.7h.9v.9h-.9zM420.5 524.6h.9v.9h-.9zM412.2 527.5h.9v.9h-.9zM413.0 522.8h.9v.9h-.9zM425.9 522.4h.9v.9h-.9zM419.0 520.5h.9v.9h-.9zM422.8 522.7h.9v.9h-.9zM423.7 523.7h.9v.9h-.9zM416.5 527.0h.9v.9h-.9zM426.2 524.1h.9v.9h-.9zM410.4 525.5h.9v.9h-.9zM415.5 527.9h.9v.9h-.9zM413.4 526.3h.9v.9h-.9zM414.8 527.3h.9v.9h-.9zM412.4 523.9h.9v.9h-.9zM410.4 523.6h.9v.9h-.9zM414.7 528.6h.9v.9h-.9zM410.8 527.7h.9v.9h-.9zM410.0 527.5h.9v.9h-.9zM411.0 521.0h.9v.9h-.9zM413.2 522.3h.9v.9h-.9zM413.3 527.5h.9v.9h-.9zM413.3 522.8h.9v.9h-.9zM424.2 528.2h.9v.9h-.9zM417.0 524.2h.9v.9h-.9zM418.1 512.8h.9v.9h-.9zM417.8 519.1h.9v.9h-.9zM412.9 520.4h.9v.9h-.9zM415.7 525.5h.9v.9h-.9zM413.7 527.5h.9v.9h-.9zM421.1 524.4h.9v.9h-.9zM410.2 525.0h.9v.9h-.9zM422.4 522.8h.9v.9h-.9zM417.7 522.1h.9v.9h-.9zM411.1 524.2h.9v.9h-.9zM412.2 522.2h.9v.9h-.9zM414.5 523.2h.9v.9h-.9zM411.6 513.3h.9v.9h-.9zM419.3 527.3h.9v.9h-.9zM410.7 513.0h.9v.9h-.9zM412.6 523.4h.9v.9h-.9zM417.4 528.6h.9v.9h-.9zM418.8 527.5h.9v.9h-.9zM412.7 521.8h.9v.9h-.9zM415.9 528.5h.9v.9h-.9zM416.4 525.4h.9v.9h-.9zM411.5 528.3h.9v.9h-.9zM411.8 524.5h.9v.9h-.9zM417.9 524.8h.9v.9h-.9zM410.0 519.8h.9v.9h-.9zM413.3 516.5h.9v.9h-.9zM415.1 525.2h.9v.9h-.9zM414.2 528.3h.9v.9h-.9zM411.7 520.1h.9v.9h-.9zM423.7 525.5h.9v.9h-.9zM418.2 523.3h.9v.9h-.9zM411.4 517.7h.9v.9h-.9zM415.9 523.0h.9v.9h-.9zM424.2 528.3h.9v.9h-.9zM414.7 518.0h.9v.9h-.9zM423.7 522.2h.9v.9h-.9zM414.7 520.2h.9v.9h-.9zM410.2 527.1h.9v.9h-.9zM414.8 524.4h.9v.9h-.9zM421.3 521.6h.9v.9h-.9zM419.8 525.6h.9v.9h-.9zM418.0 522.1h.9v.9h-.9zM410.6 528.6h.9v.9h-.9zM413.7 519.1h.9v.9h-.9zM419.3 528.5h.9v.9h-.9zM411.5 526.7h.9v.9h-.9zM410.5 524.0h.9v.9h-.9zM415.3 526.5h.9v.9h-.9zM410.7 524.6h.9v.9h-.9zM411.3 512.3h.9v.9h-.9zM417.4 528.4h.9v.9h-.9zM421.3 527.4h.9v.9h-.9zM411.1 520.3h.9v.9h-.9zM411.9 526.7h.9v.9h-.9zM413.4 524.9h.9v.9h-.9zM410.3 523.5h.9v.9h-.9zM411.1 528.2h.9v.9h-.9zM415.5 526.8h.9v.9h-.9zM415.4 520.5h.9v.9h-.9zM412.8 524.2h.9v.9h-.9zM418.3 527.9h.9v.9h-.9zM413.7 528.0h.9v.9h-.9zM413.9 526.1h.9v.9h-.9zM427.4 526.7h.9v.9h-.9zM418.3 527.9h.9v.9h-.9zM418.4 514.3h.9v.9h-.9zM415.6 527.1h.9v.9h-.9zM414.5 514.6h.9v.9h-.9zM412.4 520.9h.9v.9h-.9zM415.7 522.9h.9v.9h-.9zM413.8 527.7h.9v.9h-.9zM413.8 522.1h.9v.9h-.9zM418.9 522.5h.9v.9h-.9zM411.9 515.9h.9v.9h-.9zM411.7 528.5h.9v.9h-.9zM418.7 528.4h.9v.9h-.9zM416.1 527.1h.9v.9h-.9zM414.4 524.3h.9v.9h-.9zM415.8 518.1h.9v.9h-.9zM422.5 528.5h.9v.9h-.9zM412.0 526.0h.9v.9h-.9zM420.6 524.4h.9v.9h-.9zM415.1 525.7h.9v.9h-.9zM415.2 524.3h.9v.9h-.9zM420.0 528.5h.9v.9h-.9zM415.1 523.7h.9v.9h-.9zM410.4 526.7h.9v.9h-.9zM421.4 521.8h.9v.9h-.9zM413.9 514.9h.9v.9h-.9zM410.0 523.9h.9v.9h-.9zM414.9 528.3h.9v.9h-.9zM423.1 517.9h.9v.9h-.9zM420.2 521.3h.9v.9h-.9zM421.3 518.9h.9v.9h-.9zM418.8 525.8h.9v.9h-.9zM410.5 526.7h.9v.9h-.9zM410.9 522.1h.9v.9h-.9zM410.2 520.0h.9v.9h-.9zM410.5 526.7h.9v.9h-.9zM413.5 527.2h.9v.9h-.9zM416.8 527.6h.9v.9h-.9zM413.6 519.2h.9v.9h-.9zM415.8 527.9h.9v.9h-.9zM413.5 524.4h.9v.9h-.9zM417.0 526.5h.9v.9h-.9zM412.2 525.5h.9v.9h-.9zM414.3 516.0h.9v.9h-.9zM415.3 528.5h.9v.9h-.9zM431.0 517.4h.9v.9h-.9zM413.9 527.6h.9v.9h-.9zM411.2 526.2h.9v.9h-.9zM411.8 526.4h.9v.9h-.9zM410.4 524.0h.9v.9h-.9zM424.2 523.3h.9v.9h-.9zM410.0 522.4h.9v.9h-.9zM417.8 524.8h.9v.9h-.9zM414.9 524.8h.9v.9h-.9zM415.6 526.8h.9v.9h-.9zM413.8 528.0h.9v.9h-.9zM420.6 528.4h.9v.9h-.9zM413.4 525.4h.9v.9h-.9zM410.7 524.1h.9v.9h-.9zM416.6 524.8h.9v.9h-.9zM424.0 525.3h.9v.9h-.9zM411.1 527.7h.9v.9h-.9zM421.6 526.7h.9v.9h-.9zM416.7 524.5h.9v.9h-.9zM410.1 528.5h.9v.9h-.9zM423.3 520.0h.9v.9h-.9zM416.7 518.1h.9v.9h-.9zM415.6 527.8h.9v.9h-.9zM413.4 526.4h.9v.9h-.9zM421.2 527.3h.9v.9h-.9zM421.2 525.2h.9v.9h-.9zM417.7 520.4h.9v.9h-.9zM419.2 526.6h.9v.9h-.9zM422.7 526.0h.9v.9h-.9zM411.8 515.2h.9v.9h-.9zM413.9 524.6h.9v.9h-.9zM414.0 525.3h.9v.9h-.9zM417.6 521.6h.9v.9h-.9zM412.2 527.1h.9v.9h-.9zM419.8 527.4h.9v.9h-.9zM414.1 525.8h.9v.9h-.9zM410.9 528.1h.9v.9h-.9zM412.7 522.3h.9v.9h-.9zM420.4 526.4h.9v.9h-.9zM416.3 524.1h.9v.9h-.9zM410.5 524.1h.9v.9h-.9zM421.4 526.3h.9v.9h-.9zM410.6 527.4h.9v.9h-.9zM421.2 528.5h.9v.9h-.9zM415.1 526.4h.9v.9h-.9zM418.5 516.7h.9v.9h-.9zM410.3 527.0h.9v.9h-.9zM414.1 523.3h.9v.9h-.9zM412.0 525.0h.9v.9h-.9zM413.6 519.2h.9v.9h-.9zM415.1 528.5h.9v.9h-.9zM416.4 527.6h.9v.9h-.9zM412.3 524.7h.9v.9h-.9zM412.3 518.6h.9v.9h-.9zM415.1 514.4h.9v.9h-.9zM414.8 528.5h.9v.9h-.9zM411.3 522.5h.9v.9h-.9zM419.3 516.0h.9v.9h-.9zM414.5 523.8h.9v.9h-.9zM414.7 512.8h.9v.9h-.9zM411.5 527.1h.9v.9h-.9zM417.0 526.4h.9v.9h-.9zM422.5 521.2h.9v.9h-.9zM416.1 526.4h.9v.9h-.9zM416.9 515.7h.9v.9h-.9zM410.0 527.1h.9v.9h-.9zM413.7 523.6h.9v.9h-.9zM414.7 524.8h.9v.9h-.9zM410.3 528.2h.9v.9h-.9zM411.3 523.1h.9v.9h-.9zM413.7 527.7h.9v.9h-.9zM415.0 527.7h.9v.9h-.9zM418.6 519.9h.9v.9h-.9zM413.5 522.9h.9v.9h-.9zM418.1 526.5h.9v.9h-.9zM421.7 518.9h.9v.9h-.9zM412.5 523.3h.9v.9h-.9zM411.5 527.7h.9v.9h-.9zM421.6 522.8h.9v.9h-.9zM410.2 526.9h.9v.9h-.9zM412.6 528.1h.9v.9h-.9zM415.1 526.4h.9v.9h-.9zM410.3 515.8h.9v.9h-.9zM413.2 524.5h.9v.9h-.9zM420.0 526.4h.9v.9h-.9zM410.9 519.1h.9v.9h-.9zM412.4 524.2h.9v.9h-.9zM422.6 528.4h.9v.9h-.9zM419.2 524.3h.9v.9h-.9zM411.6 528.1h.9v.9h-.9zM410.9 521.8h.9v.9h-.9zM427.9 524.6h.9v.9h-.9zM414.3 525.6h.9v.9h-.9zM417.9 525.6h.9v.9h-.9zM414.3 526.9h.9v.9h-.9zM414.0 519.3h.9v.9h-.9zM415.7 519.3h.9v.9h-.9zM415.2 525.3h.9v.9h-.9zM413.0 523.4h.9v.9h-.9zM410.6 526.2h.9v.9h-.9zM414.1 519.1h.9v.9h-.9zM410.0 526.4h.9v.9h-.9zM419.3 527.0h.9v.9h-.9zM419.6 513.7h.9v.9h-.9zM426.6 516.7h.9v.9h-.9zM410.3 526.1h.9v.9h-.9zM417.2 524.6h.9v.9h-.9zM412.0 522.3h.9v.9h-.9zM410.8 522.4h.9v.9h-.9zM418.2 522.4h.9v.9h-.9zM410.2 517.0h.9v.9h-.9zM412.0 526.0h.9v.9h-.9zM413.4 524.4h.9v.9h-.9zM416.6 526.2h.9v.9h-.9zM410.4 524.6h.9v.9h-.9zM410.1 524.1h.9v.9h-.9zM418.9 518.4h.9v.9h-.9zM415.9 526.1h.9v.9h-.9zM428.6 517.2h.9v.9h-.9zM415.4 528.4h.9v.9h-.9zM413.9 520.4h.9v.9h-.9zM413.5 528.4h.9v.9h-.9zM423.7 526.8h.9v.9h-.9zM419.0 517.4h.9v.9h-.9zM416.1 527.3h.9v.9h-.9zM413.6 526.0h.9v.9h-.9zM419.8 527.3h.9v.9h-.9zM416.6 526.1h.9v.9h-.9zM415.5 523.7h.9v.9h-.9zM410.8 518.2h.9v.9h-.9zM413.3 527.7h.9v.9h-.9zM418.6 523.9h.9v.9h-.9zM411.5 523.0h.9v.9h-.9zM413.2 525.5h.9v.9h-.9zM410.3 520.5h.9v.9h-.9zM412.9 525.3h.9v.9h-.9zM416.7 528.2h.9v.9h-.9zM412.1 525.1h.9v.9h-.9zM411.9 524.9h.9v.9h-.9zM412.7 521.3h.9v.9h-.9zM413.2 527.5h.9v.9h-.9zM417.5 524.0h.9v.9h-.9zM412.1 526.6h.9v.9h-.9zM416.0 520.7h.9v.9h-.9zM415.2 526.0h.9v.9h-.9zM416.6 514.7h.9v.9h-.9zM413.7 521.4h.9v.9h-.9zM414.9 523.7h.9v.9h-.9zM426.6 513.4h.9v.9h-.9zM413.3 525.6h.9v.9h-.9zM410.7 524.6h.9v.9h-.9zM426.1 528.1h.9v.9h-.9zM422.3 523.5h.9v.9h-.9zM422.9 521.7h.9v.9h-.9zM414.3 527.7h.9v.9h-.9zM419.5 527.9h.9v.9h-.9zM420.4 518.4h.9v.9h-.9zM418.9 524.2h.9v.9h-.9zM416.1 523.4h.9v.9h-.9zM413.7 524.7h.9v.9h-.9zM426.9 526.8h.9v.9h-.9zM416.8 524.2h.9v.9h-.9zM416.6 513.9h.9v.9h-.9zM411.3 525.6h.9v.9h-.9zM429.1 522.9h.9v.9h-.9zM412.5 528.4h.9v.9h-.9zM416.6 525.9h.9v.9h-.9zM418.6 523.9h.9v.9h-.9zM412.0 525.4h.9v.9h-.9zM411.2 524.5h.9v.9h-.9zM422.0 522.0h.9v.9h-.9zM412.3 525.2h.9v.9h-.9zM411.5 522.7h.9v.9h-.9zM417.3 527.9h.9v.9h-.9zM414.0 525.4h.9v.9h-.9zM412.5 516.0h.9v.9h-.9zM419.3 526.6h.9v.9h-.9zM410.1 526.9h.9v.9h-.9zM412.0 526.0h.9v.9h-.9zM417.7 524.2h.9v.9h-.9zM414.5 524.9h.9v.9h-.9zM418.7 524.8h.9v.9h-.9zM419.8 524.6h.9v.9h-.9zM417.6 526.5h.9v.9h-.9zM420.3 527.4h.9v.9h-.9zM415.5 528.3h.9v.9h-.9zM411.1 518.2h.9v.9h-.9zM414.6 527.6h.9v.9h-.9zM413.5 528.1h.9v.9h-.9zM415.5 524.0h.9v.9h-.9zM416.8 525.1h.9v.9h-.9zM412.2 528.5h.9v.9h-.9zM412.0 526.7h.9v.9h-.9zM411.3 518.3h.9v.9h-.9zM412.5 528.5h.9v.9h-.9zM417.3 528.5h.9v.9h-.9zM413.9 527.6h.9v.9h-.9zM425.6 513.0h.9v.9h-.9zM411.5 517.6h.9v.9h-.9zM417.3 512.7h.9v.9h-.9zM428.8 527.8h.9v.9h-.9zM413.9 526.8h.9v.9h-.9zM414.1 515.1h.9v.9h-.9zM416.4 526.4h.9v.9h-.9zM410.2 525.1h.9v.9h-.9zM414.8 525.7h.9v.9h-.9zM411.7 525.5h.9v.9h-.9zM426.9 528.4h.9v.9h-.9zM411.5 524.1h.9v.9h-.9zM416.6 528.4h.9v.9h-.9zM414.6 527.7h.9v.9h-.9zM419.3 516.7h.9v.9h-.9zM416.8 517.1h.9v.9h-.9zM416.4 519.4h.9v.9h-.9zM416.9 523.7h.9v.9h-.9zM414.6 524.3h.9v.9h-.9zM416.7 523.1h.9v.9h-.9zM423.6 522.6h.9v.9h-.9zM428.7 517.1h.9v.9h-.9zM415.1 524.2h.9v.9h-.9zM411.7 524.1h.9v.9h-.9zM419.8 528.1h.9v.9h-.9zM418.1 520.7h.9v.9h-.9zM414.4 527.3h.9v.9h-.9zM410.1 526.7h.9v.9h-.9zM412.4 524.4h.9v.9h-.9zM423.8 515.4h.9v.9h-.9zM419.5 524.0h.9v.9h-.9zM410.2 528.3h.9v.9h-.9zM414.2 527.9h.9v.9h-.9zM416.0 524.3h.9v.9h-.9zM425.9 527.6h.9v.9h-.9zM413.6 525.4h.9v.9h-.9zM410.9 527.6h.9v.9h-.9zM417.0 528.5h.9v.9h-.9zM415.5 525.1h.9v.9h-.9zM411.6 520.8h.9v.9h-.9zM414.3 526.4h.9v.9h-.9zM416.1 523.8h.9v.9h-.9zM421.7 518.0h.9v.9h-.9zM410.2 525.2h.9v.9h-.9zM418.8 523.8h.9v.9h-.9zM419.0 521.0h.9v.9h-.9zM414.8 525.9h.9v.9h-.9zM420.8 528.0h.9v.9h-.9zM416.4 526.5h.9v.9h-.9zM415.0 523.5h.9v.9h-.9zM421.3 524.8h.9v.9h-.9zM410.2 515.6h.9v.9h-.9zM418.9 526.6h.9v.9h-.9zM414.6 526.1h.9v.9h-.9zM422.2 524.9h.9v.9h-.9zM419.5 528.0h.9v.9h-.9zM413.9 527.4h.9v.9h-.9zM413.2 520.8h.9v.9h-.9zM420.7 528.2h.9v.9h-.9zM411.8 525.2h.9v.9h-.9zM412.3 523.9h.9v.9h-.9zM425.0 524.8h.9v.9h-.9zM412.4 519.3h.9v.9h-.9zM424.5 528.1h.9v.9h-.9zM410.3 521.9h.9v.9h-.9zM410.4 522.0h.9v.9h-.9zM410.5 525.8h.9v.9h-.9zM410.2 526.9h.9v.9h-.9zM416.4 520.0h.9v.9h-.9zM414.9 517.7h.9v.9h-.9zM411.4 524.0h.9v.9h-.9zM417.6 526.5h.9v.9h-.9zM412.2 521.5h.9v.9h-.9zM411.0 520.0h.9v.9h-.9zM415.1 527.7h.9v.9h-.9zM411.0 527.9h.9v.9h-.9zM410.4 524.2h.9v.9h-.9zM410.7 514.2h.9v.9h-.9zM410.2 523.3h.9v.9h-.9zM414.9 524.9h.9v.9h-.9zM411.1 515.5h.9v.9h-.9zM417.9 521.9h.9v.9h-.9zM420.6 514.2h.9v.9h-.9zM424.1 526.4h.9v.9h-.9zM414.8 517.4h.9v.9h-.9zM421.1 524.9h.9v.9h-.9zM415.8 526.4h.9v.9h-.9zM412.5 520.5h.9v.9h-.9zM424.6 522.4h.9v.9h-.9zM411.1 527.5h.9v.9h-.9zM423.5 520.0h.9v.9h-.9zM412.3 525.9h.9v.9h-.9zM412.2 528.3h.9v.9h-.9zM413.8 520.6h.9v.9h-.9zM414.0 519.3h.9v.9h-.9zM419.2 525.4h.9v.9h-.9zM419.0 520.2h.9v.9h-.9zM416.7 517.1h.9v.9h-.9zM423.8 523.7h.9v.9h-.9zM425.5 521.2h.9v.9h-.9zM414.0 526.1h.9v.9h-.9zM411.5 527.6h.9v.9h-.9zM417.9 519.6h.9v.9h-.9zM419.3 520.2h.9v.9h-.9zM414.2 525.0h.9v.9h-.9zM412.8 527.0h.9v.9h-.9zM410.2 524.5h.9v.9h-.9zM413.3 522.9h.9v.9h-.9zM415.7 528.0h.9v.9h-.9zM412.4 519.3h.9v.9h-.9zM414.5 524.7h.9v.9h-.9zM418.7 527.0h.9v.9h-.9zM416.2 521.9h.9v.9h-.9zM417.6 527.4h.9v.9h-.9zM421.9 524.6h.9v.9h-.9zM416.7 520.9h.9v.9h-.9zM415.1 527.6h.9v.9h-.9zM412.1 526.6h.9v.9h-.9zM411.9 525.3h.9v.9h-.9zM415.0 528.6h.9v.9h-.9zM411.6 512.1h.9v.9h-.9zM418.7 528.4h.9v.9h-.9zM423.4 528.0h.9v.9h-.9zM413.5 522.2h.9v.9h-.9zM418.1 519.3h.9v.9h-.9zM411.2 514.2h.9v.9h-.9zM411.1 524.5h.9v.9h-.9zM412.7 521.9h.9v.9h-.9zM418.2 523.2h.9v.9h-.9zM421.5 523.5h.9v.9h-.9zM414.3 518.6h.9v.9h-.9zM414.9 524.5h.9v.9h-.9zM416.1 525.1h.9v.9h-.9zM412.5 527.0h.9v.9h-.9zM411.3 527.7h.9v.9h-.9zM411.6 524.1h.9v.9h-.9zM417.2 524.5h.9v.9h-.9zM421.3 520.0h.9v.9h-.9zM410.9 522.0h.9v.9h-.9zM422.3 526.6h.9v.9h-.9zM410.2 520.0h.9v.9h-.9zM413.9 524.3h.9v.9h-.9zM418.1 519.0h.9v.9h-.9zM416.5 520.2h.9v.9h-.9zM413.9 523.0h.9v.9h-.9zM411.4 520.8h.9v.9h-.9zM415.9 523.8h.9v.9h-.9zM414.2 525.7h.9v.9h-.9zM412.3 523.9h.9v.9h-.9zM414.2 517.5h.9v.9h-.9zM412.5 525.7h.9v.9h-.9zM410.1 523.3h.9v.9h-.9zM414.4 528.1h.9v.9h-.9zM412.3 525.2h.9v.9h-.9zM422.0 527.1h.9v.9h-.9zM425.4 519.4h.9v.9h-.9zM415.9 525.1h.9v.9h-.9zM423.3 527.5h.9v.9h-.9zM410.8 522.2h.9v.9h-.9zM413.5 520.5h.9v.9h-.9zM414.0 526.1h.9v.9h-.9zM411.5 527.6h.9v.9h-.9zM420.7 522.3h.9v.9h-.9zM413.1 522.0h.9v.9h-.9zM415.6 523.7h.9v.9h-.9zM416.4 522.3h.9v.9h-.9zM420.2 523.0h.9v.9h-.9zM416.7 525.1h.9v.9h-.9zM421.1 524.1h.9v.9h-.9zM414.8 526.5h.9v.9h-.9zM412.7 516.4h.9v.9h-.9zM411.8 519.4h.9v.9h-.9zM416.8 521.4h.9v.9h-.9zM415.2 523.5h.9v.9h-.9zM414.1 520.8h.9v.9h-.9zM416.4 525.0h.9v.9h-.9zM412.4 519.3h.9v.9h-.9zM413.9 525.3h.9v.9h-.9zM417.3 525.5h.9v.9h-.9zM415.6 524.3h.9v.9h-.9zM417.8 516.3h.9v.9h-.9zM414.5 520.6h.9v.9h-.9zM411.3 522.7h.9v.9h-.9zM430.3 527.6h.9v.9h-.9zM419.1 526.8h.9v.9h-.9zM417.0 519.7h.9v.9h-.9zM418.5 526.0h.9v.9h-.9zM417.9 523.9h.9v.9h-.9zM421.5 526.2h.9v.9h-.9zM420.7 527.9h.9v.9h-.9zM414.3 522.2h.9v.9h-.9zM425.4 520.8h.9v.9h-.9zM412.8 519.8h.9v.9h-.9zM419.9 522.2h.9v.9h-.9zM425.6 516.6h.9v.9h-.9zM411.6 527.0h.9v.9h-.9zM411.2 522.6h.9v.9h-.9zM417.8 528.1h.9v.9h-.9zM420.2 524.2h.9v.9h-.9zM413.5 524.8h.9v.9h-.9zM412.0 518.9h.9v.9h-.9zM418.5 525.9h.9v.9h-.9zM412.6 518.0h.9v.9h-.9zM414.0 526.0h.9v.9h-.9zM418.9 521.1h.9v.9h-.9zM413.9 520.7h.9v.9h-.9zM419.5 527.1h.9v.9h-.9zM412.9 513.3h.9v.9h-.9zM416.5 521.8h.9v.9h-.9zM415.8 518.6h.9v.9h-.9zM416.1 527.6h.9v.9h-.9zM413.7 527.7h.9v.9h-.9zM413.5 523.7h.9v.9h-.9zM413.5 524.8h.9v.9h-.9zM414.1 525.4h.9v.9h-.9zM414.3 526.9h.9v.9h-.9zM422.0 528.4h.9v.9h-.9zM411.1 524.2h.9v.9h-.9zM412.7 522.1h.9v.9h-.9zM419.6 524.9h.9v.9h-.9zM413.8 523.8h.9v.9h-.9zM423.3 523.5h.9v.9h-.9zM423.2 524.7h.9v.9h-.9zM420.9 522.7h.9v.9h-.9zM419.0 519.9h.9v.9h-.9zM410.9 527.8h.9v.9h-.9zM428.4 527.5h.9v.9h-.9zM413.2 524.8h.9v.9h-.9zM413.3 526.6h.9v.9h-.9zM411.3 518.3h.9v.9h-.9zM412.5 525.8h.9v.9h-.9zM420.9 522.6h.9v.9h-.9zM417.8 517.6h.9v.9h-.9zM420.2 522.0h.9v.9h-.9zM417.8 517.5h.9v.9h-.9zM413.4 517.5h.9v.9h-.9zM413.7 519.9h.9v.9h-.9zM422.1 526.7h.9v.9h-.9zM424.4 523.9h.9v.9h-.9zM415.5 527.0h.9v.9h-.9zM410.4 525.3h.9v.9h-.9zM412.6 528.5h.9v.9h-.9zM414.1 527.9h.9v.9h-.9zM418.8 528.2h.9v.9h-.9zM424.5 525.7h.9v.9h-.9zM424.4 528.1h.9v.9h-.9zM419.4 527.1h.9v.9h-.9zM417.3 518.7h.9v.9h-.9zM415.5 524.2h.9v.9h-.9zM412.9 528.0h.9v.9h-.9zM416.9 522.1h.9v.9h-.9zM420.1 527.1h.9v.9h-.9zM417.1 515.9h.9v.9h-.9zM420.3 513.7h.9v.9h-.9zM418.6 528.1h.9v.9h-.9zM411.6 527.7h.9v.9h-.9zM412.1 520.4h.9v.9h-.9zM417.9 518.5h.9v.9h-.9zM415.7 523.5h.9v.9h-.9zM422.7 527.0h.9v.9h-.9zM412.0 522.4h.9v.9h-.9zM418.4 525.0h.9v.9h-.9zM412.9 524.2h.9v.9h-.9zM413.6 523.2h.9v.9h-.9zM416.0 528.5h.9v.9h-.9zM430.4 527.9h.9v.9h-.9zM417.5 519.8h.9v.9h-.9zM413.2 524.0h.9v.9h-.9zM413.0 521.0h.9v.9h-.9zM418.7 520.7h.9v.9h-.9zM421.6 526.2h.9v.9h-.9zM417.1 523.6h.9v.9h-.9zM416.0 527.0h.9v.9h-.9zM414.9 528.4h.9v.9h-.9zM419.0 524.7h.9v.9h-.9zM417.2 519.7h.9v.9h-.9zM418.7 524.2h.9v.9h-.9zM417.8 523.0h.9v.9h-.9zM413.3 521.0h.9v.9h-.9zM412.2 524.8h.9v.9h-.9zM414.1 522.8h.9v.9h-.9zM410.3 525.8h.9v.9h-.9zM410.9 527.1h.9v.9h-.9zM412.6 515.5h.9v.9h-.9zM414.0 523.8h.9v.9h-.9zM415.8 519.1h.9v.9h-.9zM415.4 526.8h.9v.9h-.9zM412.5 522.7h.9v.9h-.9zM413.3 522.8h.9v.9h-.9zM421.0 517.7h.9v.9h-.9zM419.1 526.0h.9v.9h-.9zM413.7 527.9h.9v.9h-.9zM413.6 521.3h.9v.9h-.9zM417.1 525.4h.9v.9h-.9zM417.4 528.1h.9v.9h-.9zM424.8 520.9h.9v.9h-.9zM418.5 527.8h.9v.9h-.9zM413.0 527.1h.9v.9h-.9zM413.2 525.3h.9v.9h-.9zM410.8 527.7h.9v.9h-.9zM421.4 528.3h.9v.9h-.9zM424.1 517.8h.9v.9h-.9zM422.9 522.2h.9v.9h-.9zM411.0 527.8h.9v.9h-.9zM411.1 524.2h.9v.9h-.9zM410.5 524.8h.9v.9h-.9zM422.3 525.4h.9v.9h-.9zM413.3 517.1h.9v.9h-.9zM410.4 526.1h.9v.9h-.9zM418.1 521.8h.9v.9h-.9zM426.9 525.2h.9v.9h-.9zM410.5 513.1h.9v.9h-.9zM410.2 527.7h.9v.9h-.9zM420.8 527.8h.9v.9h-.9zM411.3 526.4h.9v.9h-.9zM414.5 519.6h.9v.9h-.9zM417.5 518.3h.9v.9h-.9zM412.6 528.4h.9v.9h-.9zM416.6 522.8h.9v.9h-.9zM420.4 525.2h.9v.9h-.9zM418.2 520.1h.9v.9h-.9zM417.0 522.1h.9v.9h-.9zM415.4 524.1h.9v.9h-.9zM419.9 521.7h.9v.9h-.9zM422.4 525.0h.9v.9h-.9zM415.7 526.6h.9v.9h-.9zM428.8 522.6h.9v.9h-.9zM414.1 517.8h.9v.9h-.9zM415.0 521.5h.9v.9h-.9zM424.0 527.0h.9v.9h-.9zM415.2 525.5h.9v.9h-.9zM424.1 523.2h.9v.9h-.9zM418.1 522.2h.9v.9h-.9zM422.8 521.0h.9v.9h-.9zM412.2 524.0h.9v.9h-.9zM415.9 528.6h.9v.9h-.9zM418.8 524.9h.9v.9h-.9zM416.3 517.1h.9v.9h-.9zM423.7 525.6h.9v.9h-.9zM415.7 517.4h.9v.9h-.9zM415.4 526.5h.9v.9h-.9zM418.1 519.8h.9v.9h-.9zM416.6 516.4h.9v.9h-.9zM411.8 526.5h.9v.9h-.9zM422.6 525.1h.9v.9h-.9zM413.8 519.1h.9v.9h-.9zM415.0 526.8h.9v.9h-.9zM418.8 523.0h.9v.9h-.9zM415.0 527.7h.9v.9h-.9zM410.4 518.6h.9v.9h-.9zM412.2 522.2h.9v.9h-.9zM421.6 522.9h.9v.9h-.9zM410.8 524.3h.9v.9h-.9zM424.0 522.5h.9v.9h-.9zM416.8 523.8h.9v.9h-.9zM419.9 527.4h.9v.9h-.9zM411.8 525.0h.9v.9h-.9zM414.9 520.1h.9v.9h-.9zM416.3 522.7h.9v.9h-.9zM417.4 524.4h.9v.9h-.9zM411.3 527.1h.9v.9h-.9zM417.3 528.5h.9v.9h-.9zM418.3 523.3h.9v.9h-.9zM411.0 525.2h.9v.9h-.9zM415.7 525.4h.9v.9h-.9zM411.5 528.5h.9v.9h-.9zM432.4 524.8h.9v.9h-.9zM415.8 523.4h.9v.9h-.9zM415.3 526.7h.9v.9h-.9zM411.4 522.4h.9v.9h-.9zM422.1 525.2h.9v.9h-.9zM418.1 514.6h.9v.9h-.9zM410.1 526.9h.9v.9h-.9zM411.4 525.0h.9v.9h-.9zM412.1 527.6h.9v.9h-.9zM424.2 524.3h.9v.9h-.9zM427.6 524.8h.9v.9h-.9zM412.3 527.4h.9v.9h-.9zM416.2 525.1h.9v.9h-.9zM423.8 518.2h.9v.9h-.9zM410.4 520.9h.9v.9h-.9zM421.9 517.0h.9v.9h-.9zM413.6 523.4h.9v.9h-.9zM414.2 527.5h.9v.9h-.9zM432.7 524.6h.9v.9h-.9zM410.4 526.9h.9v.9h-.9zM410.3 523.0h.9v.9h-.9zM423.3 521.1h.9v.9h-.9zM411.2 527.0h.9v.9h-.9zM412.7 519.4h.9v.9h-.9zM423.2 514.7h.9v.9h-.9zM413.9 527.4h.9v.9h-.9zM410.6 514.4h.9v.9h-.9zM412.8 524.1h.9v.9h-.9zM420.6 523.1h.9v.9h-.9zM415.2 525.3h.9v.9h-.9zM410.2 525.5h.9v.9h-.9zM414.5 528.2h.9v.9h-.9zM410.3 525.3h.9v.9h-.9zM410.5 527.7h.9v.9h-.9zM411.0 524.7h.9v.9h-.9zM426.8 525.5h.9v.9h-.9zM413.2 514.9h.9v.9h-.9zM420.5 519.3h.9v.9h-.9zM415.2 523.6h.9v.9h-.9zM424.1 520.7h.9v.9h-.9zM415.8 521.5h.9v.9h-.9zM416.5 527.0h.9v.9h-.9zM413.8 522.5h.9v.9h-.9zM412.9 526.2h.9v.9h-.9zM410.5 526.6h.9v.9h-.9zM412.2 521.2h.9v.9h-.9zM419.3 519.0h.9v.9h-.9zM410.8 522.5h.9v.9h-.9zM413.3 524.6h.9v.9h-.9zM413.6 524.0h.9v.9h-.9zM414.3 522.5h.9v.9h-.9zM416.7 516.8h.9v.9h-.9zM425.7 517.7h.9v.9h-.9zM424.9 524.1h.9v.9h-.9zM412.5 525.0h.9v.9h-.9zM416.1 527.9h.9v.9h-.9zM410.2 524.6h.9v.9h-.9zM425.1 514.7h.9v.9h-.9zM427.1 528.4h.9v.9h-.9zM415.1 525.7h.9v.9h-.9zM412.1 527.3h.9v.9h-.9zM410.9 523.7h.9v.9h-.9zM411.3 528.5h.9v.9h-.9zM412.4 523.5h.9v.9h-.9zM410.3 528.3h.9v.9h-.9zM414.5 522.2h.9v.9h-.9zM413.1 522.7h.9v.9h-.9zM414.5 526.4h.9v.9h-.9zM413.7 527.2h.9v.9h-.9zM415.5 519.3h.9v.9h-.9zM411.2 524.7h.9v.9h-.9zM412.8 527.4h.9v.9h-.9zM416.8 524.2h.9v.9h-.9zM410.8 524.6h.9v.9h-.9zM418.9 522.5h.9v.9h-.9zM413.7 521.3h.9v.9h-.9zM410.8 526.5h.9v.9h-.9zM410.8 522.5h.9v.9h-.9zM410.4 526.6h.9v.9h-.9zM412.5 523.6h.9v.9h-.9zM418.2 518.5h.9v.9h-.9zM411.3 528.6h.9v.9h-.9zM417.2 524.9h.9v.9h-.9zM414.1 525.2h.9v.9h-.9zM415.5 518.2h.9v.9h-.9zM413.0 525.9h.9v.9h-.9zM417.0 522.8h.9v.9h-.9zM419.1 528.4h.9v.9h-.9zM418.5 526.2h.9v.9h-.9zM418.6 522.1h.9v.9h-.9zM416.1 517.6h.9v.9h-.9zM415.1 520.1h.9v.9h-.9zM419.2 521.8h.9v.9h-.9zM424.1 524.0h.9v.9h-.9zM418.4 526.6h.9v.9h-.9zM419.2 528.0h.9v.9h-.9zM411.5 528.3h.9v.9h-.9zM415.2 527.7h.9v.9h-.9zM411.4 526.1h.9v.9h-.9zM410.0 517.5h.9v.9h-.9zM413.3 528.1h.9v.9h-.9zM411.6 524.8h.9v.9h-.9zM420.1 527.7h.9v.9h-.9zM418.1 525.2h.9v.9h-.9zM411.0 525.9h.9v.9h-.9zM418.1 521.6h.9v.9h-.9zM413.7 527.7h.9v.9h-.9zM418.8 528.3h.9v.9h-.9zM410.7 525.6h.9v.9h-.9zM413.4 526.8h.9v.9h-.9zM422.5 522.1h.9v.9h-.9zM415.9 522.4h.9v.9h-.9zM410.1 525.0h.9v.9h-.9zM418.1 516.0h.9v.9h-.9zM416.0 524.6h.9v.9h-.9zM414.9 522.4h.9v.9h-.9zM424.2 519.9h.9v.9h-.9zM411.1 523.2h.9v.9h-.9zM410.4 523.2h.9v.9h-.9zM429.4 521.9h.9v.9h-.9zM415.6 516.1h.9v.9h-.9zM415.8 517.9h.9v.9h-.9zM418.5 526.2h.9v.9h-.9zM426.9 524.9h.9v.9h-.9zM410.0 522.3h.9v.9h-.9zM414.8 524.4h.9v.9h-.9zM412.8 528.2h.9v.9h-.9zM418.1 525.7h.9v.9h-.9zM414.1 528.2h.9v.9h-.9zM422.8 526.6h.9v.9h-.9zM419.8 525.3h.9v.9h-.9zM415.7 517.0h.9v.9h-.9zM411.5 527.5h.9v.9h-.9zM413.7 524.9h.9v.9h-.9zM412.6 524.3h.9v.9h-.9zM426.4 525.0h.9v.9h-.9zM414.1 525.5h.9v.9h-.9zM417.9 527.8h.9v.9h-.9zM415.9 527.1h.9v.9h-.9zM413.7 520.5h.9v.9h-.9zM417.3 523.1h.9v.9h-.9zM418.7 526.6h.9v.9h-.9zM411.0 521.9h.9v.9h-.9zM414.2 527.9h.9v.9h-.9zM412.8 526.4h.9v.9h-.9zM412.1 522.7h.9v.9h-.9zM411.3 524.2h.9v.9h-.9zM418.0 524.6h.9v.9h-.9zM415.5 521.6h.9v.9h-.9zM419.8 524.9h.9v.9h-.9zM413.6 519.6h.9v.9h-.9zM419.2 526.8h.9v.9h-.9zM416.4 524.2h.9v.9h-.9zM412.1 524.4h.9v.9h-.9zM411.6 521.5h.9v.9h-.9zM417.4 523.3h.9v.9h-.9zM417.0 528.2h.9v.9h-.9zM413.6 525.2h.9v.9h-.9zM418.2 526.2h.9v.9h-.9zM414.8 511.3h.9v.9h-.9zM413.6 518.7h.9v.9h-.9zM411.5 526.7h.9v.9h-.9zM415.6 523.9h.9v.9h-.9zM416.9 526.3h.9v.9h-.9zM421.4 525.0h.9v.9h-.9zM414.1 525.9h.9v.9h-.9zM421.9 526.1h.9v.9h-.9zM413.8 524.1h.9v.9h-.9zM416.8 521.4h.9v.9h-.9zM420.9 520.8h.9v.9h-.9zM413.9 522.1h.9v.9h-.9zM410.9 518.7h.9v.9h-.9zM410.5 521.8h.9v.9h-.9zM412.6 519.4h.9v.9h-.9zM413.4 527.0h.9v.9h-.9zM410.5 528.2h.9v.9h-.9zM411.0 520.7h.9v.9h-.9zM429.2 528.4h.9v.9h-.9zM417.0 525.9h.9v.9h-.9zM413.2 516.7h.9v.9h-.9zM415.7 524.9h.9v.9h-.9zM417.9 526.6h.9v.9h-.9zM411.1 523.7h.9v.9h-.9zM417.4 523.8h.9v.9h-.9zM414.9 525.1h.9v.9h-.9zM413.4 517.2h.9v.9h-.9zM418.1 528.6h.9v.9h-.9zM412.6 523.9h.9v.9h-.9zM416.0 522.4h.9v.9h-.9zM412.8 527.3h.9v.9h-.9zM415.8 526.0h.9v.9h-.9zM417.9 519.1h.9v.9h-.9zM414.9 527.6h.9v.9h-.9zM424.8 522.7h.9v.9h-.9zM412.3 528.5h.9v.9h-.9zM418.1 525.8h.9v.9h-.9zM421.3 523.6h.9v.9h-.9zM436.0 523.5h.9v.9h-.9zM419.0 527.8h.9v.9h-.9zM412.9 523.1h.9v.9h-.9zM416.3 522.3h.9v.9h-.9zM420.8 516.9h.9v.9h-.9zM414.1 522.0h.9v.9h-.9zM415.9 525.2h.9v.9h-.9zM417.8 524.1h.9v.9h-.9zM423.8 523.1h.9v.9h-.9zM418.4 527.1h.9v.9h-.9zM419.8 525.5h.9v.9h-.9zM416.9 528.5h.9v.9h-.9zM423.6 526.5h.9v.9h-.9zM413.1 524.0h.9v.9h-.9zM423.9 527.1h.9v.9h-.9zM413.6 528.4h.9v.9h-.9zM419.0 523.0h.9v.9h-.9zM419.8 512.1h.9v.9h-.9zM416.0 524.5h.9v.9h-.9zM413.4 524.5h.9v.9h-.9zM418.9 528.1h.9v.9h-.9zM411.8 525.1h.9v.9h-.9zM417.0 522.7h.9v.9h-.9zM424.4 513.4h.9v.9h-.9zM411.4 527.3h.9v.9h-.9zM421.2 523.0h.9v.9h-.9zM414.0 520.0h.9v.9h-.9zM416.4 528.5h.9v.9h-.9zM415.5 521.9h.9v.9h-.9zM412.4 525.1h.9v.9h-.9zM419.5 528.5h.9v.9h-.9zM411.1 520.0h.9v.9h-.9zM435.1 524.6h.9v.9h-.9zM416.9 525.8h.9v.9h-.9zM413.2 526.2h.9v.9h-.9zM410.2 525.8h.9v.9h-.9zM413.7 526.4h.9v.9h-.9zM423.8 527.0h.9v.9h-.9zM420.3 521.5h.9v.9h-.9zM411.1 528.2h.9v.9h-.9zM410.9 523.3h.9v.9h-.9zM411.5 523.1h.9v.9h-.9zM412.9 524.5h.9v.9h-.9zM423.2 521.0h.9v.9h-.9zM416.0 525.9h.9v.9h-.9zM417.0 526.8h.9v.9h-.9zM424.9 524.3h.9v.9h-.9zM426.5 521.1h.9v.9h-.9zM419.7 525.5h.9v.9h-.9zM410.0 526.8h.9v.9h-.9zM423.4 523.6h.9v.9h-.9zM416.4 516.8h.9v.9h-.9zM412.6 523.9h.9v.9h-.9zM425.2 519.5h.9v.9h-.9zM428.3 528.2h.9v.9h-.9zM410.3 522.6h.9v.9h-.9zM411.0 524.4h.9v.9h-.9zM415.6 517.2h.9v.9h-.9zM423.2 527.6h.9v.9h-.9zM410.2 524.9h.9v.9h-.9zM413.0 525.6h.9v.9h-.9zM416.1 527.7h.9v.9h-.9zM413.4 527.5h.9v.9h-.9zM417.2 527.4h.9v.9h-.9zM412.3 527.3h.9v.9h-.9zM420.0 520.8h.9v.9h-.9zM413.3 525.0h.9v.9h-.9zM412.2 524.0h.9v.9h-.9zM410.2 527.0h.9v.9h-.9zM413.5 523.9h.9v.9h-.9zM416.5 520.8h.9v.9h-.9zM415.0 526.0h.9v.9h-.9zM412.0 525.9h.9v.9h-.9zM423.4 524.6h.9v.9h-.9zM411.5 525.3h.9v.9h-.9zM417.2 520.9h.9v.9h-.9zM423.5 518.0h.9v.9h-.9zM414.8 514.4h.9v.9h-.9zM415.4 528.5h.9v.9h-.9zM413.8 527.7h.9v.9h-.9zM411.6 524.1h.9v.9h-.9zM418.1 523.9h.9v.9h-.9zM413.8 525.3h.9v.9h-.9zM414.0 526.0h.9v.9h-.9zM412.7 526.4h.9v.9h-.9zM419.3 528.0h.9v.9h-.9zM411.6 518.4h.9v.9h-.9zM418.2 522.8h.9v.9h-.9zM415.9 526.5h.9v.9h-.9zM412.5 527.0h.9v.9h-.9zM416.5 518.1h.9v.9h-.9zM414.8 520.6h.9v.9h-.9zM417.5 523.7h.9v.9h-.9zM415.7 523.2h.9v.9h-.9zM410.8 526.5h.9v.9h-.9zM412.0 524.6h.9v.9h-.9zM418.4 521.8h.9v.9h-.9zM411.5 522.6h.9v.9h-.9zM420.9 523.0h.9v.9h-.9zM421.0 520.6h.9v.9h-.9zM414.1 525.0h.9v.9h-.9zM421.1 526.9h.9v.9h-.9zM413.6 523.8h.9v.9h-.9zM419.4 524.0h.9v.9h-.9zM411.8 524.3h.9v.9h-.9zM414.0 524.0h.9v.9h-.9zM413.3 525.8h.9v.9h-.9zM422.4 519.8h.9v.9h-.9zM411.2 519.2h.9v.9h-.9zM412.1 528.2h.9v.9h-.9zM412.6 525.2h.9v.9h-.9zM412.4 523.0h.9v.9h-.9zM416.3 527.3h.9v.9h-.9zM413.0 525.7h.9v.9h-.9zM415.2 522.0h.9v.9h-.9zM411.2 524.1h.9v.9h-.9zM420.5 525.0h.9v.9h-.9zM410.2 528.4h.9v.9h-.9zM416.6 519.6h.9v.9h-.9zM410.5 526.9h.9v.9h-.9zM416.2 522.1h.9v.9h-.9zM415.4 527.3h.9v.9h-.9zM420.2 521.8h.9v.9h-.9zM414.1 515.7h.9v.9h-.9zM410.0 526.1h.9v.9h-.9zM412.6 523.0h.9v.9h-.9zM410.2 517.3h.9v.9h-.9zM410.6 526.0h.9v.9h-.9zM417.4 526.5h.9v.9h-.9zM420.4 524.7h.9v.9h-.9zM411.0 517.3h.9v.9h-.9zM415.7 523.9h.9v.9h-.9zM420.9 525.5h.9v.9h-.9zM418.1 525.5h.9v.9h-.9zM413.5 527.2h.9v.9h-.9zM410.2 526.8h.9v.9h-.9zM414.0 518.2h.9v.9h-.9zM410.7 521.1h.9v.9h-.9zM420.5 527.0h.9v.9h-.9zM415.5 527.4h.9v.9h-.9zM416.6 526.5h.9v.9h-.9zM414.3 526.5h.9v.9h-.9zM411.5 525.6h.9v.9h-.9zM413.0 520.0h.9v.9h-.9zM410.4 524.1h.9v.9h-.9zM418.1 528.0h.9v.9h-.9zM416.4 526.4h.9v.9h-.9zM414.8 516.7h.9v.9h-.9zM416.1 522.6h.9v.9h-.9zM416.9 519.1h.9v.9h-.9zM422.1 525.6h.9v.9h-.9zM415.4 520.8h.9v.9h-.9zM416.8 524.7h.9v.9h-.9zM411.4 517.3h.9v.9h-.9zM414.7 525.3h.9v.9h-.9zM413.3 525.5h.9v.9h-.9zM415.7 526.8h.9v.9h-.9zM413.8 519.8h.9v.9h-.9zM413.5 527.7h.9v.9h-.9zM413.8 522.6h.9v.9h-.9zM413.0 525.8h.9v.9h-.9zM411.0 528.2h.9v.9h-.9zM422.5 528.1h.9v.9h-.9zM420.3 523.8h.9v.9h-.9zM419.6 527.6h.9v.9h-.9zM416.7 524.2h.9v.9h-.9zM414.5 527.0h.9v.9h-.9zM410.9 528.4h.9v.9h-.9zM419.4 524.4h.9v.9h-.9zM422.2 518.5h.9v.9h-.9zM413.3 524.9h.9v.9h-.9zM410.1 525.3h.9v.9h-.9zM422.7 526.8h.9v.9h-.9zM413.4 524.3h.9v.9h-.9zM414.2 520.7h.9v.9h-.9zM419.7 517.3h.9v.9h-.9zM416.4 519.4h.9v.9h-.9zM416.0 520.0h.9v.9h-.9zM412.2 525.2h.9v.9h-.9zM413.0 523.9h.9v.9h-.9zM416.4 523.0h.9v.9h-.9zM419.6 520.3h.9v.9h-.9zM410.1 526.9h.9v.9h-.9zM419.6 525.2h.9v.9h-.9zM415.0 520.1h.9v.9h-.9zM424.9 520.5h.9v.9h-.9zM418.8 528.4h.9v.9h-.9zM413.5 524.4h.9v.9h-.9zM412.7 527.4h.9v.9h-.9zM411.7 525.3h.9v.9h-.9zM428.6 523.1h.9v.9h-.9zM411.8 527.7h.9v.9h-.9zM414.5 527.2h.9v.9h-.9zM410.1 528.2h.9v.9h-.9zM418.0 518.7h.9v.9h-.9zM411.8 522.5h.9v.9h-.9zM412.3 520.0h.9v.9h-.9zM417.8 528.0h.9v.9h-.9zM414.3 523.1h.9v.9h-.9zM417.1 518.9h.9v.9h-.9zM413.7 526.6h.9v.9h-.9zM412.3 522.4h.9v.9h-.9zM416.4 526.4h.9v.9h-.9zM411.1 526.2h.9v.9h-.9zM413.7 522.6h.9v.9h-.9zM426.1 526.2h.9v.9h-.9zM423.5 516.4h.9v.9h-.9zM420.1 526.6h.9v.9h-.9zM411.0 526.6h.9v.9h-.9zM414.6 521.2h.9v.9h-.9zM412.8 521.1h.9v.9h-.9zM418.2 526.6h.9v.9h-.9zM413.8 524.6h.9v.9h-.9zM418.6 518.2h.9v.9h-.9zM414.8 527.9h.9v.9h-.9zM413.5 522.7h.9v.9h-.9zM419.5 524.1h.9v.9h-.9zM416.9 522.9h.9v.9h-.9zM418.0 524.9h.9v.9h-.9zM416.9 526.2h.9v.9h-.9zM413.6 526.1h.9v.9h-.9zM417.3 523.8h.9v.9h-.9zM421.4 520.9h.9v.9h-.9zM410.1 525.9h.9v.9h-.9zM415.6 527.7h.9v.9h-.9zM419.5 528.1h.9v.9h-.9zM411.4 520.9h.9v.9h-.9zM416.8 523.9h.9v.9h-.9zM412.6 527.3h.9v.9h-.9zM412.5 527.3h.9v.9h-.9zM423.9 524.2h.9v.9h-.9zM421.3 525.6h.9v.9h-.9zM410.2 525.6h.9v.9h-.9zM422.0 528.0h.9v.9h-.9zM421.3 521.8h.9v.9h-.9zM413.6 526.3h.9v.9h-.9zM419.3 526.7h.9v.9h-.9zM410.6 525.4h.9v.9h-.9zM410.4 526.6h.9v.9h-.9zM410.6 522.8h.9v.9h-.9zM420.0 527.8h.9v.9h-.9zM411.5 523.7h.9v.9h-.9zM412.1 522.5h.9v.9h-.9zM418.0 523.2h.9v.9h-.9zM416.7 523.0h.9v.9h-.9zM423.2 522.6h.9v.9h-.9zM416.1 520.0h.9v.9h-.9zM416.9 520.0h.9v.9h-.9zM415.9 518.4h.9v.9h-.9zM415.2 524.6h.9v.9h-.9zM411.5 514.1h.9v.9h-.9zM410.4 526.8h.9v.9h-.9zM412.7 526.9h.9v.9h-.9zM422.9 525.3h.9v.9h-.9zM423.0 519.7h.9v.9h-.9zM412.6 524.5h.9v.9h-.9zM412.9 522.5h.9v.9h-.9zM415.2 521.9h.9v.9h-.9zM411.2 527.8h.9v.9h-.9zM420.4 521.7h.9v.9h-.9zM413.8 521.6h.9v.9h-.9zM412.8 519.7h.9v.9h-.9zM413.1 526.3h.9v.9h-.9zM416.6 523.3h.9v.9h-.9zM415.1 518.5h.9v.9h-.9zM411.2 528.3h.9v.9h-.9zM412.4 525.7h.9v.9h-.9zM425.2 528.5h.9v.9h-.9zM410.6 527.1h.9v.9h-.9zM415.7 518.5h.9v.9h-.9zM413.2 523.2h.9v.9h-.9zM414.4 528.1h.9v.9h-.9zM414.2 523.6h.9v.9h-.9zM417.2 522.7h.9v.9h-.9zM416.0 526.1h.9v.9h-.9zM413.3 516.2h.9v.9h-.9zM411.9 527.6h.9v.9h-.9zM413.4 523.6h.9v.9h-.9zM419.6 527.0h.9v.9h-.9zM415.3 525.0h.9v.9h-.9zM419.9 528.3h.9v.9h-.9zM410.8 527.5h.9v.9h-.9zM431.3 524.2h.9v.9h-.9zM414.0 527.7h.9v.9h-.9zM412.9 524.4h.9v.9h-.9zM411.3 521.6h.9v.9h-.9zM410.7 520.8h.9v.9h-.9zM428.5 526.0h.9v.9h-.9zM412.0 528.5h.9v.9h-.9zM422.0 524.8h.9v.9h-.9zM419.0 521.2h.9v.9h-.9zM417.1 522.3h.9v.9h-.9zM414.0 524.9h.9v.9h-.9zM414.3 516.9h.9v.9h-.9zM420.5 525.2h.9v.9h-.9zM414.2 519.0h.9v.9h-.9zM410.6 521.5h.9v.9h-.9zM414.6 524.4h.9v.9h-.9zM417.3 526.7h.9v.9h-.9zM416.3 526.6h.9v.9h-.9zM419.9 512.5h.9v.9h-.9zM417.1 527.9h.9v.9h-.9zM410.2 524.2h.9v.9h-.9zM412.4 526.0h.9v.9h-.9zM425.2 528.0h.9v.9h-.9zM417.8 526.7h.9v.9h-.9zM415.8 526.5h.9v.9h-.9zM411.4 526.7h.9v.9h-.9zM412.0 523.7h.9v.9h-.9zM411.4 521.1h.9v.9h-.9zM416.3 526.5h.9v.9h-.9zM418.7 524.8h.9v.9h-.9zM414.1 526.8h.9v.9h-.9zM429.4 520.0h.9v.9h-.9zM418.1 520.5h.9v.9h-.9zM423.6 523.3h.9v.9h-.9zM417.9 525.7h.9v.9h-.9zM414.9 525.7h.9v.9h-.9zM410.1 527.3h.9v.9h-.9zM413.0 524.5h.9v.9h-.9zM411.5 524.6h.9v.9h-.9zM414.0 526.2h.9v.9h-.9zM422.0 521.4h.9v.9h-.9zM413.0 525.4h.9v.9h-.9zM411.9 513.3h.9v.9h-.9zM412.5 527.2h.9v.9h-.9zM415.6 517.2h.9v.9h-.9zM412.2 525.9h.9v.9h-.9zM413.5 521.7h.9v.9h-.9zM417.6 522.6h.9v.9h-.9zM414.6 526.7h.9v.9h-.9zM415.8 519.8h.9v.9h-.9zM414.5 523.7h.9v.9h-.9zM412.9 523.7h.9v.9h-.9zM417.3 526.4h.9v.9h-.9zM420.1 526.2h.9v.9h-.9zM414.4 522.6h.9v.9h-.9zM414.7 525.9h.9v.9h-.9zM411.2 528.4h.9v.9h-.9zM418.6 525.1h.9v.9h-.9zM412.5 528.4h.9v.9h-.9zM419.1 522.3h.9v.9h-.9zM411.6 526.3h.9v.9h-.9zM412.3 525.8h.9v.9h-.9zM410.4 526.0h.9v.9h-.9zM413.1 522.8h.9v.9h-.9zM419.7 526.7h.9v.9h-.9zM420.3 525.6h.9v.9h-.9zM415.4 525.4h.9v.9h-.9zM410.3 524.0h.9v.9h-.9zM413.1 518.7h.9v.9h-.9zM411.0 523.5h.9v.9h-.9zM412.9 512.2h.9v.9h-.9zM415.8 527.2h.9v.9h-.9zM427.6 526.5h.9v.9h-.9zM410.7 528.0h.9v.9h-.9zM420.8 527.3h.9v.9h-.9zM411.1 523.0h.9v.9h-.9zM415.4 528.3h.9v.9h-.9zM410.1 526.0h.9v.9h-.9zM414.0 528.0h.9v.9h-.9zM418.2 526.0h.9v.9h-.9zM414.5 527.3h.9v.9h-.9zM416.6 526.5h.9v.9h-.9zM412.8 525.6h.9v.9h-.9zM411.3 515.1h.9v.9h-.9zM411.0 527.4h.9v.9h-.9zM411.0 524.2h.9v.9h-.9zM418.8 527.8h.9v.9h-.9zM414.5 524.4h.9v.9h-.9zM412.6 522.3h.9v.9h-.9zM417.3 517.0h.9v.9h-.9zM419.5 522.5h.9v.9h-.9zM419.9 525.1h.9v.9h-.9zM422.2 521.7h.9v.9h-.9zM419.0 525.8h.9v.9h-.9zM424.2 521.4h.9v.9h-.9zM419.9 525.7h.9v.9h-.9zM410.9 524.1h.9v.9h-.9zM410.6 522.2h.9v.9h-.9zM410.6 524.6h.9v.9h-.9zM410.6 520.0h.9v.9h-.9zM417.2 510.2h.9v.9h-.9zM412.0 521.0h.9v.9h-.9zM418.3 518.6h.9v.9h-.9zM414.0 525.1h.9v.9h-.9zM410.1 517.4h.9v.9h-.9zM411.4 523.3h.9v.9h-.9zM425.7 527.5h.9v.9h-.9zM416.0 520.9h.9v.9h-.9zM416.7 524.8h.9v.9h-.9zM423.6 522.7h.9v.9h-.9zM413.9 516.6h.9v.9h-.9zM418.3 520.6h.9v.9h-.9zM413.1 525.7h.9v.9h-.9zM426.0 513.9h.9v.9h-.9zM410.5 527.3h.9v.9h-.9zM425.5 518.1h.9v.9h-.9zM426.5 527.8h.9v.9h-.9zM417.1 520.6h.9v.9h-.9zM413.7 526.5h.9v.9h-.9zM411.3 526.2h.9v.9h-.9zM419.0 517.2h.9v.9h-.9zM413.3 516.5h.9v.9h-.9zM411.9 528.4h.9v.9h-.9zM411.3 518.0h.9v.9h-.9zM410.8 527.1h.9v.9h-.9zM415.4 528.5h.9v.9h-.9zM413.2 527.4h.9v.9h-.9zM432.8 526.3h.9v.9h-.9zM416.2 517.3h.9v.9h-.9zM416.3 523.8h.9v.9h-.9zM415.2 523.8h.9v.9h-.9zM414.9 520.4h.9v.9h-.9zM417.3 520.7h.9v.9h-.9zM413.7 528.6h.9v.9h-.9zM415.3 523.0h.9v.9h-.9zM416.1 525.9h.9v.9h-.9zM414.3 513.3h.9v.9h-.9zM419.0 522.1h.9v.9h-.9zM410.7 524.9h.9v.9h-.9zM410.3 526.3h.9v.9h-.9zM418.6 526.7h.9v.9h-.9zM418.0 524.4h.9v.9h-.9zM410.7 527.9h.9v.9h-.9zM414.1 520.5h.9v.9h-.9zM419.1 526.5h.9v.9h-.9zM417.8 512.7h.9v.9h-.9zM418.4 521.8h.9v.9h-.9zM415.3 525.5h.9v.9h-.9zM427.6 520.8h.9v.9h-.9zM415.6 524.7h.9v.9h-.9zM413.5 526.8h.9v.9h-.9zM410.8 528.6h.9v.9h-.9zM423.3 520.0h.9v.9h-.9zM410.3 520.4h.9v.9h-.9zM414.0 525.5h.9v.9h-.9zM411.2 525.8h.9v.9h-.9zM417.2 519.8h.9v.9h-.9zM412.0 527.6h.9v.9h-.9zM412.3 523.6h.9v.9h-.9zM415.7 522.6h.9v.9h-.9zM418.0 513.9h.9v.9h-.9zM422.4 528.5h.9v.9h-.9zM415.4 522.9h.9v.9h-.9zM430.3 517.9h.9v.9h-.9zM411.0 520.2h.9v.9h-.9zM410.3 522.7h.9v.9h-.9zM411.8 522.8h.9v.9h-.9zM420.2 527.2h.9v.9h-.9zM412.9 523.9h.9v.9h-.9zM416.5 523.2h.9v.9h-.9zM411.7 520.5h.9v.9h-.9zM411.5 515.5h.9v.9h-.9zM421.8 527.0h.9v.9h-.9zM418.5 527.7h.9v.9h-.9zM410.7 525.3h.9v.9h-.9zM418.3 525.4h.9v.9h-.9zM419.1 527.5h.9v.9h-.9zM412.1 524.5h.9v.9h-.9zM416.5 518.8h.9v.9h-.9zM420.4 526.5h.9v.9h-.9zM417.4 517.4h.9v.9h-.9zM411.5 527.3h.9v.9h-.9zM420.4 520.9h.9v.9h-.9zM411.6 525.8h.9v.9h-.9zM413.2 524.8h.9v.9h-.9zM415.6 525.2h.9v.9h-.9zM413.0 521.7h.9v.9h-.9zM413.1 527.8h.9v.9h-.9zM430.2 516.1h.9v.9h-.9zM412.8 522.4h.9v.9h-.9zM423.3 527.1h.9v.9h-.9zM410.2 525.2h.9v.9h-.9zM413.0 523.4h.9v.9h-.9zM415.5 528.0h.9v.9h-.9zM414.7 524.6h.9v.9h-.9zM411.0 527.8h.9v.9h-.9zM413.0 521.2h.9v.9h-.9zM414.4 527.3h.9v.9h-.9zM411.2 523.9h.9v.9h-.9zM412.5 524.6h.9v.9h-.9zM411.7 526.3h.9v.9h-.9zM419.7 519.6h.9v.9h-.9zM412.4 522.6h.9v.9h-.9zM412.7 520.6h.9v.9h-.9zM411.6 527.3h.9v.9h-.9zM416.7 526.6h.9v.9h-.9zM411.5 523.7h.9v.9h-.9zM419.1 523.9h.9v.9h-.9zM412.6 523.4h.9v.9h-.9zM417.4 523.4h.9v.9h-.9zM414.4 526.8h.9v.9h-.9zM421.6 526.9h.9v.9h-.9zM417.7 522.2h.9v.9h-.9zM411.4 526.6h.9v.9h-.9zM410.3 522.7h.9v.9h-.9zM418.7 527.5h.9v.9h-.9zM420.3 522.7h.9v.9h-.9zM419.9 527.3h.9v.9h-.9zM418.1 527.0h.9v.9h-.9zM414.1 523.3h.9v.9h-.9zM425.6 526.5h.9v.9h-.9zM418.1 526.0h.9v.9h-.9zM424.0 527.8h.9v.9h-.9zM415.9 520.0h.9v.9h-.9zM411.8 527.6h.9v.9h-.9zM414.1 521.7h.9v.9h-.9zM411.5 518.4h.9v.9h-.9zM413.9 525.7h.9v.9h-.9zM422.2 523.4h.9v.9h-.9zM412.6 527.1h.9v.9h-.9zM410.2 520.9h.9v.9h-.9zM420.7 525.5h.9v.9h-.9zM412.1 521.9h.9v.9h-.9zM420.8 525.5h.9v.9h-.9zM418.6 524.7h.9v.9h-.9zM423.8 528.5h.9v.9h-.9zM412.9 526.2h.9v.9h-.9zM414.6 522.3h.9v.9h-.9zM432.4 527.9h.9v.9h-.9zM410.9 524.0h.9v.9h-.9zM412.2 524.4h.9v.9h-.9zM416.0 522.7h.9v.9h-.9zM417.8 528.2h.9v.9h-.9zM416.1 527.0h.9v.9h-.9zM419.0 520.6h.9v.9h-.9zM413.6 525.0h.9v.9h-.9zM410.7 526.7h.9v.9h-.9zM417.1 527.3h.9v.9h-.9zM418.5 527.1h.9v.9h-.9zM416.2 525.7h.9v.9h-.9zM411.6 524.8h.9v.9h-.9zM418.4 524.9h.9v.9h-.9zM416.2 527.0h.9v.9h-.9zM417.5 527.3h.9v.9h-.9zM416.1 526.5h.9v.9h-.9zM412.0 518.0h.9v.9h-.9zM413.0 519.5h.9v.9h-.9zM413.3 521.0h.9v.9h-.9zM426.8 524.7h.9v.9h-.9zM424.5 524.4h.9v.9h-.9zM417.5 526.3h.9v.9h-.9zM411.5 527.1h.9v.9h-.9zM411.9 526.8h.9v.9h-.9zM413.9 526.4h.9v.9h-.9zM418.5 525.0h.9v.9h-.9zM412.8 521.9h.9v.9h-.9zM415.2 520.6h.9v.9h-.9zM411.4 524.6h.9v.9h-.9zM412.2 525.7h.9v.9h-.9zM414.4 526.6h.9v.9h-.9zM412.7 527.0h.9v.9h-.9zM413.9 514.2h.9v.9h-.9zM419.5 524.1h.9v.9h-.9zM410.8 515.6h.9v.9h-.9zM411.7 525.4h.9v.9h-.9zM420.8 525.4h.9v.9h-.9zM423.8 525.6h.9v.9h-.9zM411.5 524.4h.9v.9h-.9zM415.7 526.0h.9v.9h-.9zM414.0 527.3h.9v.9h-.9zM415.7 525.8h.9v.9h-.9zM412.3 525.7h.9v.9h-.9zM416.4 512.6h.9v.9h-.9zM411.5 527.6h.9v.9h-.9zM417.8 522.7h.9v.9h-.9zM411.6 521.2h.9v.9h-.9zM417.0 524.9h.9v.9h-.9zM411.1 522.3h.9v.9h-.9zM411.6 525.9h.9v.9h-.9zM411.8 525.9h.9v.9h-.9zM432.2 519.3h.9v.9h-.9zM418.5 525.9h.9v.9h-.9zM411.8 523.2h.9v.9h-.9zM410.0 521.6h.9v.9h-.9zM413.0 527.5h.9v.9h-.9zM424.9 527.5h.9v.9h-.9zM417.6 524.3h.9v.9h-.9zM413.5 526.9h.9v.9h-.9zM412.1 516.0h.9v.9h-.9zM413.0 525.0h.9v.9h-.9zM411.7 527.9h.9v.9h-.9zM426.0 519.5h.9v.9h-.9zM420.1 516.6h.9v.9h-.9zM411.3 527.0h.9v.9h-.9zM414.1 522.9h.9v.9h-.9zM410.2 518.7h.9v.9h-.9zM415.7 519.1h.9v.9h-.9zM410.8 526.4h.9v.9h-.9zM413.1 527.6h.9v.9h-.9zM422.5 525.2h.9v.9h-.9zM416.9 524.8h.9v.9h-.9zM418.8 527.1h.9v.9h-.9zM418.9 523.6h.9v.9h-.9zM416.7 522.8h.9v.9h-.9zM414.4 524.0h.9v.9h-.9zM412.3 525.5h.9v.9h-.9zM418.6 516.1h.9v.9h-.9zM417.1 518.6h.9v.9h-.9zM416.0 523.7h.9v.9h-.9zM412.0 526.5h.9v.9h-.9zM412.7 526.5h.9v.9h-.9zM419.3 528.4h.9v.9h-.9zM416.2 524.1h.9v.9h-.9zM414.8 522.2h.9v.9h-.9zM417.2 528.4h.9v.9h-.9zM412.5 522.8h.9v.9h-.9zM411.1 525.6h.9v.9h-.9zM411.0 516.5h.9v.9h-.9zM425.8 528.5h.9v.9h-.9zM427.9 527.2h.9v.9h-.9zM423.2 527.8h.9v.9h-.9zM420.4 524.7h.9v.9h-.9zM411.6 518.7h.9v.9h-.9zM413.3 524.7h.9v.9h-.9zM417.4 527.4h.9v.9h-.9zM416.2 528.0h.9v.9h-.9zM412.4 527.0h.9v.9h-.9zM414.8 526.5h.9v.9h-.9zM420.8 522.7h.9v.9h-.9zM410.7 526.5h.9v.9h-.9zM410.3 520.5h.9v.9h-.9zM412.2 528.4h.9v.9h-.9zM418.5 522.4h.9v.9h-.9zM412.7 523.6h.9v.9h-.9zM413.1 522.4h.9v.9h-.9zM411.0 528.2h.9v.9h-.9zM417.2 526.3h.9v.9h-.9zM412.7 527.2h.9v.9h-.9zM410.4 518.8h.9v.9h-.9zM411.9 525.5h.9v.9h-.9zM412.3 525.9h.9v.9h-.9zM411.7 524.6h.9v.9h-.9zM420.0 514.3h.9v.9h-.9zM423.3 528.4h.9v.9h-.9zM418.7 527.7h.9v.9h-.9zM413.0 515.7h.9v.9h-.9zM410.1 520.1h.9v.9h-.9zM413.3 520.6h.9v.9h-.9zM417.5 519.9h.9v.9h-.9zM420.0 523.4h.9v.9h-.9zM412.6 525.7h.9v.9h-.9zM421.0 526.7h.9v.9h-.9zM410.1 525.4h.9v.9h-.9zM418.3 516.2h.9v.9h-.9zM420.2 523.0h.9v.9h-.9zM416.7 519.2h.9v.9h-.9zM416.8 525.1h.9v.9h-.9zM416.0 519.2h.9v.9h-.9zM414.4 524.9h.9v.9h-.9zM419.0 526.8h.9v.9h-.9zM413.5 527.6h.9v.9h-.9zM422.9 526.5h.9v.9h-.9zM410.2 517.1h.9v.9h-.9zM410.6 524.6h.9v.9h-.9zM415.3 527.4h.9v.9h-.9zM426.4 528.0h.9v.9h-.9zM414.7 519.9h.9v.9h-.9zM420.2 522.0h.9v.9h-.9zM413.1 519.8h.9v.9h-.9zM423.1 524.6h.9v.9h-.9zM412.7 527.2h.9v.9h-.9zM418.2 519.3h.9v.9h-.9zM415.4 521.8h.9v.9h-.9zM416.9 519.5h.9v.9h-.9zM418.7 528.4h.9v.9h-.9zM413.6 528.3h.9v.9h-.9zM413.0 522.8h.9v.9h-.9zM416.6 524.5h.9v.9h-.9zM412.7 525.0h.9v.9h-.9zM418.8 519.4h.9v.9h-.9zM414.6 525.2h.9v.9h-.9zM415.1 526.1h.9v.9h-.9zM412.4 522.4h.9v.9h-.9zM417.2 519.4h.9v.9h-.9zM418.3 522.3h.9v.9h-.9zM423.5 525.7h.9v.9h-.9zM412.4 524.2h.9v.9h-.9zM416.9 527.1h.9v.9h-.9zM412.5 516.2h.9v.9h-.9zM422.2 520.5h.9v.9h-.9zM417.0 524.2h.9v.9h-.9zM418.6 526.6h.9v.9h-.9zM414.8 528.3h.9v.9h-.9zM412.2 525.5h.9v.9h-.9zM410.2 528.6h.9v.9h-.9zM418.2 515.7h.9v.9h-.9zM423.1 525.5h.9v.9h-.9zM410.0 523.0h.9v.9h-.9zM417.7 524.1h.9v.9h-.9zM415.8 523.1h.9v.9h-.9zM422.3 519.0h.9v.9h-.9zM418.7 523.1h.9v.9h-.9zM419.3 524.7h.9v.9h-.9zM427.7 523.4h.9v.9h-.9zM417.1 521.9h.9v.9h-.9zM414.9 524.3h.9v.9h-.9zM421.2 527.3h.9v.9h-.9zM417.4 524.7h.9v.9h-.9zM423.4 516.2h.9v.9h-.9zM423.3 524.6h.9v.9h-.9zM413.9 521.6h.9v.9h-.9zM421.8 525.4h.9v.9h-.9zM419.4 522.5h.9v.9h-.9zM410.0 527.0h.9v.9h-.9zM411.9 525.7h.9v.9h-.9zM425.1 524.9h.9v.9h-.9zM416.1 522.3h.9v.9h-.9zM412.1 527.7h.9v.9h-.9zM419.7 522.4h.9v.9h-.9zM413.8 524.8h.9v.9h-.9zM410.5 523.6h.9v.9h-.9zM417.5 526.9h.9v.9h-.9zM420.7 527.4h.9v.9h-.9zM413.8 520.1h.9v.9h-.9zM424.1 518.1h.9v.9h-.9zM412.9 519.7h.9v.9h-.9zM410.8 525.1h.9v.9h-.9zM422.5 523.5h.9v.9h-.9zM411.9 523.3h.9v.9h-.9zM415.8 523.0h.9v.9h-.9zM413.2 526.1h.9v.9h-.9zM410.3 524.9h.9v.9h-.9zM410.9 526.8h.9v.9h-.9zM412.2 523.0h.9v.9h-.9zM428.8 525.4h.9v.9h-.9zM412.5 523.8h.9v.9h-.9zM414.7 527.2h.9v.9h-.9zM413.5 522.8h.9v.9h-.9zM414.5 525.7h.9v.9h-.9zM415.8 524.9h.9v.9h-.9zM415.8 527.5h.9v.9h-.9zM414.7 516.0h.9v.9h-.9zM423.6 525.1h.9v.9h-.9zM418.5 520.7h.9v.9h-.9zM411.7 525.4h.9v.9h-.9zM410.4 521.8h.9v.9h-.9zM420.4 525.4h.9v.9h-.9zM410.1 523.8h.9v.9h-.9zM420.9 518.4h.9v.9h-.9zM416.1 527.7h.9v.9h-.9zM414.0 525.2h.9v.9h-.9zM410.3 526.9h.9v.9h-.9zM414.5 521.7h.9v.9h-.9zM420.8 517.3h.9v.9h-.9zM410.5 524.1h.9v.9h-.9zM418.6 525.4h.9v.9h-.9zM410.3 519.6h.9v.9h-.9zM421.6 522.9h.9v.9h-.9zM414.9 525.3h.9v.9h-.9zM422.0 516.2h.9v.9h-.9zM417.7 521.7h.9v.9h-.9zM411.2 522.7h.9v.9h-.9zM421.5 525.0h.9v.9h-.9zM414.1 523.6h.9v.9h-.9zM412.4 523.4h.9v.9h-.9zM416.0 517.4h.9v.9h-.9zM418.9 527.2h.9v.9h-.9zM417.8 517.3h.9v.9h-.9zM414.6 524.5h.9v.9h-.9zM417.1 526.1h.9v.9h-.9zM424.7 528.4h.9v.9h-.9zM414.9 521.7h.9v.9h-.9zM418.1 524.1h.9v.9h-.9zM412.2 517.1h.9v.9h-.9zM413.4 517.5h.9v.9h-.9zM416.5 521.3h.9v.9h-.9zM410.2 521.5h.9v.9h-.9zM422.9 520.9h.9v.9h-.9zM410.6 517.5h.9v.9h-.9zM419.1 518.7h.9v.9h-.9zM417.9 521.7h.9v.9h-.9zM413.0 520.7h.9v.9h-.9zM410.4 526.4h.9v.9h-.9zM421.1 521.8h.9v.9h-.9zM410.7 524.5h.9v.9h-.9zM410.5 526.0h.9v.9h-.9zM419.1 514.0h.9v.9h-.9zM412.3 523.2h.9v.9h-.9zM410.9 526.4h.9v.9h-.9zM413.5 524.1h.9v.9h-.9zM420.6 528.4h.9v.9h-.9zM413.9 524.9h.9v.9h-.9zM417.6 526.2h.9v.9h-.9zM422.8 524.9h.9v.9h-.9zM423.6 525.8h.9v.9h-.9zM414.1 525.9h.9v.9h-.9zM414.7 524.6h.9v.9h-.9zM414.7 521.8h.9v.9h-.9zM412.7 518.2h.9v.9h-.9zM413.7 517.5h.9v.9h-.9zM413.4 521.7h.9v.9h-.9zM422.8 526.6h.9v.9h-.9zM418.7 527.3h.9v.9h-.9zM412.4 527.6h.9v.9h-.9zM418.2 521.6h.9v.9h-.9zM416.5 525.5h.9v.9h-.9zM420.0 528.0h.9v.9h-.9zM412.2 516.7h.9v.9h-.9zM423.5 528.3h.9v.9h-.9zM416.5 527.3h.9v.9h-.9zM412.9 528.4h.9v.9h-.9zM414.0 528.2h.9v.9h-.9zM420.9 526.0h.9v.9h-.9zM412.1 522.2h.9v.9h-.9zM412.7 525.3h.9v.9h-.9zM415.0 525.8h.9v.9h-.9zM414.2 519.4h.9v.9h-.9zM418.0 527.9h.9v.9h-.9zM413.8 519.7h.9v.9h-.9zM411.9 524.1h.9v.9h-.9zM420.8 525.2h.9v.9h-.9zM422.3 526.9h.9v.9h-.9zM426.0 524.3h.9v.9h-.9zM412.1 519.2h.9v.9h-.9zM414.7 527.0h.9v.9h-.9zM424.9 527.6h.9v.9h-.9zM411.9 520.3h.9v.9h-.9zM410.6 523.0h.9v.9h-.9zM415.5 521.3h.9v.9h-.9zM416.4 528.3h.9v.9h-.9zM414.5 527.6h.9v.9h-.9zM419.9 518.5h.9v.9h-.9zM412.8 522.4h.9v.9h-.9zM412.9 526.9h.9v.9h-.9zM417.4 520.0h.9v.9h-.9zM432.5 525.3h.9v.9h-.9zM421.3 523.0h.9v.9h-.9zM423.8 526.9h.9v.9h-.9zM412.5 526.5h.9v.9h-.9zM418.2 525.8h.9v.9h-.9zM411.4 524.2h.9v.9h-.9zM426.3 526.9h.9v.9h-.9zM414.5 514.6h.9v.9h-.9zM418.0 527.8h.9v.9h-.9zM410.8 522.7h.9v.9h-.9zM415.5 517.9h.9v.9h-.9zM410.8 527.9h.9v.9h-.9zM412.2 520.8h.9v.9h-.9zM410.7 528.0h.9v.9h-.9zM416.4 519.4h.9v.9h-.9zM412.2 528.2h.9v.9h-.9zM417.1 523.8h.9v.9h-.9zM416.0 526.3h.9v.9h-.9zM421.1 519.8h.9v.9h-.9zM420.7 527.8h.9v.9h-.9zM411.5 524.3h.9v.9h-.9zM416.1 525.3h.9v.9h-.9zM418.0 523.7h.9v.9h-.9zM413.5 525.7h.9v.9h-.9zM419.6 526.4h.9v.9h-.9zM417.7 521.5h.9v.9h-.9zM412.6 527.8h.9v.9h-.9zM410.4 526.6h.9v.9h-.9zM417.5 527.5h.9v.9h-.9zM415.5 520.2h.9v.9h-.9zM410.7 519.9h.9v.9h-.9zM413.0 522.3h.9v.9h-.9zM420.3 518.4h.9v.9h-.9zM412.2 527.3h.9v.9h-.9zM411.6 511.0h.9v.9h-.9zM411.0 522.7h.9v.9h-.9zM413.3 517.7h.9v.9h-.9zM418.2 521.2h.9v.9h-.9zM413.2 528.0h.9v.9h-.9zM423.4 527.0h.9v.9h-.9zM412.3 528.2h.9v.9h-.9zM411.0 514.8h.9v.9h-.9zM412.1 519.8h.9v.9h-.9zM419.7 525.0h.9v.9h-.9zM415.1 526.3h.9v.9h-.9zM410.8 527.7h.9v.9h-.9zM410.2 525.8h.9v.9h-.9zM421.6 527.0h.9v.9h-.9zM415.3 518.6h.9v.9h-.9zM414.7 522.5h.9v.9h-.9zM420.4 522.1h.9v.9h-.9zM422.9 520.1h.9v.9h-.9zM424.6 528.4h.9v.9h-.9zM423.1 524.8h.9v.9h-.9zM420.4 528.5h.9v.9h-.9zM421.1 522.6h.9v.9h-.9zM412.2 527.7h.9v.9h-.9zM416.0 527.2h.9v.9h-.9zM410.7 528.2h.9v.9h-.9zM410.1 527.3h.9v.9h-.9zM416.6 519.0h.9v.9h-.9zM413.7 527.8h.9v.9h-.9zM413.0 525.3h.9v.9h-.9zM413.3 527.3h.9v.9h-.9zM419.3 527.5h.9v.9h-.9zM412.0 526.5h.9v.9h-.9zM411.8 517.0h.9v.9h-.9zM412.0 526.3h.9v.9h-.9zM414.3 524.8h.9v.9h-.9zM410.3 525.2h.9v.9h-.9zM426.3 518.3h.9v.9h-.9zM410.1 527.9h.9v.9h-.9zM413.3 527.3h.9v.9h-.9zM413.6 521.0h.9v.9h-.9zM418.2 527.8h.9v.9h-.9zM418.6 524.1h.9v.9h-.9zM419.9 517.9h.9v.9h-.9zM411.5 518.0h.9v.9h-.9zM422.2 522.6h.9v.9h-.9zM410.4 527.1h.9v.9h-.9zM416.1 518.0h.9v.9h-.9zM424.0 523.4h.9v.9h-.9zM417.7 515.6h.9v.9h-.9zM421.0 525.2h.9v.9h-.9zM410.1 523.5h.9v.9h-.9zM413.9 524.3h.9v.9h-.9zM416.7 525.0h.9v.9h-.9zM420.8 527.6h.9v.9h-.9zM421.6 524.4h.9v.9h-.9zM422.5 512.1h.9v.9h-.9zM410.1 523.8h.9v.9h-.9zM410.0 522.4h.9v.9h-.9zM415.4 528.0h.9v.9h-.9zM422.8 519.7h.9v.9h-.9zM416.1 519.5h.9v.9h-.9zM412.5 516.2h.9v.9h-.9zM412.6 521.5h.9v.9h-.9zM421.1 521.7h.9v.9h-.9zM414.1 520.8h.9v.9h-.9zM416.3 523.1h.9v.9h-.9zM414.3 527.8h.9v.9h-.9zM420.7 526.9h.9v.9h-.9zM427.2 525.2h.9v.9h-.9zM423.9 521.3h.9v.9h-.9zM417.2 514.0h.9v.9h-.9zM414.4 526.4h.9v.9h-.9zM413.8 515.9h.9v.9h-.9zM415.8 528.2h.9v.9h-.9zM414.8 510.9h.9v.9h-.9zM413.6 522.8h.9v.9h-.9zM414.4 520.1h.9v.9h-.9zM410.3 518.6h.9v.9h-.9zM410.1 524.0h.9v.9h-.9zM421.3 527.0h.9v.9h-.9zM411.5 524.1h.9v.9h-.9zM420.5 526.7h.9v.9h-.9zM419.2 523.9h.9v.9h-.9zM419.4 523.3h.9v.9h-.9zM410.9 526.5h.9v.9h-.9zM411.2 528.2h.9v.9h-.9zM412.7 526.1h.9v.9h-.9zM416.6 524.0h.9v.9h-.9zM421.2 526.9h.9v.9h-.9zM411.9 518.4h.9v.9h-.9zM411.5 526.1h.9v.9h-.9zM412.5 522.8h.9v.9h-.9zM413.0 522.6h.9v.9h-.9zM410.5 525.9h.9v.9h-.9zM416.3 526.3h.9v.9h-.9zM410.9 527.3h.9v.9h-.9zM412.6 524.8h.9v.9h-.9zM418.3 520.1h.9v.9h-.9zM412.9 524.3h.9v.9h-.9zM414.9 528.4h.9v.9h-.9zM413.6 526.6h.9v.9h-.9zM415.4 521.9h.9v.9h-.9zM412.5 525.4h.9v.9h-.9zM412.1 526.5h.9v.9h-.9zM417.3 528.0h.9v.9h-.9zM415.6 522.2h.9v.9h-.9zM410.5 526.4h.9v.9h-.9zM424.6 527.5h.9v.9h-.9zM423.2 517.4h.9v.9h-.9zM417.9 521.3h.9v.9h-.9zM418.5 520.5h.9v.9h-.9zM410.1 522.9h.9v.9h-.9zM413.6 528.2h.9v.9h-.9zM410.1 517.9h.9v.9h-.9zM411.6 522.9h.9v.9h-.9zM410.5 524.3h.9v.9h-.9zM411.8 524.6h.9v.9h-.9zM415.3 524.8h.9v.9h-.9zM415.3 523.3h.9v.9h-.9zM411.7 527.2h.9v.9h-.9zM417.4 518.8h.9v.9h-.9zM410.2 527.1h.9v.9h-.9zM413.4 527.5h.9v.9h-.9zM421.5 526.2h.9v.9h-.9zM413.1 526.9h.9v.9h-.9zM414.6 528.1h.9v.9h-.9zM411.0 522.2h.9v.9h-.9zM412.1 527.1h.9v.9h-.9zM415.4 523.4h.9v.9h-.9zM418.8 525.6h.9v.9h-.9zM414.8 526.8h.9v.9h-.9zM410.4 520.9h.9v.9h-.9zM423.2 517.4h.9v.9h-.9zM412.3 526.3h.9v.9h-.9zM418.6 526.1h.9v.9h-.9zM410.3 524.9h.9v.9h-.9zM413.4 525.5h.9v.9h-.9zM415.1 526.3h.9v.9h-.9zM417.4 525.5h.9v.9h-.9zM410.3 526.3h.9v.9h-.9zM416.3 527.1h.9v.9h-.9zM413.1 520.1h.9v.9h-.9zM412.4 526.3h.9v.9h-.9zM418.6 527.9h.9v.9h-.9zM410.5 527.8h.9v.9h-.9zM415.2 522.7h.9v.9h-.9zM418.4 527.6h.9v.9h-.9zM410.6 521.2h.9v.9h-.9zM410.9 521.6h.9v.9h-.9zM418.6 523.3h.9v.9h-.9zM418.3 520.0h.9v.9h-.9zM421.6 525.3h.9v.9h-.9zM414.5 524.1h.9v.9h-.9zM413.9 526.4h.9v.9h-.9zM411.5 520.6h.9v.9h-.9zM412.5 527.2h.9v.9h-.9zM410.4 527.0h.9v.9h-.9zM413.8 527.4h.9v.9h-.9zM414.5 519.3h.9v.9h-.9zM425.4 521.5h.9v.9h-.9zM419.2 523.4h.9v.9h-.9zM428.2 527.4h.9v.9h-.9zM410.9 521.8h.9v.9h-.9zM428.2 527.5h.9v.9h-.9zM433.2 527.7h.9v.9h-.9zM413.8 525.7h.9v.9h-.9zM412.5 525.1h.9v.9h-.9zM418.3 528.6h.9v.9h-.9zM412.8 513.5h.9v.9h-.9zM413.3 523.1h.9v.9h-.9zM416.2 521.2h.9v.9h-.9zM417.2 527.8h.9v.9h-.9zM417.4 519.0h.9v.9h-.9zM420.3 528.6h.9v.9h-.9zM410.4 522.0h.9v.9h-.9zM420.9 525.0h.9v.9h-.9zM413.6 525.2h.9v.9h-.9zM423.8 518.1h.9v.9h-.9zM412.4 526.0h.9v.9h-.9zM419.8 527.5h.9v.9h-.9zM411.9 527.3h.9v.9h-.9zM410.4 525.0h.9v.9h-.9zM417.1 525.2h.9v.9h-.9zM423.2 521.8h.9v.9h-.9zM417.8 518.5h.9v.9h-.9zM415.7 527.3h.9v.9h-.9zM417.2 526.4h.9v.9h-.9zM425.8 524.4h.9v.9h-.9zM411.1 527.9h.9v.9h-.9zM411.5 523.8h.9v.9h-.9zM424.8 526.1h.9v.9h-.9zM418.1 525.1h.9v.9h-.9zM417.9 519.7h.9v.9h-.9zM415.1 522.7h.9v.9h-.9zM414.2 525.6h.9v.9h-.9zM415.4 521.9h.9v.9h-.9zM415.1 516.4h.9v.9h-.9zM414.8 527.7h.9v.9h-.9zM424.2 522.7h.9v.9h-.9zM414.3 527.0h.9v.9h-.9zM412.1 524.3h.9v.9h-.9zM410.6 522.9h.9v.9h-.9zM421.2 527.3h.9v.9h-.9zM421.0 524.2h.9v.9h-.9zM416.0 523.8h.9v.9h-.9zM416.3 519.1h.9v.9h-.9zM418.5 528.2h.9v.9h-.9zM415.2 520.1h.9v.9h-.9zM412.8 525.6h.9v.9h-.9zM422.7 525.9h.9v.9h-.9zM410.9 522.3h.9v.9h-.9zM414.9 527.5h.9v.9h-.9zM426.1 520.3h.9v.9h-.9zM414.4 526.0h.9v.9h-.9zM410.7 523.0h.9v.9h-.9zM416.6 519.8h.9v.9h-.9zM413.7 525.5h.9v.9h-.9zM411.3 524.0h.9v.9h-.9zM414.0 527.9h.9v.9h-.9zM416.5 525.1h.9v.9h-.9zM418.8 524.9h.9v.9h-.9zM419.2 525.8h.9v.9h-.9zM417.2 521.2h.9v.9h-.9zM414.3 527.2h.9v.9h-.9zM411.4 528.5h.9v.9h-.9zM412.0 525.4h.9v.9h-.9zM423.1 517.4h.9v.9h-.9zM411.5 517.3h.9v.9h-.9zM416.7 522.0h.9v.9h-.9zM415.5 513.6h.9v.9h-.9zM414.2 518.9h.9v.9h-.9zM411.8 524.2h.9v.9h-.9zM414.4 521.3h.9v.9h-.9zM419.0 518.7h.9v.9h-.9zM414.2 526.5h.9v.9h-.9zM419.2 527.9h.9v.9h-.9zM410.9 523.9h.9v.9h-.9zM410.7 528.4h.9v.9h-.9zM415.4 520.4h.9v.9h-.9zM415.4 528.5h.9v.9h-.9zM411.1 519.2h.9v.9h-.9zM411.5 528.5h.9v.9h-.9zM423.2 519.4h.9v.9h-.9zM414.2 528.0h.9v.9h-.9zM414.7 522.3h.9v.9h-.9zM413.3 523.0h.9v.9h-.9zM415.7 528.0h.9v.9h-.9zM413.0 527.7h.9v.9h-.9zM411.7 526.4h.9v.9h-.9zM418.2 522.1h.9v.9h-.9zM411.1 518.0h.9v.9h-.9zM410.9 523.2h.9v.9h-.9zM414.8 528.4h.9v.9h-.9zM418.7 525.3h.9v.9h-.9zM414.1 527.5h.9v.9h-.9zM412.6 523.1h.9v.9h-.9zM411.1 524.4h.9v.9h-.9zM413.9 518.3h.9v.9h-.9zM418.3 524.2h.9v.9h-.9zM414.2 519.8h.9v.9h-.9zM414.4 518.6h.9v.9h-.9zM410.4 526.0h.9v.9h-.9zM415.0 522.0h.9v.9h-.9zM413.2 525.6h.9v.9h-.9zM413.1 527.2h.9v.9h-.9zM413.7 525.3h.9v.9h-.9zM410.4 522.3h.9v.9h-.9zM421.8 526.6h.9v.9h-.9zM421.8 526.7h.9v.9h-.9zM411.1 523.7h.9v.9h-.9zM417.3 521.5h.9v.9h-.9zM422.1 520.1h.9v.9h-.9zM411.8 523.6h.9v.9h-.9zM413.0 524.6h.9v.9h-.9zM413.0 525.0h.9v.9h-.9zM411.9 517.5h.9v.9h-.9zM414.0 513.8h.9v.9h-.9zM411.8 523.6h.9v.9h-.9zM414.8 519.8h.9v.9h-.9zM419.7 525.8h.9v.9h-.9zM412.0 527.6h.9v.9h-.9zM414.3 528.3h.9v.9h-.9zM424.0 523.5h.9v.9h-.9zM414.8 527.7h.9v.9h-.9zM416.5 523.7h.9v.9h-.9zM417.1 527.8h.9v.9h-.9zM411.9 521.4h.9v.9h-.9zM410.6 525.8h.9v.9h-.9zM416.7 526.1h.9v.9h-.9zM415.7 528.1h.9v.9h-.9zM412.6 524.9h.9v.9h-.9zM413.5 522.4h.9v.9h-.9zM413.0 518.6h.9v.9h-.9zM415.6 523.9h.9v.9h-.9zM425.7 522.5h.9v.9h-.9zM412.6 526.7h.9v.9h-.9zM420.3 526.3h.9v.9h-.9zM410.4 527.0h.9v.9h-.9zM426.3 527.0h.9v.9h-.9zM415.8 523.7h.9v.9h-.9zM414.6 525.1h.9v.9h-.9zM421.4 524.4h.9v.9h-.9zM411.0 522.2h.9v.9h-.9zM416.4 525.5h.9v.9h-.9zM426.0 520.0h.9v.9h-.9zM415.9 527.0h.9v.9h-.9zM410.5 525.4h.9v.9h-.9zM412.3 527.2h.9v.9h-.9zM414.8 522.3h.9v.9h-.9zM412.3 525.4h.9v.9h-.9zM415.9 519.5h.9v.9h-.9zM416.1 526.1h.9v.9h-.9zM414.0 525.5h.9v.9h-.9zM413.7 528.1h.9v.9h-.9zM410.7 518.8h.9v.9h-.9zM422.6 520.4h.9v.9h-.9zM428.5 526.0h.9v.9h-.9zM414.9 525.6h.9v.9h-.9zM421.6 526.5h.9v.9h-.9zM410.4 525.5h.9v.9h-.9zM416.6 514.4h.9v.9h-.9zM420.8 521.8h.9v.9h-.9zM413.0 524.8h.9v.9h-.9zM410.3 521.9h.9v.9h-.9zM414.2 528.4h.9v.9h-.9zM414.0 524.4h.9v.9h-.9zM415.8 519.8h.9v.9h-.9zM412.6 525.4h.9v.9h-.9zM422.1 523.1h.9v.9h-.9zM416.4 522.7h.9v.9h-.9zM422.7 527.9h.9v.9h-.9zM422.6 520.6h.9v.9h-.9zM416.4 527.0h.9v.9h-.9zM418.0 519.6h.9v.9h-.9zM410.7 522.9h.9v.9h-.9zM414.9 524.6h.9v.9h-.9zM412.6 526.6h.9v.9h-.9zM412.4 515.6h.9v.9h-.9zM419.0 524.1h.9v.9h-.9zM419.6 522.0h.9v.9h-.9zM410.6 515.1h.9v.9h-.9zM417.7 511.3h.9v.9h-.9zM411.7 518.6h.9v.9h-.9zM412.2 524.4h.9v.9h-.9zM414.1 523.7h.9v.9h-.9zM412.1 525.9h.9v.9h-.9zM416.6 527.3h.9v.9h-.9zM413.0 523.6h.9v.9h-.9zM418.1 518.9h.9v.9h-.9zM413.0 526.3h.9v.9h-.9zM421.5 524.9h.9v.9h-.9zM414.8 520.8h.9v.9h-.9zM424.5 525.0h.9v.9h-.9zM417.9 526.6h.9v.9h-.9zM417.0 519.7h.9v.9h-.9zM413.0 516.7h.9v.9h-.9zM411.5 523.3h.9v.9h-.9zM410.0 525.8h.9v.9h-.9zM410.8 527.4h.9v.9h-.9zM411.6 524.5h.9v.9h-.9zM412.5 527.6h.9v.9h-.9zM410.3 524.6h.9v.9h-.9zM417.4 527.2h.9v.9h-.9zM416.0 514.5h.9v.9h-.9zM413.9 520.7h.9v.9h-.9zM416.7 524.4h.9v.9h-.9zM419.9 522.8h.9v.9h-.9zM415.8 517.3h.9v.9h-.9zM413.2 527.3h.9v.9h-.9zM422.0 522.7h.9v.9h-.9zM418.6 527.8h.9v.9h-.9zM423.4 522.4h.9v.9h-.9zM412.6 525.1h.9v.9h-.9zM414.6 524.3h.9v.9h-.9zM421.2 526.2h.9v.9h-.9zM421.8 519.2h.9v.9h-.9zM419.8 526.9h.9v.9h-.9zM420.9 524.7h.9v.9h-.9zM413.0 527.5h.9v.9h-.9zM423.7 527.0h.9v.9h-.9zM411.7 523.1h.9v.9h-.9zM412.1 518.8h.9v.9h-.9zM411.7 524.6h.9v.9h-.9zM427.4 516.0h.9v.9h-.9zM416.7 526.2h.9v.9h-.9zM414.3 515.2h.9v.9h-.9zM411.9 523.7h.9v.9h-.9zM415.8 520.0h.9v.9h-.9zM413.6 521.6h.9v.9h-.9zM421.1 528.6h.9v.9h-.9zM421.7 516.8h.9v.9h-.9zM419.6 528.6h.9v.9h-.9zM411.3 524.9h.9v.9h-.9zM418.0 524.5h.9v.9h-.9zM410.9 516.5h.9v.9h-.9zM421.0 518.2h.9v.9h-.9zM410.4 527.3h.9v.9h-.9zM426.0 528.4h.9v.9h-.9zM425.1 519.9h.9v.9h-.9zM427.4 527.7h.9v.9h-.9zM413.9 527.4h.9v.9h-.9zM419.2 520.7h.9v.9h-.9zM419.0 524.8h.9v.9h-.9zM410.3 523.8h.9v.9h-.9zM417.9 525.1h.9v.9h-.9zM413.2 528.1h.9v.9h-.9zM416.8 528.4h.9v.9h-.9zM412.6 518.8h.9v.9h-.9zM410.5 524.0h.9v.9h-.9zM414.6 528.2h.9v.9h-.9zM423.0 520.8h.9v.9h-.9zM413.0 521.0h.9v.9h-.9zM412.3 518.8h.9v.9h-.9zM412.8 519.4h.9v.9h-.9zM412.0 517.3h.9v.9h-.9zM412.2 527.7h.9v.9h-.9zM417.6 526.4h.9v.9h-.9zM412.4 527.4h.9v.9h-.9zM413.3 520.0h.9v.9h-.9zM415.2 523.4h.9v.9h-.9zM426.8 512.6h.9v.9h-.9zM416.6 519.8h.9v.9h-.9zM410.2 524.6h.9v.9h-.9zM414.1 523.4h.9v.9h-.9zM414.7 525.2h.9v.9h-.9zM412.8 525.0h.9v.9h-.9zM414.2 526.6h.9v.9h-.9zM413.6 522.1h.9v.9h-.9zM413.5 522.3h.9v.9h-.9zM428.7 522.6h.9v.9h-.9zM428.0 527.4h.9v.9h-.9zM414.9 527.9h.9v.9h-.9zM413.5 526.8h.9v.9h-.9zM411.4 526.6h.9v.9h-.9zM415.9 513.7h.9v.9h-.9zM415.8 525.4h.9v.9h-.9zM416.2 526.1h.9v.9h-.9zM412.7 523.0h.9v.9h-.9zM418.6 518.8h.9v.9h-.9zM410.8 528.3h.9v.9h-.9zM417.1 520.7h.9v.9h-.9zM416.5 521.9h.9v.9h-.9zM416.7 525.7h.9v.9h-.9zM415.8 526.5h.9v.9h-.9zM420.4 525.6h.9v.9h-.9zM411.7 514.0h.9v.9h-.9zM414.4 524.1h.9v.9h-.9zM417.9 520.1h.9v.9h-.9zM419.5 523.8h.9v.9h-.9zM419.7 516.4h.9v.9h-.9zM417.2 526.7h.9v.9h-.9zM411.5 525.9h.9v.9h-.9zM420.8 522.1h.9v.9h-.9zM416.5 527.7h.9v.9h-.9zM418.7 527.7h.9v.9h-.9zM420.4 519.0h.9v.9h-.9zM415.4 522.6h.9v.9h-.9zM419.7 524.9h.9v.9h-.9zM416.7 527.8h.9v.9h-.9zM417.8 523.2h.9v.9h-.9zM411.3 524.1h.9v.9h-.9zM415.1 524.3h.9v.9h-.9zM420.8 518.5h.9v.9h-.9zM415.8 527.4h.9v.9h-.9zM416.9 518.9h.9v.9h-.9zM416.1 520.8h.9v.9h-.9zM414.9 528.1h.9v.9h-.9zM422.6 524.6h.9v.9h-.9zM413.3 525.2h.9v.9h-.9zM415.5 526.9h.9v.9h-.9zM411.2 519.1h.9v.9h-.9zM425.4 520.8h.9v.9h-.9zM426.1 524.3h.9v.9h-.9zM424.4 521.3h.9v.9h-.9zM414.5 527.0h.9v.9h-.9zM410.2 516.7h.9v.9h-.9zM412.5 526.9h.9v.9h-.9zM418.8 521.4h.9v.9h-.9zM426.9 519.2h.9v.9h-.9zM412.5 528.1h.9v.9h-.9zM411.1 527.7h.9v.9h-.9zM412.7 520.4h.9v.9h-.9zM413.4 526.3h.9v.9h-.9zM414.3 521.1h.9v.9h-.9zM419.3 514.6h.9v.9h-.9zM423.4 515.8h.9v.9h-.9zM416.8 526.2h.9v.9h-.9zM410.1 524.2h.9v.9h-.9zM434.1 525.5h.9v.9h-.9zM411.3 525.0h.9v.9h-.9zM411.8 525.5h.9v.9h-.9zM417.3 520.7h.9v.9h-.9zM418.6 525.9h.9v.9h-.9zM410.8 527.2h.9v.9h-.9zM422.3 524.7h.9v.9h-.9zM417.3 525.6h.9v.9h-.9zM417.5 523.1h.9v.9h-.9zM413.9 523.5h.9v.9h-.9zM423.9 524.5h.9v.9h-.9zM418.3 524.7h.9v.9h-.9zM412.9 525.7h.9v.9h-.9zM418.5 522.4h.9v.9h-.9zM423.5 528.3h.9v.9h-.9zM412.0 521.6h.9v.9h-.9zM423.4 528.2h.9v.9h-.9zM419.6 524.0h.9v.9h-.9zM421.0 524.5h.9v.9h-.9zM426.0 520.3h.9v.9h-.9zM426.6 524.8h.9v.9h-.9zM414.9 525.1h.9v.9h-.9zM414.2 525.3h.9v.9h-.9zM420.9 522.6h.9v.9h-.9zM413.3 517.8h.9v.9h-.9zM421.4 528.1h.9v.9h-.9zM415.3 519.4h.9v.9h-.9zM410.8 520.4h.9v.9h-.9zM418.1 518.7h.9v.9h-.9zM416.0 528.3h.9v.9h-.9zM412.8 527.4h.9v.9h-.9zM421.4 524.3h.9v.9h-.9zM417.5 520.4h.9v.9h-.9zM424.6 522.8h.9v.9h-.9zM416.8 525.3h.9v.9h-.9zM412.9 527.6h.9v.9h-.9zM410.6 525.8h.9v.9h-.9zM410.6 525.7h.9v.9h-.9zM415.6 523.9h.9v.9h-.9zM410.9 524.0h.9v.9h-.9zM411.3 520.0h.9v.9h-.9zM417.2 524.6h.9v.9h-.9zM410.9 524.5h.9v.9h-.9zM413.4 524.6h.9v.9h-.9zM421.6 518.8h.9v.9h-.9zM434.7 521.2h.9v.9h-.9zM418.8 525.1h.9v.9h-.9zM414.5 519.2h.9v.9h-.9zM424.4 525.3h.9v.9h-.9zM424.9 520.1h.9v.9h-.9zM413.7 528.1h.9v.9h-.9zM410.0 525.2h.9v.9h-.9zM411.1 526.8h.9v.9h-.9zM419.3 528.0h.9v.9h-.9zM410.2 525.4h.9v.9h-.9zM414.8 524.2h.9v.9h-.9zM410.1 517.6h.9v.9h-.9zM418.4 527.2h.9v.9h-.9zM422.5 522.5h.9v.9h-.9zM411.6 527.6h.9v.9h-.9zM418.2 527.1h.9v.9h-.9zM412.4 519.1h.9v.9h-.9zM419.6 517.0h.9v.9h-.9zM411.6 525.6h.9v.9h-.9zM411.5 525.8h.9v.9h-.9zM413.5 522.1h.9v.9h-.9zM412.3 525.5h.9v.9h-.9zM417.7 525.7h.9v.9h-.9zM411.3 524.2h.9v.9h-.9zM414.5 526.4h.9v.9h-.9zM418.6 524.0h.9v.9h-.9zM422.7 526.7h.9v.9h-.9zM416.3 523.2h.9v.9h-.9zM415.0 523.5h.9v.9h-.9zM423.5 520.9h.9v.9h-.9zM413.9 520.1h.9v.9h-.9zM410.2 524.2h.9v.9h-.9zM423.6 526.0h.9v.9h-.9zM426.5 525.4h.9v.9h-.9zM416.1 520.9h.9v.9h-.9zM417.2 526.6h.9v.9h-.9zM412.0 525.8h.9v.9h-.9zM418.6 527.3h.9v.9h-.9zM410.8 522.9h.9v.9h-.9zM422.0 525.2h.9v.9h-.9zM413.8 526.7h.9v.9h-.9zM415.4 524.8h.9v.9h-.9zM430.5 524.4h.9v.9h-.9zM416.3 522.5h.9v.9h-.9zM417.2 527.4h.9v.9h-.9zM416.2 527.1h.9v.9h-.9zM415.0 527.9h.9v.9h-.9zM414.4 525.2h.9v.9h-.9zM416.6 523.0h.9v.9h-.9zM420.8 525.7h.9v.9h-.9zM421.9 517.4h.9v.9h-.9zM416.3 523.0h.9v.9h-.9zM417.3 521.8h.9v.9h-.9zM416.5 522.3h.9v.9h-.9zM416.1 513.6h.9v.9h-.9zM410.7 512.5h.9v.9h-.9zM411.0 528.3h.9v.9h-.9zM414.8 527.3h.9v.9h-.9zM413.8 528.5h.9v.9h-.9zM415.8 521.0h.9v.9h-.9zM416.9 516.0h.9v.9h-.9zM421.3 528.2h.9v.9h-.9zM410.1 528.3h.9v.9h-.9zM417.5 526.7h.9v.9h-.9zM416.4 527.6h.9v.9h-.9zM410.9 528.3h.9v.9h-.9zM424.0 522.1h.9v.9h-.9zM421.8 522.6h.9v.9h-.9zM415.0 528.3h.9v.9h-.9zM416.1 518.4h.9v.9h-.9zM424.0 520.3h.9v.9h-.9zM411.7 516.3h.9v.9h-.9zM416.6 528.1h.9v.9h-.9zM417.5 527.3h.9v.9h-.9zM410.9 526.5h.9v.9h-.9zM420.2 513.8h.9v.9h-.9zM419.5 522.2h.9v.9h-.9zM410.5 525.2h.9v.9h-.9zM417.3 521.9h.9v.9h-.9zM433.0 523.1h.9v.9h-.9zM420.5 528.3h.9v.9h-.9zM412.5 525.7h.9v.9h-.9zM411.4 521.1h.9v.9h-.9zM420.2 518.6h.9v.9h-.9zM410.1 525.3h.9v.9h-.9zM412.3 525.7h.9v.9h-.9zM421.4 522.9h.9v.9h-.9zM414.7 522.6h.9v.9h-.9zM418.6 525.1h.9v.9h-.9zM418.0 524.7h.9v.9h-.9zM412.6 528.4h.9v.9h-.9zM414.9 526.5h.9v.9h-.9zM410.2 524.1h.9v.9h-.9zM412.5 524.6h.9v.9h-.9zM417.1 524.8h.9v.9h-.9zM415.2 525.1h.9v.9h-.9zM410.5 524.4h.9v.9h-.9zM416.9 518.6h.9v.9h-.9zM418.5 526.5h.9v.9h-.9zM419.1 524.8h.9v.9h-.9zM411.2 526.5h.9v.9h-.9zM415.9 525.9h.9v.9h-.9zM419.2 524.0h.9v.9h-.9zM415.7 526.2h.9v.9h-.9zM427.6 527.5h.9v.9h-.9zM410.2 525.1h.9v.9h-.9zM412.3 523.6h.9v.9h-.9zM419.9 523.6h.9v.9h-.9zM414.1 527.0h.9v.9h-.9zM413.7 527.7h.9v.9h-.9zM416.2 521.5h.9v.9h-.9zM415.8 521.6h.9v.9h-.9zM418.3 526.0h.9v.9h-.9zM411.8 526.2h.9v.9h-.9zM410.6 519.1h.9v.9h-.9zM414.5 528.4h.9v.9h-.9zM413.9 523.0h.9v.9h-.9zM411.7 526.4h.9v.9h-.9zM410.5 528.3h.9v.9h-.9zM411.3 522.6h.9v.9h-.9zM411.0 526.2h.9v.9h-.9zM419.2 510.9h.9v.9h-.9zM413.0 524.5h.9v.9h-.9zM412.5 524.9h.9v.9h-.9zM419.3 523.2h.9v.9h-.9zM414.0 527.1h.9v.9h-.9zM418.5 525.4h.9v.9h-.9zM426.8 527.8h.9v.9h-.9zM417.2 524.4h.9v.9h-.9zM414.9 528.3h.9v.9h-.9zM414.2 522.5h.9v.9h-.9zM412.2 524.0h.9v.9h-.9zM422.6 524.2h.9v.9h-.9zM414.1 528.1h.9v.9h-.9zM413.9 528.3h.9v.9h-.9zM414.6 520.1h.9v.9h-.9zM428.1 520.9h.9v.9h-.9zM421.4 525.9h.9v.9h-.9zM411.2 525.8h.9v.9h-.9zM411.1 526.8h.9v.9h-.9zM420.4 523.8h.9v.9h-.9zM416.7 521.0h.9v.9h-.9z" fill="#111"/>
<path d="M413.5 511.6h.7v.7h-.7zM434.2 525.3h.7v.7h-.7zM421.0 519.4h.7v.7h-.7zM421.6 520.4h.7v.7h-.7zM422.8 526.4h.7v.7h-.7zM420.3 517.3h.7v.7h-.7zM426.2 524.4h.7v.7h-.7zM424.2 526.1h.7v.7h-.7zM419.7 528.5h.7v.7h-.7zM424.4 528.7h.7v.7h-.7zM417.6 508.5h.7v.7h-.7zM422.2 528.1h.7v.7h-.7zM414.6 523.9h.7v.7h-.7zM425.8 520.3h.7v.7h-.7zM424.3 528.1h.7v.7h-.7zM424.5 523.5h.7v.7h-.7zM413.5 520.1h.7v.7h-.7zM429.3 522.1h.7v.7h-.7zM423.6 520.9h.7v.7h-.7zM425.3 525.1h.7v.7h-.7zM411.1 523.7h.7v.7h-.7zM429.9 525.3h.7v.7h-.7zM433.8 526.0h.7v.7h-.7zM413.8 519.1h.7v.7h-.7zM415.7 523.7h.7v.7h-.7zM441.8 528.6h.7v.7h-.7zM417.6 528.1h.7v.7h-.7zM418.5 528.8h.7v.7h-.7zM414.1 512.3h.7v.7h-.7zM419.3 515.6h.7v.7h-.7zM413.0 520.1h.7v.7h-.7zM415.0 521.8h.7v.7h-.7zM422.8 525.9h.7v.7h-.7zM437.8 527.4h.7v.7h-.7zM416.8 519.5h.7v.7h-.7zM425.8 526.1h.7v.7h-.7zM426.5 523.5h.7v.7h-.7zM422.2 513.5h.7v.7h-.7zM414.2 528.0h.7v.7h-.7zM429.7 518.8h.7v.7h-.7zM425.8 528.2h.7v.7h-.7zM437.0 527.5h.7v.7h-.7zM414.1 521.8h.7v.7h-.7zM438.2 526.7h.7v.7h-.7zM425.5 514.7h.7v.7h-.7zM413.8 527.5h.7v.7h-.7zM414.0 517.6h.7v.7h-.7zM429.6 524.5h.7v.7h-.7zM437.2 523.6h.7v.7h-.7zM410.9 526.6h.7v.7h-.7zM422.7 512.0h.7v.7h-.7zM427.2 528.6h.7v.7h-.7zM419.0 521.7h.7v.7h-.7zM422.3 514.4h.7v.7h-.7zM413.6 527.7h.7v.7h-.7zM413.9 511.4h.7v.7h-.7zM424.4 521.9h.7v.7h-.7zM411.2 513.4h.7v.7h-.7zM422.4 514.9h.7v.7h-.7zM420.3 517.2h.7v.7h-.7zM415.4 509.3h.7v.7h-.7zM418.7 529.0h.7v.7h-.7zM420.5 523.0h.7v.7h-.7zM416.9 524.6h.7v.7h-.7zM444.0 509.8h.7v.7h-.7zM437.1 520.2h.7v.7h-.7zM416.4 522.7h.7v.7h-.7zM439.6 511.4h.7v.7h-.7zM415.5 510.8h.7v.7h-.7zM439.8 515.2h.7v.7h-.7zM441.4 507.8h.7v.7h-.7zM415.8 512.4h.7v.7h-.7zM443.7 507.9h.7v.7h-.7zM414.6 522.1h.7v.7h-.7zM415.3 520.0h.7v.7h-.7zM415.0 509.9h.7v.7h-.7zM435.9 525.0h.7v.7h-.7zM426.7 514.8h.7v.7h-.7zM413.1 512.2h.7v.7h-.7zM420.7 522.9h.7v.7h-.7zM437.7 522.8h.7v.7h-.7zM431.1 520.8h.7v.7h-.7zM416.6 513.2h.7v.7h-.7zM422.5 510.8h.7v.7h-.7zM438.6 509.1h.7v.7h-.7zM423.7 510.8h.7v.7h-.7zM443.1 519.3h.7v.7h-.7zM429.3 513.1h.7v.7h-.7zM445.2 526.5h.7v.7h-.7zM428.2 517.6h.7v.7h-.7zM443.1 510.2h.7v.7h-.7zM421.3 506.5h.7v.7h-.7zM430.1 522.4h.7v.7h-.7zM417.6 514.4h.7v.7h-.7zM447.7 515.5h.7v.7h-.7zM425.8 524.1h.7v.7h-.7zM444.1 513.0h.7v.7h-.7zM416.4 519.3h.7v.7h-.7zM438.7 526.2h.7v.7h-.7zM435.8 511.4h.7v.7h-.7zM430.5 510.9h.7v.7h-.7zM428.1 515.2h.7v.7h-.7zM444.8 525.7h.7v.7h-.7zM445.3 515.5h.7v.7h-.7zM446.7 507.3h.7v.7h-.7zM445.2 519.4h.7v.7h-.7zM443.4 513.9h.7v.7h-.7zM447.7 504.6h.7v.7h-.7zM442.5 523.7h.7v.7h-.7zM425.5 523.9h.7v.7h-.7zM419.7 522.1h.7v.7h-.7zM428.9 513.9h.7v.7h-.7zM419.1 523.2h.7v.7h-.7zM438.3 506.1h.7v.7h-.7zM447.2 509.3h.7v.7h-.7zM425.5 514.0h.7v.7h-.7zM432.8 525.4h.7v.7h-.7zM446.0 519.2h.7v.7h-.7zM425.2 506.6h.7v.7h-.7zM414.5 516.5h.7v.7h-.7zM433.0 514.7h.7v.7h-.7zM447.4 513.9h.7v.7h-.7zM424.6 514.0h.7v.7h-.7z" fill="#666"/>
</svg></body></html>
